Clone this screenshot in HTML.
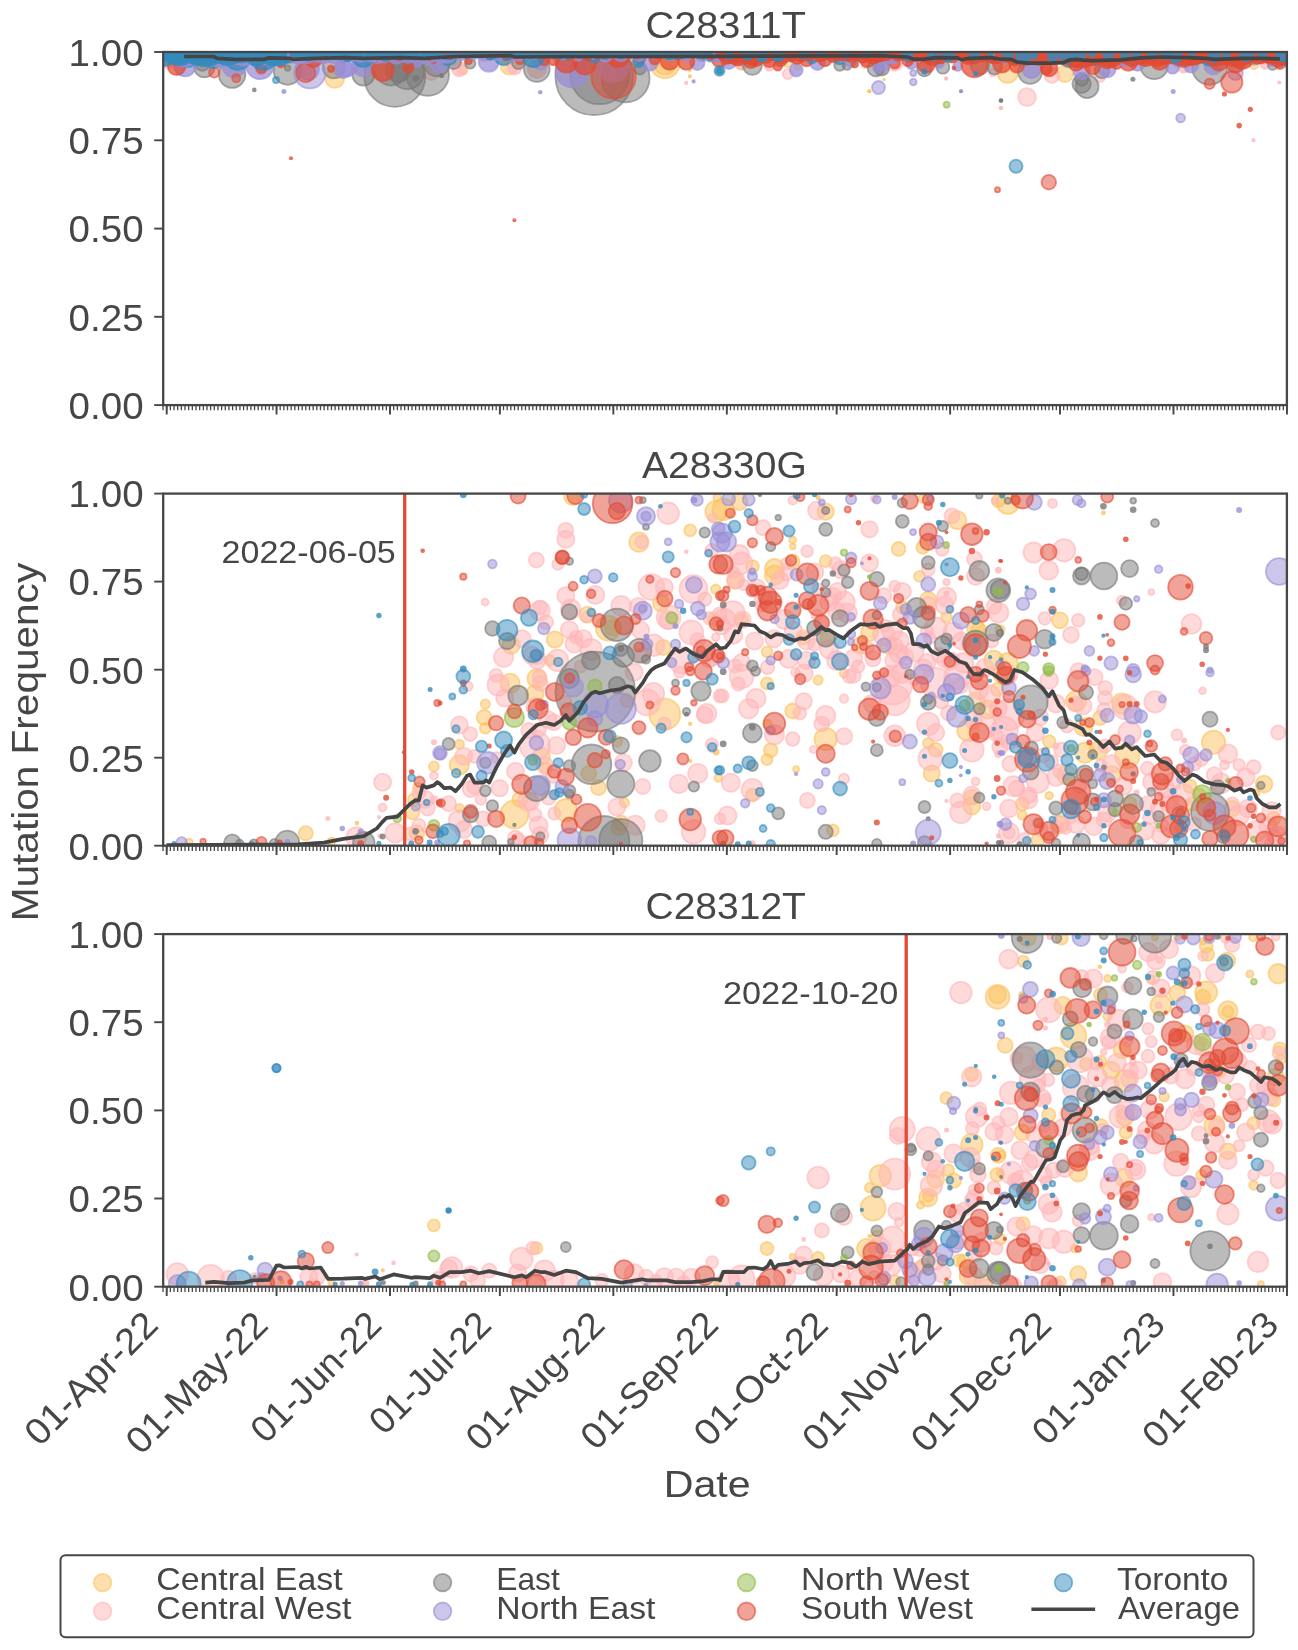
<!DOCTYPE html>
<html><head><meta charset="utf-8"><title>Mutation Frequency</title>
<style>
html,body{margin:0;padding:0;background:#fff;}
svg{display:block;will-change:transform;}
text{font-family:"Liberation Sans",sans-serif;fill:#464646;}
.y{fill:#FBC15E;fill-opacity:.5;stroke:#FBC15E;stroke-opacity:.6;stroke-width:1.8;}
.p{fill:#FFB5B8;fill-opacity:.5;stroke:#FFB5B8;stroke-opacity:.6;stroke-width:1.8;}
.g{fill:#777777;fill-opacity:.5;stroke:#777777;stroke-opacity:.6;stroke-width:1.8;}
.v{fill:#988ED5;fill-opacity:.5;stroke:#988ED5;stroke-opacity:.6;stroke-width:1.8;}
.n{fill:#8EBA42;fill-opacity:.5;stroke:#8EBA42;stroke-opacity:.6;stroke-width:1.8;}
.r{fill:#E24A33;fill-opacity:.5;stroke:#E24A33;stroke-opacity:.6;stroke-width:1.8;}
.b{fill:#348ABD;fill-opacity:.5;stroke:#348ABD;stroke-opacity:.6;stroke-width:1.8;}
.o{fill-opacity:.72}.s{fill-opacity:.8;stroke:none}
.V{fill:#988ED5;fill-opacity:.8}.R{fill:#E24A33;fill-opacity:.85}.B{fill:#348ABD;fill-opacity:.85}
.av{fill:none;stroke:#454545;stroke-width:3.7;stroke-linejoin:round;stroke-linecap:butt;}
</style></head><body>
<svg width="1298" height="1650" viewBox="0 0 1298 1650">
<defs>
<clipPath id="c0"><rect x="163.2" y="52.0" width="1123.7" height="353.1"/></clipPath>
<clipPath id="c1"><rect x="163.2" y="493.6" width="1123.7" height="352.1"/></clipPath>
<clipPath id="c2"><rect x="163.2" y="934.1" width="1123.7" height="352.6"/></clipPath>
</defs>
<g clip-path="url(#c0)">
<circle class="y" cx="334.7" cy="78.3" r="9.6"/>
<circle class="y" cx="462.9" cy="70.0" r="4.6"/>
<circle class="y" cx="509.1" cy="66.3" r="8.3"/>
<circle class="y" cx="665.0" cy="63.5" r="14.8"/>
<circle class="y" cx="665.0" cy="63.5" r="11.1"/>
<circle class="y s" cx="689.9" cy="70.0" r="2.1"/>
<circle class="y s" cx="689.9" cy="76.4" r="2.1"/>
<circle class="y" cx="741.7" cy="65.3" r="4.6"/>
<circle class="y" cx="787.9" cy="62.6" r="4.6"/>
<circle class="y" cx="797.2" cy="67.2" r="2.8"/>
<circle class="y s" cx="869.3" cy="91.2" r="2.1"/>
<circle class="y s" cx="883.7" cy="72.7" r="2.1"/>
<circle class="y s" cx="884.1" cy="79.6" r="1.7"/>
<circle class="y" cx="1007.6" cy="72.7" r="10.2"/>
<circle class="y" cx="1064.9" cy="73.7" r="8.3"/>
<circle class="y" cx="1254.0" cy="64.4" r="4.6"/>
<circle class="y s" cx="869.3" cy="91.5" r="1.8"/>
<circle class="p o" cx="167.4" cy="59.8" r="8.3"/>
<circle class="p" cx="431.4" cy="72.7" r="7.4"/>
<circle class="p o" cx="459.2" cy="69.0" r="7.4"/>
<circle class="p o" cx="514.6" cy="67.2" r="7.4"/>
<circle class="p o" cx="536.8" cy="69.0" r="9.2"/>
<circle class="p s" cx="686.2" cy="82.9" r="2.1"/>
<circle class="p o" cx="739.9" cy="63.5" r="5.5"/>
<circle class="p o" cx="769.4" cy="66.3" r="4.6"/>
<circle class="p" cx="787.9" cy="74.0" r="5.2"/>
<circle class="p o" cx="864.7" cy="65.3" r="2.8"/>
<circle class="p o" cx="894.8" cy="63.5" r="7.4"/>
<circle class="p s" cx="946.2" cy="78.7" r="2.1"/>
<circle class="p" cx="992.8" cy="72.7" r="3.7"/>
<circle class="p" cx="1027.0" cy="97.1" r="8.9"/>
<circle class="p s" cx="1001.1" cy="107.9" r="2.1"/>
<circle class="p" cx="1052.0" cy="75.5" r="7.4"/>
<circle class="p" cx="1100.0" cy="76.4" r="5.5"/>
<circle class="p o" cx="1183.7" cy="67.2" r="5.5"/>
<circle class="p s" cx="1279.3" cy="82.5" r="2.1"/>
<circle class="p o" cx="1265.1" cy="64.4" r="4.6"/>
<circle class="p s" cx="1253.5" cy="140.2" r="2.1"/>
<circle class="p s" cx="946.1" cy="78.2" r="1.8"/>
<circle class="p s" cx="1000.8" cy="108.0" r="2.1"/>
<circle class="g" cx="204.4" cy="67.2" r="10.2"/>
<circle class="g" cx="202.5" cy="63.5" r="7.4"/>
<circle class="g" cx="232.1" cy="74.6" r="13.3"/>
<circle class="g s" cx="254.3" cy="89.9" r="2.3"/>
<circle class="g" cx="287.6" cy="70.9" r="13.9"/>
<circle class="g" cx="287.6" cy="68.1" r="2.8"/>
<circle class="g" cx="333.8" cy="67.2" r="11.1"/>
<circle class="g" cx="363.4" cy="74.6" r="11.1"/>
<circle class="g" cx="394.8" cy="76.4" r="30.5"/>
<circle class="g" cx="391.1" cy="69.0" r="16.6"/>
<circle class="g" cx="398.5" cy="69.0" r="12.9"/>
<circle class="g" cx="427.7" cy="74.6" r="21.3"/>
<circle class="g" cx="407.4" cy="72.7" r="16.6"/>
<circle class="g s" cx="415.7" cy="78.3" r="3.4"/>
<circle class="g s" cx="441.6" cy="75.5" r="2.6"/>
<circle class="g" cx="437.0" cy="63.5" r="12.9"/>
<circle class="g" cx="453.6" cy="61.6" r="7.4"/>
<circle class="g" cx="470.3" cy="63.5" r="5.2"/>
<circle class="g" cx="518.3" cy="62.6" r="6.5"/>
<circle class="g" cx="536.8" cy="69.0" r="12.9"/>
<circle class="g" cx="594.2" cy="76.4" r="38.8"/>
<circle class="g" cx="599.7" cy="74.6" r="29.6"/>
<circle class="g" cx="625.6" cy="78.3" r="24.0"/>
<circle class="g" cx="640.0" cy="69.0" r="5.5"/>
<circle class="g" cx="752.4" cy="65.3" r="9.6"/>
<circle class="g" cx="839.7" cy="65.3" r="5.5"/>
<circle class="g" cx="847.1" cy="65.3" r="4.6"/>
<circle class="g" cx="875.8" cy="68.1" r="8.3"/>
<circle class="g" cx="881.8" cy="68.1" r="7.4"/>
<circle class="g" cx="924.4" cy="69.0" r="7.4"/>
<circle class="g" cx="942.9" cy="67.2" r="6.5"/>
<circle class="g" cx="979.9" cy="65.3" r="9.2"/>
<circle class="g" cx="994.6" cy="67.2" r="7.4"/>
<circle class="g" cx="1030.1" cy="71.8" r="12.0"/>
<circle class="g s" cx="1001.1" cy="100.5" r="2.3"/>
<circle class="g" cx="1081.6" cy="83.8" r="9.2"/>
<circle class="g" cx="1087.1" cy="86.6" r="11.5"/>
<circle class="g" cx="1081.6" cy="79.2" r="6.5"/>
<circle class="g" cx="1101.9" cy="70.9" r="7.4"/>
<circle class="g s" cx="1132.9" cy="79.2" r="2.5"/>
<circle class="g" cx="1154.2" cy="65.3" r="13.9"/>
<circle class="g" cx="1209.6" cy="67.2" r="17.6"/>
<circle class="g" cx="1272.5" cy="65.3" r="4.6"/>
<circle class="g s" cx="1000.8" cy="100.7" r="2.1"/>
<circle class="v o" cx="185.0" cy="65.3" r="11.1"/>
<circle class="v o" cx="234.0" cy="65.3" r="12.0"/>
<circle class="v o" cx="259.9" cy="65.3" r="13.9"/>
<circle class="v s" cx="283.9" cy="91.6" r="2.5"/>
<circle class="v" cx="309.8" cy="72.7" r="15.7"/>
<circle class="v o" cx="307.9" cy="69.0" r="11.1"/>
<circle class="v o" cx="343.1" cy="69.0" r="9.2"/>
<circle class="v o" cx="346.8" cy="65.3" r="11.1"/>
<circle class="v o" cx="363.4" cy="65.3" r="11.1"/>
<circle class="v o" cx="416.6" cy="61.6" r="5.5"/>
<circle class="v o" cx="438.8" cy="63.5" r="9.2"/>
<circle class="v o" cx="488.8" cy="61.6" r="10.2"/>
<circle class="v o" cx="540.5" cy="61.6" r="8.3"/>
<circle class="v s" cx="540.2" cy="92.3" r="2.3"/>
<circle class="v o" cx="572.0" cy="70.9" r="16.6"/>
<circle class="v o" cx="612.6" cy="65.3" r="16.6"/>
<circle class="v o" cx="649.2" cy="61.6" r="9.2"/>
<circle class="v o" cx="697.3" cy="62.6" r="7.4"/>
<circle class="v s" cx="693.6" cy="81.4" r="2.1"/>
<circle class="v o" cx="728.8" cy="61.6" r="7.4"/>
<circle class="v o" cx="743.6" cy="60.7" r="4.6"/>
<circle class="v o" cx="796.2" cy="70.0" r="6.5"/>
<circle class="v o" cx="817.5" cy="62.6" r="7.4"/>
<circle class="v o" cx="850.8" cy="61.6" r="5.5"/>
<circle class="v o" cx="878.5" cy="67.2" r="5.5"/>
<circle class="v" cx="878.5" cy="87.5" r="6.5"/>
<circle class="v o" cx="883.7" cy="65.3" r="5.5"/>
<circle class="v" cx="913.3" cy="73.1" r="3.0"/>
<circle class="v" cx="913.3" cy="82.0" r="3.3"/>
<circle class="v o" cx="911.4" cy="63.5" r="5.5"/>
<circle class="v o" cx="939.2" cy="63.5" r="4.6"/>
<circle class="v o" cx="957.7" cy="66.3" r="4.6"/>
<circle class="v s" cx="961.0" cy="91.2" r="2.1"/>
<circle class="v o" cx="1031.6" cy="69.0" r="9.2"/>
<circle class="v o" cx="1081.6" cy="70.9" r="8.3"/>
<circle class="v o" cx="1107.4" cy="69.0" r="8.3"/>
<circle class="v o" cx="1137.5" cy="63.5" r="7.4"/>
<circle class="v s" cx="1173.2" cy="91.6" r="2.5"/>
<circle class="v o" cx="1172.6" cy="67.2" r="6.5"/>
<circle class="v o" cx="1191.1" cy="65.3" r="7.4"/>
<circle class="v o" cx="1213.3" cy="65.3" r="9.2"/>
<circle class="v" cx="1235.5" cy="72.7" r="7.4"/>
<circle class="v" cx="1180.6" cy="118.0" r="4.4"/>
<circle class="v s" cx="961.0" cy="91.5" r="1.8"/>
<circle class="n" cx="946.6" cy="104.7" r="3.0"/>
<circle class="r o" cx="176.6" cy="66.3" r="8.9"/>
<circle class="r" cx="214.2" cy="72.4" r="5.2"/>
<circle class="r" cx="236.2" cy="78.3" r="4.1"/>
<circle class="r o" cx="261.3" cy="68.1" r="5.5"/>
<circle class="r o" cx="281.1" cy="63.5" r="4.1"/>
<circle class="r" cx="305.7" cy="72.7" r="9.6"/>
<circle class="r o" cx="289.4" cy="54.2" r="7.4"/>
<circle class="r o" cx="313.5" cy="57.9" r="9.2"/>
<circle class="r o" cx="331.0" cy="68.7" r="3.3"/>
<circle class="r o" cx="382.8" cy="70.0" r="11.1"/>
<circle class="r o" cx="387.4" cy="55.2" r="7.4"/>
<circle class="r o" cx="342.1" cy="56.1" r="4.6"/>
<circle class="r o" cx="317.2" cy="54.2" r="3.7"/>
<circle class="r o" cx="408.3" cy="67.2" r="5.5"/>
<circle class="r o" cx="433.3" cy="59.8" r="3.7"/>
<circle class="r o" cx="468.4" cy="60.7" r="3.7"/>
<circle class="r o" cx="520.2" cy="59.8" r="4.6"/>
<circle class="r o" cx="544.2" cy="59.8" r="5.5"/>
<circle class="r o" cx="566.4" cy="61.6" r="11.1"/>
<circle class="r o" cx="584.9" cy="63.5" r="11.1"/>
<circle class="r" cx="613.6" cy="76.4" r="22.2"/>
<circle class="r o" cx="618.2" cy="56.1" r="11.1"/>
<circle class="r o" cx="553.5" cy="59.8" r="5.5"/>
<circle class="r o" cx="420.3" cy="54.2" r="3.7"/>
<circle class="r o" cx="640.0" cy="57.9" r="5.5"/>
<circle class="r o" cx="669.6" cy="60.7" r="9.2"/>
<circle class="r o" cx="686.2" cy="61.6" r="8.3"/>
<circle class="r o" cx="719.5" cy="59.8" r="7.4"/>
<circle class="r o" cx="750.9" cy="60.7" r="7.4"/>
<circle class="r o" cx="769.4" cy="59.8" r="7.4"/>
<circle class="r o" cx="777.8" cy="66.3" r="4.4"/>
<circle class="r o" cx="780.5" cy="59.8" r="6.5"/>
<circle class="r o" cx="806.4" cy="59.8" r="6.5"/>
<circle class="r o" cx="824.9" cy="59.8" r="6.5"/>
<circle class="r o" cx="854.9" cy="64.4" r="3.3"/>
<circle class="r o" cx="867.4" cy="59.8" r="7.4"/>
<circle class="r o" cx="654.8" cy="58.9" r="5.5"/>
<circle class="r o" cx="894.8" cy="63.5" r="5.2"/>
<circle class="r o" cx="926.2" cy="63.5" r="9.2"/>
<circle class="r o" cx="907.7" cy="60.7" r="5.5"/>
<circle class="r s" cx="954.0" cy="68.1" r="2.3"/>
<circle class="r o" cx="974.3" cy="64.4" r="12.9"/>
<circle class="r o" cx="1002.0" cy="63.5" r="9.2"/>
<circle class="r o" cx="1016.8" cy="65.3" r="7.4"/>
<circle class="r o" cx="1049.2" cy="68.1" r="8.3"/>
<circle class="r o" cx="1046.4" cy="69.0" r="5.5"/>
<circle class="r o" cx="1076.0" cy="63.5" r="7.4"/>
<circle class="r o" cx="1092.6" cy="67.2" r="7.4"/>
<circle class="r o" cx="1116.7" cy="63.5" r="5.5"/>
<circle class="r o" cx="935.5" cy="56.1" r="5.5"/>
<circle class="r o" cx="990.9" cy="56.1" r="5.5"/>
<circle class="r o" cx="1083.4" cy="56.1" r="5.5"/>
<circle class="r o" cx="885.5" cy="56.1" r="5.5"/>
<circle class="r o" cx="1128.3" cy="61.6" r="9.2"/>
<circle class="r o" cx="1159.7" cy="60.7" r="9.2"/>
<circle class="r o" cx="1183.7" cy="59.8" r="7.4"/>
<circle class="r" cx="1209.6" cy="83.8" r="5.2"/>
<circle class="r" cx="1231.8" cy="82.0" r="10.7"/>
<circle class="r s" cx="1224.4" cy="94.0" r="2.6"/>
<circle class="r s" cx="1250.3" cy="109.3" r="2.6"/>
<circle class="r s" cx="1239.2" cy="125.6" r="2.8"/>
<circle class="r o" cx="1218.9" cy="61.6" r="9.2"/>
<circle class="r o" cx="1235.5" cy="63.5" r="9.2"/>
<circle class="r o" cx="1279.9" cy="63.5" r="5.5"/>
<circle class="r o" cx="1261.4" cy="57.9" r="5.5"/>
<circle class="r o" cx="1143.1" cy="56.1" r="5.5"/>
<circle class="r o" cx="1242.9" cy="58.9" r="6.5"/>
<circle class="r" cx="1048.8" cy="182.2" r="7.3"/>
<circle class="r" cx="997.5" cy="189.8" r="2.6"/>
<circle class="r s" cx="291.0" cy="158.2" r="2.0"/>
<circle class="r s" cx="514.4" cy="220.2" r="2.0"/>
<circle class="b o" cx="187.7" cy="54.2" r="12.9"/>
<circle class="b o" cx="176.6" cy="54.2" r="9.2"/>
<circle class="b o" cx="213.6" cy="56.1" r="12.0"/>
<circle class="b o" cx="237.7" cy="56.1" r="13.9"/>
<circle class="b o" cx="263.6" cy="55.2" r="14.8"/>
<circle class="b" cx="276.1" cy="80.1" r="3.1"/>
<circle class="b o" cx="300.5" cy="53.3" r="7.4"/>
<circle class="b o" cx="363.4" cy="56.1" r="11.1"/>
<circle class="b o" cx="278.3" cy="54.2" r="9.2"/>
<circle class="b o" cx="344.9" cy="54.2" r="7.4"/>
<circle class="b o" cx="326.4" cy="54.2" r="5.5"/>
<circle class="b o" cx="503.6" cy="56.1" r="9.2"/>
<circle class="b o" cx="448.1" cy="56.1" r="9.2"/>
<circle class="b o" cx="533.1" cy="56.1" r="11.1"/>
<circle class="b o" cx="594.2" cy="55.2" r="7.4"/>
<circle class="b o" cx="566.4" cy="54.2" r="5.5"/>
<circle class="b o" cx="409.2" cy="55.2" r="7.4"/>
<circle class="b o" cx="638.5" cy="61.6" r="5.5"/>
<circle class="b o" cx="719.5" cy="70.9" r="5.0"/>
<circle class="b o" cx="719.5" cy="70.9" r="2.8"/>
<circle class="b o" cx="812.0" cy="57.9" r="5.5"/>
<circle class="b o" cx="839.7" cy="57.9" r="6.5"/>
<circle class="b o" cx="710.3" cy="57.0" r="4.6"/>
<circle class="b o" cx="791.6" cy="57.0" r="4.6"/>
<circle class="b o" cx="750.9" cy="56.1" r="3.7"/>
<circle class="b s" cx="924.4" cy="71.8" r="3.0"/>
<circle class="b s" cx="975.8" cy="73.7" r="2.6"/>
<circle class="b o" cx="1027.9" cy="57.0" r="7.4"/>
<circle class="b o" cx="1046.4" cy="57.0" r="7.4"/>
<circle class="b o" cx="1068.6" cy="59.8" r="7.4"/>
<circle class="b o" cx="1101.9" cy="56.1" r="5.5"/>
<circle class="b o" cx="950.3" cy="55.2" r="5.5"/>
<circle class="b o" cx="972.5" cy="55.2" r="4.6"/>
<circle class="b o" cx="1002.0" cy="54.2" r="3.7"/>
<circle class="b o" cx="1183.7" cy="57.9" r="7.4"/>
<circle class="b o" cx="1224.4" cy="57.9" r="5.5"/>
<circle class="b o" cx="1198.5" cy="55.2" r="4.6"/>
<circle class="b o" cx="1168.9" cy="55.2" r="3.7"/>
<circle class="b" cx="1016.0" cy="166.3" r="6.6"/>
<circle class="V" cx="171.7" cy="53.3" r="9.0"/>
<circle class="V" cx="183.7" cy="54.8" r="12.5"/>
<circle class="V" cx="193.9" cy="52.3" r="13.6"/>
<circle class="V" cx="201.0" cy="52.1" r="13.7"/>
<circle class="V" cx="208.9" cy="53.9" r="12.7"/>
<circle class="V" cx="215.4" cy="52.5" r="9.7"/>
<circle class="V" cx="220.9" cy="53.5" r="14.8"/>
<circle class="V" cx="226.7" cy="53.6" r="11.8"/>
<circle class="V" cx="236.5" cy="52.3" r="12.5"/>
<circle class="V" cx="243.8" cy="53.7" r="12.9"/>
<circle class="V" cx="252.7" cy="53.1" r="10.5"/>
<circle class="V" cx="264.8" cy="53.4" r="12.2"/>
<circle class="V" cx="270.3" cy="53.5" r="9.0"/>
<circle class="V" cx="276.8" cy="53.4" r="11.3"/>
<circle class="V" cx="282.5" cy="53.8" r="10.0"/>
<circle class="B" cx="163.9" cy="53.9" r="12.9"/>
<circle class="B" cx="172.1" cy="52.3" r="10.5"/>
<circle class="B" cx="175.8" cy="52.6" r="13.0"/>
<circle class="B" cx="180.3" cy="52.3" r="13.8"/>
<circle class="B" cx="184.6" cy="53.7" r="9.2"/>
<circle class="B" cx="190.1" cy="52.7" r="10.7"/>
<circle class="B" cx="197.6" cy="53.0" r="12.9"/>
<circle class="B" cx="203.5" cy="53.6" r="13.4"/>
<circle class="B" cx="209.2" cy="53.6" r="13.1"/>
<circle class="B" cx="214.2" cy="52.2" r="9.9"/>
<circle class="B" cx="219.9" cy="52.2" r="11.6"/>
<circle class="B" cx="227.5" cy="53.0" r="13.1"/>
<circle class="B" cx="234.2" cy="53.3" r="10.7"/>
<circle class="B" cx="241.2" cy="53.6" r="9.8"/>
<circle class="B" cx="249.2" cy="52.5" r="9.8"/>
<circle class="B" cx="256.8" cy="53.4" r="13.0"/>
<circle class="B" cx="262.5" cy="52.1" r="11.0"/>
<circle class="B" cx="266.4" cy="52.6" r="9.2"/>
<circle class="B" cx="272.4" cy="52.2" r="13.7"/>
<circle class="B" cx="279.4" cy="52.6" r="13.7"/>
<circle class="B" cx="283.3" cy="52.5" r="9.4"/>
<circle class="B" cx="288.9" cy="52.4" r="11.0"/>
<circle class="V" cx="298.0" cy="53.5" r="11.1"/>
<circle class="V" cx="306.0" cy="54.6" r="9.6"/>
<circle class="V" cx="316.4" cy="52.5" r="9.9"/>
<circle class="V" cx="324.0" cy="54.4" r="9.7"/>
<circle class="V" cx="333.0" cy="54.3" r="9.7"/>
<circle class="V" cx="340.8" cy="52.4" r="10.1"/>
<circle class="V" cx="352.9" cy="54.5" r="7.3"/>
<circle class="V" cx="360.6" cy="52.0" r="10.4"/>
<circle class="V" cx="370.6" cy="54.3" r="7.7"/>
<circle class="V" cx="377.6" cy="53.3" r="10.7"/>
<circle class="V" cx="384.5" cy="54.5" r="8.9"/>
<circle class="V" cx="396.2" cy="54.9" r="9.7"/>
<circle class="V" cx="408.2" cy="53.3" r="10.4"/>
<circle class="V" cx="419.7" cy="54.5" r="7.5"/>
<circle class="V" cx="427.0" cy="53.2" r="11.3"/>
<circle class="V" cx="434.4" cy="52.3" r="8.9"/>
<circle class="V" cx="441.3" cy="54.1" r="9.9"/>
<circle class="V" cx="447.1" cy="54.6" r="9.2"/>
<circle class="R" cx="295.0" cy="53.2" r="4.2"/>
<circle class="R" cx="322.4" cy="53.7" r="6.0"/>
<circle class="R" cx="351.9" cy="53.6" r="5.4"/>
<circle class="R" cx="376.7" cy="53.5" r="5.8"/>
<circle class="R" cx="399.6" cy="54.1" r="6.8"/>
<circle class="R" cx="428.6" cy="54.7" r="6.0"/>
<circle class="B" cx="293.6" cy="53.3" r="4.4"/>
<circle class="B" cx="298.1" cy="53.6" r="4.3"/>
<circle class="B" cx="301.7" cy="53.8" r="6.4"/>
<circle class="B" cx="308.6" cy="53.5" r="8.0"/>
<circle class="B" cx="312.8" cy="53.4" r="5.3"/>
<circle class="B" cx="319.6" cy="52.6" r="4.8"/>
<circle class="B" cx="325.8" cy="52.6" r="6.1"/>
<circle class="B" cx="331.2" cy="52.7" r="5.3"/>
<circle class="B" cx="335.5" cy="52.5" r="7.0"/>
<circle class="B" cx="340.9" cy="53.1" r="7.3"/>
<circle class="B" cx="344.9" cy="52.3" r="4.1"/>
<circle class="B" cx="348.0" cy="54.0" r="7.9"/>
<circle class="B" cx="353.7" cy="54.0" r="6.1"/>
<circle class="B" cx="358.4" cy="53.0" r="4.3"/>
<circle class="B" cx="364.5" cy="52.6" r="6.8"/>
<circle class="B" cx="371.1" cy="52.4" r="6.0"/>
<circle class="B" cx="376.7" cy="53.6" r="6.7"/>
<circle class="B" cx="381.1" cy="53.1" r="4.7"/>
<circle class="B" cx="386.1" cy="53.9" r="7.8"/>
<circle class="B" cx="389.6" cy="53.1" r="6.5"/>
<circle class="B" cx="393.2" cy="53.9" r="5.0"/>
<circle class="B" cx="396.9" cy="53.0" r="6.0"/>
<circle class="B" cx="402.9" cy="53.7" r="5.3"/>
<circle class="B" cx="408.8" cy="53.1" r="6.1"/>
<circle class="B" cx="414.2" cy="52.9" r="5.5"/>
<circle class="B" cx="420.9" cy="53.5" r="6.7"/>
<circle class="B" cx="427.4" cy="53.2" r="4.3"/>
<circle class="B" cx="431.4" cy="53.6" r="5.4"/>
<circle class="B" cx="438.1" cy="53.4" r="5.5"/>
<circle class="B" cx="443.1" cy="52.1" r="5.8"/>
<circle class="B" cx="446.4" cy="52.6" r="7.7"/>
<circle class="B" cx="450.0" cy="53.4" r="6.6"/>
<circle class="V" cx="461.1" cy="54.6" r="6.4"/>
<circle class="V" cx="473.7" cy="52.5" r="7.6"/>
<circle class="V" cx="484.5" cy="52.6" r="9.0"/>
<circle class="V" cx="499.8" cy="54.2" r="7.0"/>
<circle class="V" cx="509.7" cy="54.7" r="7.6"/>
<circle class="V" cx="518.6" cy="54.7" r="6.9"/>
<circle class="V" cx="533.7" cy="53.1" r="6.6"/>
<circle class="V" cx="550.9" cy="52.7" r="5.0"/>
<circle class="V" cx="562.8" cy="55.0" r="5.5"/>
<circle class="V" cx="577.9" cy="54.6" r="7.1"/>
<circle class="V" cx="592.9" cy="53.6" r="6.3"/>
<circle class="V" cx="605.4" cy="54.8" r="7.8"/>
<circle class="V" cx="621.0" cy="53.4" r="8.6"/>
<circle class="V" cx="639.2" cy="54.9" r="7.2"/>
<circle class="V" cx="652.2" cy="52.6" r="6.1"/>
<circle class="V" cx="670.3" cy="52.5" r="8.8"/>
<circle class="V" cx="685.3" cy="54.5" r="7.1"/>
<circle class="V" cx="702.1" cy="53.8" r="8.3"/>
<circle class="V" cx="716.3" cy="54.2" r="8.2"/>
<circle class="R" cx="450.9" cy="54.0" r="6.1"/>
<circle class="R" cx="462.3" cy="52.4" r="5.9"/>
<circle class="R" cx="471.2" cy="53.6" r="3.9"/>
<circle class="R" cx="482.2" cy="52.7" r="5.6"/>
<circle class="R" cx="490.0" cy="54.9" r="5.6"/>
<circle class="R" cx="498.0" cy="53.6" r="4.1"/>
<circle class="R" cx="506.8" cy="54.8" r="6.3"/>
<circle class="R" cx="514.5" cy="53.3" r="5.1"/>
<circle class="R" cx="523.7" cy="55.0" r="3.8"/>
<circle class="R" cx="530.6" cy="53.8" r="4.5"/>
<circle class="R" cx="538.7" cy="54.1" r="4.1"/>
<circle class="R" cx="544.3" cy="54.9" r="4.4"/>
<circle class="R" cx="550.4" cy="52.2" r="5.5"/>
<circle class="R" cx="558.9" cy="53.0" r="6.4"/>
<circle class="R" cx="571.0" cy="54.1" r="6.2"/>
<circle class="R" cx="577.6" cy="54.9" r="3.5"/>
<circle class="R" cx="587.3" cy="54.8" r="6.2"/>
<circle class="R" cx="597.7" cy="54.8" r="5.3"/>
<circle class="R" cx="604.2" cy="54.8" r="4.1"/>
<circle class="R" cx="612.9" cy="53.3" r="5.0"/>
<circle class="R" cx="620.7" cy="52.8" r="6.2"/>
<circle class="R" cx="628.9" cy="54.1" r="5.0"/>
<circle class="R" cx="636.1" cy="52.9" r="6.4"/>
<circle class="R" cx="648.0" cy="52.5" r="4.2"/>
<circle class="R" cx="660.3" cy="54.8" r="4.6"/>
<circle class="R" cx="669.7" cy="53.3" r="4.8"/>
<circle class="R" cx="679.0" cy="54.3" r="5.7"/>
<circle class="R" cx="689.6" cy="52.2" r="4.2"/>
<circle class="R" cx="699.6" cy="54.1" r="5.0"/>
<circle class="R" cx="710.7" cy="54.9" r="5.6"/>
<circle class="B" cx="452.0" cy="53.6" r="5.6"/>
<circle class="B" cx="459.4" cy="53.4" r="4.9"/>
<circle class="B" cx="466.7" cy="53.6" r="5.5"/>
<circle class="B" cx="471.0" cy="52.8" r="4.5"/>
<circle class="B" cx="475.3" cy="52.6" r="5.5"/>
<circle class="B" cx="482.7" cy="53.2" r="4.8"/>
<circle class="B" cx="490.7" cy="53.9" r="6.6"/>
<circle class="B" cx="496.6" cy="53.7" r="4.5"/>
<circle class="B" cx="504.0" cy="52.5" r="4.7"/>
<circle class="B" cx="507.9" cy="53.7" r="6.4"/>
<circle class="B" cx="515.5" cy="53.1" r="4.4"/>
<circle class="B" cx="521.0" cy="52.4" r="5.7"/>
<circle class="B" cx="525.3" cy="52.4" r="6.2"/>
<circle class="B" cx="531.9" cy="53.4" r="5.6"/>
<circle class="B" cx="537.1" cy="52.4" r="4.7"/>
<circle class="B" cx="543.4" cy="52.0" r="5.1"/>
<circle class="B" cx="549.1" cy="53.4" r="4.0"/>
<circle class="B" cx="554.7" cy="52.8" r="6.8"/>
<circle class="B" cx="561.4" cy="53.0" r="6.3"/>
<circle class="B" cx="568.7" cy="53.6" r="5.7"/>
<circle class="B" cx="573.8" cy="53.2" r="4.1"/>
<circle class="B" cx="580.7" cy="52.2" r="6.9"/>
<circle class="B" cx="587.1" cy="53.5" r="5.2"/>
<circle class="B" cx="591.7" cy="52.9" r="4.3"/>
<circle class="B" cx="597.3" cy="53.7" r="5.8"/>
<circle class="B" cx="605.3" cy="53.4" r="6.4"/>
<circle class="B" cx="612.4" cy="52.5" r="4.2"/>
<circle class="B" cx="617.9" cy="52.3" r="6.0"/>
<circle class="B" cx="621.6" cy="53.0" r="6.4"/>
<circle class="B" cx="628.7" cy="52.0" r="4.1"/>
<circle class="B" cx="636.9" cy="52.1" r="6.3"/>
<circle class="B" cx="644.7" cy="52.5" r="5.9"/>
<circle class="B" cx="651.1" cy="53.8" r="4.7"/>
<circle class="B" cx="656.9" cy="52.5" r="5.3"/>
<circle class="B" cx="664.0" cy="53.0" r="4.0"/>
<circle class="B" cx="669.0" cy="53.3" r="6.9"/>
<circle class="B" cx="675.5" cy="53.8" r="6.1"/>
<circle class="B" cx="682.2" cy="53.3" r="5.8"/>
<circle class="B" cx="690.2" cy="52.8" r="5.3"/>
<circle class="B" cx="695.5" cy="52.6" r="4.3"/>
<circle class="B" cx="703.3" cy="53.7" r="6.2"/>
<circle class="B" cx="709.7" cy="52.7" r="5.6"/>
<circle class="B" cx="716.1" cy="53.3" r="5.2"/>
<circle class="V" cx="722.2" cy="52.4" r="9.6"/>
<circle class="V" cx="732.6" cy="54.4" r="9.9"/>
<circle class="V" cx="741.6" cy="54.1" r="7.6"/>
<circle class="V" cx="751.8" cy="54.1" r="8.6"/>
<circle class="V" cx="768.1" cy="54.6" r="7.3"/>
<circle class="V" cx="782.3" cy="54.5" r="7.0"/>
<circle class="V" cx="797.9" cy="52.3" r="9.6"/>
<circle class="V" cx="809.4" cy="54.4" r="6.0"/>
<circle class="V" cx="816.9" cy="54.4" r="6.4"/>
<circle class="V" cx="830.5" cy="54.8" r="6.7"/>
<circle class="V" cx="843.2" cy="53.1" r="9.3"/>
<circle class="V" cx="857.7" cy="55.3" r="7.2"/>
<circle class="V" cx="873.9" cy="52.1" r="8.3"/>
<circle class="V" cx="884.3" cy="54.2" r="9.0"/>
<circle class="V" cx="892.3" cy="55.1" r="9.7"/>
<circle class="V" cx="907.0" cy="52.1" r="6.3"/>
<circle class="V" cx="922.3" cy="54.2" r="7.4"/>
<circle class="V" cx="936.0" cy="55.3" r="8.4"/>
<circle class="V" cx="943.4" cy="53.8" r="6.9"/>
<circle class="V" cx="953.9" cy="53.3" r="7.6"/>
<circle class="V" cx="967.8" cy="52.1" r="6.5"/>
<circle class="V" cx="978.4" cy="55.0" r="6.4"/>
<circle class="V" cx="988.2" cy="52.6" r="8.5"/>
<circle class="B" cx="724.4" cy="52.2" r="6.4"/>
<circle class="B" cx="735.3" cy="54.0" r="6.5"/>
<circle class="B" cx="743.7" cy="52.9" r="5.6"/>
<circle class="B" cx="753.6" cy="53.7" r="6.1"/>
<circle class="B" cx="760.2" cy="53.3" r="5.5"/>
<circle class="B" cx="766.6" cy="53.5" r="5.4"/>
<circle class="B" cx="776.2" cy="52.9" r="4.8"/>
<circle class="B" cx="782.6" cy="52.4" r="7.0"/>
<circle class="B" cx="792.8" cy="55.0" r="4.8"/>
<circle class="B" cx="800.4" cy="52.9" r="4.5"/>
<circle class="B" cx="810.4" cy="54.9" r="5.4"/>
<circle class="B" cx="817.6" cy="53.1" r="4.1"/>
<circle class="B" cx="825.5" cy="54.4" r="6.1"/>
<circle class="B" cx="831.0" cy="52.1" r="5.8"/>
<circle class="B" cx="837.8" cy="54.5" r="6.9"/>
<circle class="B" cx="847.9" cy="54.0" r="6.4"/>
<circle class="B" cx="855.5" cy="54.8" r="6.7"/>
<circle class="B" cx="863.9" cy="54.8" r="5.3"/>
<circle class="B" cx="873.1" cy="54.9" r="5.9"/>
<circle class="B" cx="880.9" cy="52.6" r="6.8"/>
<circle class="B" cx="888.6" cy="53.2" r="5.1"/>
<circle class="B" cx="897.0" cy="53.2" r="6.8"/>
<circle class="B" cx="907.3" cy="52.8" r="6.8"/>
<circle class="B" cx="917.1" cy="53.4" r="5.1"/>
<circle class="B" cx="926.1" cy="54.8" r="4.5"/>
<circle class="B" cx="934.2" cy="53.4" r="6.8"/>
<circle class="B" cx="945.6" cy="54.3" r="4.4"/>
<circle class="B" cx="953.7" cy="54.8" r="5.2"/>
<circle class="B" cx="963.5" cy="52.8" r="5.0"/>
<circle class="B" cx="972.1" cy="52.9" r="6.0"/>
<circle class="B" cx="982.0" cy="54.4" r="6.2"/>
<circle class="B" cx="991.4" cy="52.5" r="5.3"/>
<circle class="R" cx="722.3" cy="52.8" r="7.3"/>
<circle class="R" cx="727.2" cy="55.3" r="9.2"/>
<circle class="R" cx="730.4" cy="53.5" r="6.1"/>
<circle class="R" cx="734.0" cy="56.7" r="7.9"/>
<circle class="R" cx="737.7" cy="56.9" r="9.4"/>
<circle class="R" cx="742.2" cy="53.5" r="7.9"/>
<circle class="R" cx="747.0" cy="54.3" r="9.7"/>
<circle class="R" cx="752.3" cy="55.8" r="9.8"/>
<circle class="R" cx="755.7" cy="57.0" r="9.9"/>
<circle class="R" cx="762.1" cy="52.6" r="5.7"/>
<circle class="R" cx="765.6" cy="54.4" r="9.3"/>
<circle class="R" cx="772.1" cy="52.1" r="8.9"/>
<circle class="R" cx="775.9" cy="53.6" r="6.3"/>
<circle class="R" cx="782.6" cy="54.1" r="9.9"/>
<circle class="R" cx="786.7" cy="53.8" r="6.2"/>
<circle class="R" cx="791.0" cy="53.0" r="6.5"/>
<circle class="R" cx="797.0" cy="54.6" r="9.9"/>
<circle class="R" cx="802.1" cy="55.7" r="6.3"/>
<circle class="R" cx="808.9" cy="55.4" r="5.9"/>
<circle class="R" cx="814.3" cy="52.2" r="6.7"/>
<circle class="R" cx="819.4" cy="55.1" r="7.3"/>
<circle class="R" cx="822.9" cy="52.4" r="8.3"/>
<circle class="R" cx="828.4" cy="54.6" r="5.5"/>
<circle class="R" cx="832.7" cy="56.6" r="6.3"/>
<circle class="R" cx="839.6" cy="53.9" r="7.0"/>
<circle class="R" cx="842.7" cy="53.1" r="8.2"/>
<circle class="R" cx="848.0" cy="55.9" r="5.3"/>
<circle class="R" cx="851.2" cy="53.9" r="8.6"/>
<circle class="R" cx="856.2" cy="55.2" r="5.0"/>
<circle class="R" cx="862.5" cy="55.1" r="8.4"/>
<circle class="R" cx="868.9" cy="56.0" r="5.6"/>
<circle class="R" cx="873.0" cy="54.8" r="9.7"/>
<circle class="R" cx="877.1" cy="53.5" r="8.9"/>
<circle class="R" cx="880.3" cy="55.7" r="6.5"/>
<circle class="R" cx="886.0" cy="53.7" r="7.4"/>
<circle class="R" cx="891.5" cy="52.2" r="7.1"/>
<circle class="R" cx="898.1" cy="55.7" r="6.1"/>
<circle class="R" cx="904.0" cy="55.9" r="5.1"/>
<circle class="R" cx="910.6" cy="54.7" r="8.2"/>
<circle class="R" cx="915.5" cy="53.4" r="8.7"/>
<circle class="R" cx="922.5" cy="54.9" r="5.3"/>
<circle class="R" cx="927.9" cy="54.1" r="9.8"/>
<circle class="R" cx="932.7" cy="56.9" r="9.5"/>
<circle class="R" cx="935.8" cy="55.1" r="6.3"/>
<circle class="R" cx="939.7" cy="55.0" r="9.5"/>
<circle class="R" cx="945.9" cy="52.1" r="8.2"/>
<circle class="R" cx="951.8" cy="53.7" r="9.6"/>
<circle class="R" cx="958.7" cy="52.4" r="5.6"/>
<circle class="R" cx="963.5" cy="52.2" r="7.0"/>
<circle class="R" cx="968.1" cy="56.1" r="8.8"/>
<circle class="R" cx="974.1" cy="55.3" r="9.1"/>
<circle class="R" cx="978.4" cy="52.3" r="7.1"/>
<circle class="R" cx="983.0" cy="55.3" r="7.2"/>
<circle class="R" cx="989.9" cy="55.4" r="7.6"/>
<circle class="R" cx="994.4" cy="54.5" r="9.8"/>
<circle class="R" cx="999.7" cy="53.6" r="9.8"/>
<circle class="B" cx="729.8" cy="55.4" r="4.8"/>
<circle class="B" cx="747.5" cy="53.9" r="6.9"/>
<circle class="B" cx="761.8" cy="55.8" r="6.6"/>
<circle class="B" cx="778.2" cy="55.4" r="6.7"/>
<circle class="B" cx="804.4" cy="53.8" r="5.7"/>
<circle class="B" cx="820.7" cy="52.4" r="5.7"/>
<circle class="B" cx="846.0" cy="53.9" r="5.0"/>
<circle class="B" cx="866.5" cy="52.4" r="5.6"/>
<circle class="B" cx="882.5" cy="52.8" r="4.3"/>
<circle class="B" cx="907.5" cy="55.1" r="6.2"/>
<circle class="B" cx="933.1" cy="55.2" r="6.1"/>
<circle class="B" cx="948.3" cy="55.3" r="7.0"/>
<circle class="B" cx="974.4" cy="55.1" r="6.0"/>
<circle class="B" cx="992.0" cy="53.1" r="5.5"/>
<circle class="V" cx="1000.5" cy="54.8" r="7.2"/>
<circle class="V" cx="1007.9" cy="52.7" r="11.5"/>
<circle class="V" cx="1016.9" cy="55.1" r="9.1"/>
<circle class="V" cx="1029.8" cy="56.9" r="7.8"/>
<circle class="V" cx="1041.7" cy="52.4" r="11.9"/>
<circle class="V" cx="1049.7" cy="53.2" r="9.3"/>
<circle class="V" cx="1061.3" cy="52.7" r="10.3"/>
<circle class="V" cx="1072.3" cy="57.5" r="8.4"/>
<circle class="V" cx="1080.2" cy="57.8" r="7.2"/>
<circle class="V" cx="1092.4" cy="53.8" r="11.4"/>
<circle class="V" cx="1101.1" cy="53.6" r="10.4"/>
<circle class="V" cx="1113.4" cy="53.9" r="8.2"/>
<circle class="V" cx="1124.8" cy="55.2" r="11.7"/>
<circle class="V" cx="1135.9" cy="52.7" r="11.6"/>
<circle class="V" cx="1150.9" cy="56.3" r="7.3"/>
<circle class="V" cx="1163.6" cy="54.3" r="8.2"/>
<circle class="V" cx="1179.4" cy="56.5" r="11.0"/>
<circle class="V" cx="1188.5" cy="52.8" r="11.7"/>
<circle class="V" cx="1202.3" cy="52.1" r="8.5"/>
<circle class="V" cx="1214.5" cy="52.8" r="9.8"/>
<circle class="V" cx="1224.6" cy="53.9" r="9.2"/>
<circle class="V" cx="1234.0" cy="56.6" r="9.7"/>
<circle class="V" cx="1245.4" cy="52.8" r="8.6"/>
<circle class="V" cx="1253.9" cy="56.8" r="8.7"/>
<circle class="V" cx="1262.8" cy="53.3" r="8.3"/>
<circle class="V" cx="1273.5" cy="56.8" r="10.2"/>
<circle class="V" cx="1283.4" cy="57.9" r="9.7"/>
<circle class="B" cx="1002.8" cy="54.0" r="6.1"/>
<circle class="B" cx="1011.7" cy="53.8" r="6.3"/>
<circle class="B" cx="1016.6" cy="52.7" r="9.8"/>
<circle class="B" cx="1025.6" cy="54.3" r="7.2"/>
<circle class="B" cx="1032.0" cy="54.0" r="5.3"/>
<circle class="B" cx="1038.0" cy="55.0" r="5.3"/>
<circle class="B" cx="1042.4" cy="55.5" r="5.3"/>
<circle class="B" cx="1050.6" cy="53.2" r="5.9"/>
<circle class="B" cx="1058.7" cy="52.4" r="8.8"/>
<circle class="B" cx="1067.2" cy="54.9" r="6.8"/>
<circle class="B" cx="1072.2" cy="54.2" r="5.5"/>
<circle class="B" cx="1080.6" cy="54.2" r="7.4"/>
<circle class="B" cx="1087.3" cy="54.6" r="5.7"/>
<circle class="B" cx="1094.5" cy="56.9" r="9.0"/>
<circle class="B" cx="1099.8" cy="56.8" r="7.5"/>
<circle class="B" cx="1105.4" cy="56.4" r="5.6"/>
<circle class="B" cx="1111.5" cy="52.0" r="9.3"/>
<circle class="B" cx="1116.0" cy="52.7" r="9.1"/>
<circle class="B" cx="1125.4" cy="55.8" r="6.1"/>
<circle class="B" cx="1133.8" cy="53.6" r="6.7"/>
<circle class="B" cx="1141.6" cy="54.0" r="5.3"/>
<circle class="B" cx="1147.3" cy="55.1" r="9.5"/>
<circle class="B" cx="1153.7" cy="52.7" r="5.2"/>
<circle class="B" cx="1162.6" cy="54.7" r="5.2"/>
<circle class="B" cx="1167.6" cy="54.1" r="8.2"/>
<circle class="B" cx="1174.7" cy="56.5" r="7.9"/>
<circle class="B" cx="1183.6" cy="56.1" r="7.9"/>
<circle class="B" cx="1190.3" cy="53.5" r="6.6"/>
<circle class="B" cx="1197.9" cy="55.7" r="8.6"/>
<circle class="B" cx="1203.1" cy="54.8" r="6.8"/>
<circle class="B" cx="1209.8" cy="56.7" r="10.0"/>
<circle class="B" cx="1217.0" cy="56.6" r="7.2"/>
<circle class="B" cx="1224.6" cy="55.8" r="6.2"/>
<circle class="B" cx="1229.4" cy="54.6" r="6.1"/>
<circle class="B" cx="1239.2" cy="55.0" r="8.3"/>
<circle class="B" cx="1244.9" cy="52.6" r="9.1"/>
<circle class="B" cx="1254.3" cy="53.9" r="5.5"/>
<circle class="B" cx="1263.5" cy="53.9" r="6.5"/>
<circle class="B" cx="1271.8" cy="54.2" r="5.6"/>
<circle class="B" cx="1277.6" cy="55.2" r="8.1"/>
<circle class="B" cx="1284.6" cy="55.8" r="9.7"/>
<circle class="R" cx="1003.9" cy="52.3" r="10.2"/>
<circle class="R" cx="1009.6" cy="57.7" r="6.2"/>
<circle class="R" cx="1015.3" cy="56.4" r="9.8"/>
<circle class="R" cx="1021.1" cy="53.4" r="11.3"/>
<circle class="R" cx="1026.4" cy="56.7" r="9.0"/>
<circle class="R" cx="1032.2" cy="55.5" r="6.7"/>
<circle class="R" cx="1035.7" cy="54.1" r="8.6"/>
<circle class="R" cx="1038.5" cy="55.3" r="10.5"/>
<circle class="R" cx="1044.0" cy="54.2" r="8.4"/>
<circle class="R" cx="1049.8" cy="53.9" r="7.1"/>
<circle class="R" cx="1054.0" cy="52.1" r="8.9"/>
<circle class="R" cx="1058.5" cy="55.5" r="8.1"/>
<circle class="R" cx="1064.7" cy="55.9" r="9.3"/>
<circle class="R" cx="1068.7" cy="56.3" r="7.1"/>
<circle class="R" cx="1074.2" cy="57.6" r="10.1"/>
<circle class="R" cx="1077.4" cy="56.2" r="11.8"/>
<circle class="R" cx="1083.3" cy="57.6" r="10.9"/>
<circle class="R" cx="1087.3" cy="55.6" r="9.2"/>
<circle class="R" cx="1090.3" cy="57.5" r="9.0"/>
<circle class="R" cx="1095.3" cy="56.9" r="8.5"/>
<circle class="R" cx="1100.9" cy="52.4" r="8.5"/>
<circle class="R" cx="1107.1" cy="57.9" r="11.0"/>
<circle class="R" cx="1111.3" cy="56.2" r="11.7"/>
<circle class="R" cx="1116.4" cy="55.6" r="8.0"/>
<circle class="R" cx="1121.0" cy="52.7" r="7.1"/>
<circle class="R" cx="1126.6" cy="53.7" r="10.7"/>
<circle class="R" cx="1132.3" cy="56.2" r="10.8"/>
<circle class="R" cx="1137.6" cy="57.2" r="6.5"/>
<circle class="R" cx="1141.3" cy="57.7" r="7.0"/>
<circle class="R" cx="1145.8" cy="57.2" r="9.8"/>
<circle class="R" cx="1149.1" cy="52.3" r="11.9"/>
<circle class="R" cx="1154.1" cy="54.3" r="9.9"/>
<circle class="R" cx="1157.1" cy="55.8" r="11.1"/>
<circle class="R" cx="1160.9" cy="53.8" r="8.1"/>
<circle class="R" cx="1164.0" cy="55.5" r="9.7"/>
<circle class="R" cx="1168.9" cy="55.9" r="8.5"/>
<circle class="R" cx="1173.3" cy="52.3" r="8.8"/>
<circle class="R" cx="1178.1" cy="52.2" r="10.9"/>
<circle class="R" cx="1181.1" cy="54.6" r="11.8"/>
<circle class="R" cx="1184.1" cy="53.5" r="9.9"/>
<circle class="R" cx="1190.0" cy="57.3" r="8.6"/>
<circle class="R" cx="1192.8" cy="55.2" r="10.6"/>
<circle class="R" cx="1196.2" cy="57.1" r="7.8"/>
<circle class="R" cx="1201.9" cy="56.0" r="7.4"/>
<circle class="R" cx="1206.9" cy="55.3" r="6.9"/>
<circle class="R" cx="1212.0" cy="52.3" r="10.8"/>
<circle class="R" cx="1215.1" cy="55.4" r="11.3"/>
<circle class="R" cx="1218.2" cy="52.3" r="7.4"/>
<circle class="R" cx="1221.0" cy="54.4" r="10.1"/>
<circle class="R" cx="1224.8" cy="54.1" r="10.9"/>
<circle class="R" cx="1228.1" cy="54.8" r="8.1"/>
<circle class="R" cx="1232.1" cy="56.2" r="10.7"/>
<circle class="R" cx="1235.2" cy="54.8" r="7.6"/>
<circle class="R" cx="1238.0" cy="54.8" r="9.1"/>
<circle class="R" cx="1242.2" cy="57.8" r="11.9"/>
<circle class="R" cx="1246.9" cy="56.4" r="7.4"/>
<circle class="R" cx="1253.2" cy="53.7" r="7.9"/>
<circle class="R" cx="1257.7" cy="55.5" r="9.1"/>
<circle class="R" cx="1260.9" cy="52.4" r="6.5"/>
<circle class="R" cx="1266.7" cy="56.9" r="6.3"/>
<circle class="R" cx="1270.8" cy="56.7" r="8.1"/>
<circle class="R" cx="1275.3" cy="56.3" r="7.5"/>
<circle class="R" cx="1278.7" cy="56.7" r="10.7"/>
<circle class="R" cx="1283.4" cy="57.0" r="9.0"/>
<circle class="B" cx="1008.1" cy="52.6" r="6.7"/>
<circle class="B" cx="1023.1" cy="56.9" r="7.8"/>
<circle class="B" cx="1033.7" cy="55.3" r="4.3"/>
<circle class="B" cx="1053.2" cy="54.7" r="6.7"/>
<circle class="B" cx="1067.2" cy="55.8" r="7.7"/>
<circle class="B" cx="1079.4" cy="53.4" r="7.4"/>
<circle class="B" cx="1092.3" cy="52.8" r="4.5"/>
<circle class="B" cx="1108.4" cy="52.3" r="6.9"/>
<circle class="B" cx="1124.4" cy="54.2" r="5.0"/>
<circle class="B" cx="1136.1" cy="53.3" r="5.7"/>
<circle class="B" cx="1152.3" cy="53.8" r="6.0"/>
<circle class="B" cx="1165.3" cy="54.7" r="5.4"/>
<circle class="B" cx="1175.5" cy="56.0" r="7.4"/>
<circle class="B" cx="1191.9" cy="52.5" r="4.1"/>
<circle class="B" cx="1214.1" cy="56.0" r="6.7"/>
<circle class="B" cx="1226.3" cy="53.9" r="4.6"/>
<circle class="B" cx="1246.5" cy="54.2" r="7.9"/>
<circle class="B" cx="1262.5" cy="54.1" r="5.1"/>
<circle class="B" cx="1281.9" cy="55.1" r="7.2"/>
<polyline class="av" points="184.0,56.5 213.6,56.5 217.3,58.3 234.0,59.4 263.6,59.4 269.1,57.9 289.4,58.3 293.1,59.4 307.9,58.7 344.9,57.6 363.4,58.3 400.0,57.6 424.0,58.3 455.5,56.5 510.9,55.7 514.6,57.0 566.4,56.5 640.0,56.5 695.5,56.3 880.0,55.7 907.7,57.0 912.4,58.9 922.5,59.4 935.5,57.6 957.7,57.9 961.4,59.8 968.8,58.3 990.9,57.6 998.3,58.9 1011.3,59.4 1016.8,62.0 1027.9,63.1 1050.1,63.1 1063.1,62.6 1068.6,60.2 1076.0,59.4 1083.4,60.2 1092.6,60.7 1120.0,59.8 1141.2,57.9 1161.6,57.0 1187.4,57.6 1205.9,58.3 1215.2,59.4 1242.9,58.3 1261.4,58.3 1279.9,58.9"/>
</g>
<rect x="163.2" y="52.0" width="1123.7" height="353.1" fill="none" stroke="#464646" stroke-width="2.3"/>
<line x1="154.2" y1="405.1" x2="163.2" y2="405.1" stroke="#464646" stroke-width="1.9"/>
<text x="68.6" y="418.9" font-size="37" textLength="75" lengthAdjust="spacingAndGlyphs">0.00</text>
<line x1="154.2" y1="316.8" x2="163.2" y2="316.8" stroke="#464646" stroke-width="1.9"/>
<text x="68.6" y="330.6" font-size="37" textLength="75" lengthAdjust="spacingAndGlyphs">0.25</text>
<line x1="154.2" y1="228.6" x2="163.2" y2="228.6" stroke="#464646" stroke-width="1.9"/>
<text x="68.6" y="242.4" font-size="37" textLength="75" lengthAdjust="spacingAndGlyphs">0.50</text>
<line x1="154.2" y1="140.3" x2="163.2" y2="140.3" stroke="#464646" stroke-width="1.9"/>
<text x="68.6" y="154.1" font-size="37" textLength="75" lengthAdjust="spacingAndGlyphs">0.75</text>
<line x1="154.2" y1="52.0" x2="163.2" y2="52.0" stroke="#464646" stroke-width="1.9"/>
<text x="68.6" y="65.8" font-size="37" textLength="75" lengthAdjust="spacingAndGlyphs">1.00</text>
<path d="M163.04 405.1v5.2M166.70 405.1v5.2M170.36 405.1v5.2M174.02 405.1v5.2M177.68 405.1v5.2M181.34 405.1v5.2M185.00 405.1v5.2M188.67 405.1v5.2M192.33 405.1v5.2M195.99 405.1v5.2M199.65 405.1v5.2M203.31 405.1v5.2M206.97 405.1v5.2M210.63 405.1v5.2M214.29 405.1v5.2M217.95 405.1v5.2M221.61 405.1v5.2M225.28 405.1v5.2M228.94 405.1v5.2M232.60 405.1v5.2M236.26 405.1v5.2M239.92 405.1v5.2M243.58 405.1v5.2M247.24 405.1v5.2M250.90 405.1v5.2M254.56 405.1v5.2M258.23 405.1v5.2M261.89 405.1v5.2M265.55 405.1v5.2M269.21 405.1v5.2M272.87 405.1v5.2M276.53 405.1v5.2M280.19 405.1v5.2M283.85 405.1v5.2M287.51 405.1v5.2M291.17 405.1v5.2M294.83 405.1v5.2M298.50 405.1v5.2M302.16 405.1v5.2M305.82 405.1v5.2M309.48 405.1v5.2M313.14 405.1v5.2M316.80 405.1v5.2M320.46 405.1v5.2M324.12 405.1v5.2M327.78 405.1v5.2M331.44 405.1v5.2M335.11 405.1v5.2M338.77 405.1v5.2M342.43 405.1v5.2M346.09 405.1v5.2M349.75 405.1v5.2M353.41 405.1v5.2M357.07 405.1v5.2M360.73 405.1v5.2M364.39 405.1v5.2M368.05 405.1v5.2M371.72 405.1v5.2M375.38 405.1v5.2M379.04 405.1v5.2M382.70 405.1v5.2M386.36 405.1v5.2M390.02 405.1v5.2M393.68 405.1v5.2M397.34 405.1v5.2M401.00 405.1v5.2M404.66 405.1v5.2M408.33 405.1v5.2M411.99 405.1v5.2M415.65 405.1v5.2M419.31 405.1v5.2M422.97 405.1v5.2M426.63 405.1v5.2M430.29 405.1v5.2M433.95 405.1v5.2M437.61 405.1v5.2M441.27 405.1v5.2M444.94 405.1v5.2M448.60 405.1v5.2M452.26 405.1v5.2M455.92 405.1v5.2M459.58 405.1v5.2M463.24 405.1v5.2M466.90 405.1v5.2M470.56 405.1v5.2M474.22 405.1v5.2M477.88 405.1v5.2M481.55 405.1v5.2M485.21 405.1v5.2M488.87 405.1v5.2M492.53 405.1v5.2M496.19 405.1v5.2M499.85 405.1v5.2M503.51 405.1v5.2M507.17 405.1v5.2M510.83 405.1v5.2M514.50 405.1v5.2M518.16 405.1v5.2M521.82 405.1v5.2M525.48 405.1v5.2M529.14 405.1v5.2M532.80 405.1v5.2M536.46 405.1v5.2M540.12 405.1v5.2M543.78 405.1v5.2M547.44 405.1v5.2M551.11 405.1v5.2M554.77 405.1v5.2M558.43 405.1v5.2M562.09 405.1v5.2M565.75 405.1v5.2M569.41 405.1v5.2M573.07 405.1v5.2M576.73 405.1v5.2M580.39 405.1v5.2M584.05 405.1v5.2M587.71 405.1v5.2M591.38 405.1v5.2M595.04 405.1v5.2M598.70 405.1v5.2M602.36 405.1v5.2M606.02 405.1v5.2M609.68 405.1v5.2M613.34 405.1v5.2M617.00 405.1v5.2M620.66 405.1v5.2M624.33 405.1v5.2M627.99 405.1v5.2M631.65 405.1v5.2M635.31 405.1v5.2M638.97 405.1v5.2M642.63 405.1v5.2M646.29 405.1v5.2M649.95 405.1v5.2M653.61 405.1v5.2M657.27 405.1v5.2M660.93 405.1v5.2M664.60 405.1v5.2M668.26 405.1v5.2M671.92 405.1v5.2M675.58 405.1v5.2M679.24 405.1v5.2M682.90 405.1v5.2M686.56 405.1v5.2M690.22 405.1v5.2M693.88 405.1v5.2M697.55 405.1v5.2M701.21 405.1v5.2M704.87 405.1v5.2M708.53 405.1v5.2M712.19 405.1v5.2M715.85 405.1v5.2M719.51 405.1v5.2M723.17 405.1v5.2M726.83 405.1v5.2M730.49 405.1v5.2M734.15 405.1v5.2M737.82 405.1v5.2M741.48 405.1v5.2M745.14 405.1v5.2M748.80 405.1v5.2M752.46 405.1v5.2M756.12 405.1v5.2M759.78 405.1v5.2M763.44 405.1v5.2M767.10 405.1v5.2M770.77 405.1v5.2M774.43 405.1v5.2M778.09 405.1v5.2M781.75 405.1v5.2M785.41 405.1v5.2M789.07 405.1v5.2M792.73 405.1v5.2M796.39 405.1v5.2M800.05 405.1v5.2M803.71 405.1v5.2M807.38 405.1v5.2M811.04 405.1v5.2M814.70 405.1v5.2M818.36 405.1v5.2M822.02 405.1v5.2M825.68 405.1v5.2M829.34 405.1v5.2M833.00 405.1v5.2M836.66 405.1v5.2M840.32 405.1v5.2M843.98 405.1v5.2M847.65 405.1v5.2M851.31 405.1v5.2M854.97 405.1v5.2M858.63 405.1v5.2M862.29 405.1v5.2M865.95 405.1v5.2M869.61 405.1v5.2M873.27 405.1v5.2M876.93 405.1v5.2M880.60 405.1v5.2M884.26 405.1v5.2M887.92 405.1v5.2M891.58 405.1v5.2M895.24 405.1v5.2M898.90 405.1v5.2M902.56 405.1v5.2M906.22 405.1v5.2M909.88 405.1v5.2M913.54 405.1v5.2M917.20 405.1v5.2M920.87 405.1v5.2M924.53 405.1v5.2M928.19 405.1v5.2M931.85 405.1v5.2M935.51 405.1v5.2M939.17 405.1v5.2M942.83 405.1v5.2M946.49 405.1v5.2M950.15 405.1v5.2M953.82 405.1v5.2M957.48 405.1v5.2M961.14 405.1v5.2M964.80 405.1v5.2M968.46 405.1v5.2M972.12 405.1v5.2M975.78 405.1v5.2M979.44 405.1v5.2M983.10 405.1v5.2M986.76 405.1v5.2M990.42 405.1v5.2M994.09 405.1v5.2M997.75 405.1v5.2M1001.41 405.1v5.2M1005.07 405.1v5.2M1008.73 405.1v5.2M1012.39 405.1v5.2M1016.05 405.1v5.2M1019.71 405.1v5.2M1023.37 405.1v5.2M1027.04 405.1v5.2M1030.70 405.1v5.2M1034.36 405.1v5.2M1038.02 405.1v5.2M1041.68 405.1v5.2M1045.34 405.1v5.2M1049.00 405.1v5.2M1052.66 405.1v5.2M1056.32 405.1v5.2M1059.98 405.1v5.2M1063.64 405.1v5.2M1067.31 405.1v5.2M1070.97 405.1v5.2M1074.63 405.1v5.2M1078.29 405.1v5.2M1081.95 405.1v5.2M1085.61 405.1v5.2M1089.27 405.1v5.2M1092.93 405.1v5.2M1096.59 405.1v5.2M1100.26 405.1v5.2M1103.92 405.1v5.2M1107.58 405.1v5.2M1111.24 405.1v5.2M1114.90 405.1v5.2M1118.56 405.1v5.2M1122.22 405.1v5.2M1125.88 405.1v5.2M1129.54 405.1v5.2M1133.20 405.1v5.2M1136.87 405.1v5.2M1140.53 405.1v5.2M1144.19 405.1v5.2M1147.85 405.1v5.2M1151.51 405.1v5.2M1155.17 405.1v5.2M1158.83 405.1v5.2M1162.49 405.1v5.2M1166.15 405.1v5.2M1169.81 405.1v5.2M1173.47 405.1v5.2M1177.14 405.1v5.2M1180.80 405.1v5.2M1184.46 405.1v5.2M1188.12 405.1v5.2M1191.78 405.1v5.2M1195.44 405.1v5.2M1199.10 405.1v5.2M1202.76 405.1v5.2M1206.42 405.1v5.2M1210.09 405.1v5.2M1213.75 405.1v5.2M1217.41 405.1v5.2M1221.07 405.1v5.2M1224.73 405.1v5.2M1228.39 405.1v5.2M1232.05 405.1v5.2M1235.71 405.1v5.2M1239.37 405.1v5.2M1243.03 405.1v5.2M1246.70 405.1v5.2M1250.36 405.1v5.2M1254.02 405.1v5.2M1257.68 405.1v5.2M1261.34 405.1v5.2M1265.00 405.1v5.2M1268.66 405.1v5.2M1272.32 405.1v5.2M1275.98 405.1v5.2M1279.64 405.1v5.2M1283.31 405.1v5.2M1286.97 405.1v5.2" stroke="#464646" stroke-width="1.3" fill="none"/>
<path d="M166.70 405.1v9.4M276.53 405.1v9.4M390.02 405.1v9.4M499.85 405.1v9.4M613.34 405.1v9.4M726.83 405.1v9.4M836.66 405.1v9.4M950.15 405.1v9.4M1059.98 405.1v9.4M1173.47 405.1v9.4M1286.97 405.1v9.4" stroke="#464646" stroke-width="1.9" fill="none"/>
<text x="645.5" y="37.5" font-size="37" textLength="160.4" lengthAdjust="spacingAndGlyphs">C28311T</text>
<g clip-path="url(#c1)">
<circle class="y" cx="545.8" cy="768.6" r="6.2"/>
<circle class="y" cx="626.7" cy="700.5" r="6.5"/>
<circle class="y" cx="613.0" cy="627.5" r="8.1"/>
<circle class="y" cx="803.1" cy="637.4" r="7.0"/>
<circle class="y" cx="902.6" cy="607.5" r="6.5"/>
<circle class="y" cx="860.0" cy="645.5" r="8.2"/>
<circle class="y" cx="735.3" cy="580.8" r="8.0"/>
<circle class="y" cx="987.9" cy="709.5" r="9.2"/>
<circle class="y" cx="1083.5" cy="727.0" r="9.0"/>
<circle class="y" cx="1066.7" cy="775.1" r="9.6"/>
<circle class="y" cx="1264.0" cy="784.1" r="8.4"/>
<circle class="y" cx="1128.9" cy="804.2" r="7.7"/>
<circle class="y" cx="189.1" cy="842.6" r="3.9"/>
<circle class="y" cx="305.8" cy="833.3" r="7.1"/>
<circle class="y" cx="331.5" cy="841.5" r="3.9"/>
<circle class="y s" cx="356.9" cy="823.1" r="2.3"/>
<circle class="y" cx="433.9" cy="766.4" r="5.0"/>
<circle class="y" cx="417.8" cy="787.6" r="4.7"/>
<circle class="y" cx="414.5" cy="799.4" r="6.5"/>
<circle class="y" cx="412.4" cy="812.4" r="6.9"/>
<circle class="y" cx="416.7" cy="832.9" r="7.5"/>
<circle class="y" cx="572.7" cy="496.5" r="8.6"/>
<circle class="y" cx="717.2" cy="497.5" r="3.9"/>
<circle class="y" cx="716.1" cy="511.6" r="10.8"/>
<circle class="y" cx="690.2" cy="530.3" r="6.0"/>
<circle class="y" cx="638.9" cy="542.2" r="9.7"/>
<circle class="y" cx="715.7" cy="589.2" r="4.7"/>
<circle class="y" cx="661.1" cy="603.2" r="8.2"/>
<circle class="y" cx="587.3" cy="614.7" r="8.0"/>
<circle class="y" cx="608.2" cy="628.1" r="12.5"/>
<circle class="y" cx="511.2" cy="645.3" r="8.6"/>
<circle class="y" cx="554.8" cy="639.5" r="8.2"/>
<circle class="y" cx="713.9" cy="619.4" r="6.5"/>
<circle class="y" cx="663.3" cy="647.5" r="7.5"/>
<circle class="y" cx="550.0" cy="660.4" r="5.4"/>
<circle class="y" cx="510.1" cy="683.4" r="9.7"/>
<circle class="y" cx="485.3" cy="704.1" r="4.7"/>
<circle class="y" cx="537.1" cy="678.6" r="9.7"/>
<circle class="y" cx="534.9" cy="693.7" r="8.6"/>
<circle class="y" cx="484.2" cy="717.5" r="7.5"/>
<circle class="y" cx="485.3" cy="728.2" r="5.4"/>
<circle class="y" cx="664.8" cy="714.2" r="15.5"/>
<circle class="y" cx="616.9" cy="741.2" r="5.4"/>
<circle class="y s" cx="690.2" cy="723.9" r="2.1"/>
<circle class="y s" cx="716.1" cy="752.0" r="3.4"/>
<circle class="y s" cx="690.2" cy="761.0" r="2.1"/>
<circle class="y" cx="718.3" cy="777.9" r="3.9"/>
<circle class="y" cx="588.8" cy="773.5" r="7.5"/>
<circle class="y" cx="598.5" cy="787.6" r="7.5"/>
<circle class="y" cx="459.4" cy="744.4" r="4.7"/>
<circle class="y" cx="541.4" cy="756.3" r="8.6"/>
<circle class="y" cx="459.4" cy="764.9" r="9.7"/>
<circle class="y" cx="459.4" cy="808.1" r="4.3"/>
<circle class="y" cx="519.8" cy="799.4" r="7.5"/>
<circle class="y" cx="514.4" cy="814.5" r="14.0"/>
<circle class="y" cx="565.8" cy="810.2" r="11.2"/>
<circle class="y" cx="624.4" cy="802.7" r="4.7"/>
<circle class="y" cx="621.2" cy="823.1" r="7.5"/>
<circle class="y" cx="619.0" cy="827.5" r="7.5"/>
<circle class="y" cx="739.4" cy="501.9" r="8.2"/>
<circle class="y" cx="723.2" cy="509.4" r="10.8"/>
<circle class="y" cx="792.7" cy="540.0" r="3.5"/>
<circle class="y" cx="792.7" cy="546.5" r="2.8"/>
<circle class="y s" cx="818.1" cy="497.5" r="2.5"/>
<circle class="y" cx="825.7" cy="511.6" r="8.2"/>
<circle class="y" cx="922.8" cy="498.6" r="4.3"/>
<circle class="y" cx="998.3" cy="500.8" r="6.5"/>
<circle class="y" cx="957.3" cy="520.2" r="9.1"/>
<circle class="y" cx="922.8" cy="547.2" r="6.5"/>
<circle class="y" cx="898.6" cy="548.9" r="6.9"/>
<circle class="y" cx="825.7" cy="561.2" r="6.0"/>
<circle class="y" cx="792.7" cy="561.2" r="6.9"/>
<circle class="y" cx="774.6" cy="568.7" r="9.7"/>
<circle class="y" cx="774.6" cy="575.2" r="9.7"/>
<circle class="y" cx="752.4" cy="566.6" r="6.5"/>
<circle class="y" cx="919.5" cy="576.3" r="5.4"/>
<circle class="y" cx="928.2" cy="600.0" r="8.2"/>
<circle class="y" cx="946.5" cy="617.3" r="5.4"/>
<circle class="y" cx="975.6" cy="628.1" r="8.6"/>
<circle class="y" cx="741.6" cy="620.5" r="6.5"/>
<circle class="y" cx="827.9" cy="638.8" r="7.5"/>
<circle class="y" cx="869.5" cy="632.4" r="8.6"/>
<circle class="y" cx="888.2" cy="645.3" r="8.6"/>
<circle class="y" cx="767.0" cy="651.8" r="5.4"/>
<circle class="y" cx="993.9" cy="660.4" r="9.7"/>
<circle class="y" cx="978.8" cy="630.2" r="7.5"/>
<circle class="y" cx="767.0" cy="683.4" r="6.0"/>
<circle class="y" cx="818.1" cy="680.1" r="4.7"/>
<circle class="y" cx="844.0" cy="673.2" r="4.3"/>
<circle class="y" cx="792.7" cy="711.0" r="7.5"/>
<circle class="y" cx="767.5" cy="723.9" r="4.3"/>
<circle class="y" cx="825.7" cy="739.0" r="11.2"/>
<circle class="y" cx="770.7" cy="750.2" r="6.9"/>
<circle class="y" cx="767.0" cy="759.5" r="5.6"/>
<circle class="y" cx="796.1" cy="769.2" r="3.0"/>
<circle class="y" cx="752.4" cy="795.1" r="6.5"/>
<circle class="y" cx="832.8" cy="830.3" r="6.0"/>
<circle class="y" cx="928.2" cy="743.3" r="5.2"/>
<circle class="y" cx="935.7" cy="749.8" r="6.9"/>
<circle class="y" cx="931.8" cy="773.5" r="8.2"/>
<circle class="y" cx="968.1" cy="730.4" r="10.8"/>
<circle class="y" cx="975.6" cy="702.4" r="9.7"/>
<circle class="y" cx="997.2" cy="689.4" r="6.5"/>
<circle class="y" cx="971.9" cy="797.3" r="7.5"/>
<circle class="y" cx="971.9" cy="805.9" r="8.6"/>
<circle class="y" cx="1007.8" cy="502.3" r="11.6"/>
<circle class="y s" cx="1103.4" cy="512.8" r="2.4"/>
<circle class="y" cx="1059.9" cy="620.3" r="8.0"/>
<circle class="y" cx="1000.0" cy="629.6" r="4.5"/>
<circle class="y" cx="1007.8" cy="663.1" r="10.1"/>
<circle class="y" cx="1002.2" cy="674.5" r="8.9"/>
<circle class="y" cx="1076.0" cy="701.3" r="10.1"/>
<circle class="y" cx="1100.1" cy="718.0" r="7.1"/>
<circle class="y" cx="1121.8" cy="703.5" r="10.1"/>
<circle class="y" cx="1213.6" cy="742.2" r="11.6"/>
<circle class="y" cx="1049.2" cy="741.5" r="6.3"/>
<circle class="y" cx="1084.9" cy="752.7" r="10.1"/>
<circle class="y" cx="1098.3" cy="750.4" r="8.9"/>
<circle class="y" cx="1127.3" cy="756.0" r="12.3"/>
<circle class="y" cx="1111.7" cy="775.0" r="8.9"/>
<circle class="y" cx="1189.9" cy="786.2" r="6.7"/>
<circle class="y" cx="1198.8" cy="795.1" r="6.7"/>
<circle class="y" cx="1256.9" cy="792.9" r="2.7"/>
<circle class="y" cx="1232.4" cy="808.5" r="7.8"/>
<circle class="y" cx="1273.7" cy="818.6" r="6.7"/>
<circle class="y" cx="1060.3" cy="824.2" r="8.9"/>
<circle class="y" cx="1049.2" cy="795.6" r="3.8"/>
<circle class="y" cx="1022.3" cy="804.0" r="6.7"/>
<circle class="y" cx="1022.3" cy="815.2" r="4.5"/>
<circle class="y" cx="1038.0" cy="839.8" r="6.7"/>
<circle class="y" cx="1192.1" cy="804.0" r="6.7"/>
<circle class="p" cx="534.9" cy="814.6" r="6.5"/>
<circle class="p" cx="544.5" cy="764.8" r="8.2"/>
<circle class="p" cx="538.6" cy="825.5" r="9.1"/>
<circle class="p" cx="527.4" cy="801.3" r="9.5"/>
<circle class="p" cx="518.0" cy="841.1" r="7.9"/>
<circle class="p" cx="553.7" cy="722.3" r="7.9"/>
<circle class="p" cx="538.9" cy="729.7" r="6.9"/>
<circle class="p" cx="552.7" cy="776.0" r="6.9"/>
<circle class="p" cx="497.0" cy="757.7" r="5.6"/>
<circle class="p" cx="554.4" cy="813.5" r="6.2"/>
<circle class="p" cx="528.7" cy="730.5" r="7.5"/>
<circle class="p" cx="548.6" cy="797.6" r="7.1"/>
<circle class="p" cx="470.7" cy="789.1" r="8.0"/>
<circle class="p" cx="531.9" cy="655.4" r="8.9"/>
<circle class="p" cx="679.6" cy="672.1" r="5.6"/>
<circle class="p" cx="570.8" cy="609.2" r="9.7"/>
<circle class="p" cx="642.2" cy="655.5" r="7.5"/>
<circle class="p" cx="708.7" cy="658.3" r="8.9"/>
<circle class="p" cx="540.2" cy="683.6" r="7.6"/>
<circle class="p" cx="574.2" cy="643.9" r="8.8"/>
<circle class="p" cx="706.8" cy="713.6" r="9.7"/>
<circle class="p" cx="668.1" cy="619.9" r="8.9"/>
<circle class="p" cx="540.0" cy="610.6" r="9.8"/>
<circle class="p" cx="535.1" cy="706.7" r="8.9"/>
<circle class="p" cx="621.1" cy="605.8" r="9.9"/>
<circle class="p" cx="537.0" cy="656.9" r="7.3"/>
<circle class="p" cx="546.1" cy="622.2" r="7.0"/>
<circle class="p" cx="580.7" cy="666.4" r="6.1"/>
<circle class="p" cx="710.9" cy="660.9" r="6.0"/>
<circle class="p" cx="576.1" cy="637.1" r="6.5"/>
<circle class="p" cx="565.5" cy="701.5" r="6.0"/>
<circle class="p" cx="714.3" cy="655.5" r="9.4"/>
<circle class="p" cx="803.9" cy="673.3" r="8.9"/>
<circle class="p" cx="836.7" cy="660.7" r="9.6"/>
<circle class="p" cx="891.9" cy="631.2" r="9.9"/>
<circle class="p" cx="761.5" cy="605.5" r="6.1"/>
<circle class="p" cx="998.5" cy="612.7" r="9.9"/>
<circle class="p" cx="704.9" cy="599.2" r="6.7"/>
<circle class="p" cx="971.1" cy="643.6" r="9.6"/>
<circle class="p" cx="788.8" cy="658.9" r="9.2"/>
<circle class="p" cx="814.0" cy="644.7" r="6.1"/>
<circle class="p" cx="900.4" cy="614.6" r="7.6"/>
<circle class="p" cx="767.6" cy="667.2" r="6.8"/>
<circle class="p" cx="951.9" cy="660.3" r="7.6"/>
<circle class="p" cx="734.9" cy="666.0" r="6.7"/>
<circle class="p" cx="709.6" cy="618.3" r="6.3"/>
<circle class="p" cx="929.6" cy="637.9" r="6.0"/>
<circle class="p" cx="949.5" cy="663.1" r="7.2"/>
<circle class="p" cx="697.6" cy="640.5" r="7.3"/>
<circle class="p" cx="894.3" cy="646.2" r="8.4"/>
<circle class="p" cx="733.3" cy="634.7" r="9.1"/>
<circle class="p" cx="984.9" cy="667.7" r="8.9"/>
<circle class="p" cx="944.6" cy="605.1" r="8.8"/>
<circle class="p" cx="820.4" cy="621.6" r="7.1"/>
<circle class="p" cx="884.8" cy="625.7" r="6.0"/>
<circle class="p" cx="923.2" cy="668.8" r="9.5"/>
<circle class="p" cx="858.1" cy="666.6" r="6.3"/>
<circle class="p" cx="829.0" cy="602.2" r="9.0"/>
<circle class="p" cx="721.7" cy="625.8" r="8.6"/>
<circle class="p" cx="853.3" cy="675.4" r="7.5"/>
<circle class="p" cx="928.3" cy="605.1" r="8.1"/>
<circle class="p" cx="867.2" cy="648.0" r="6.6"/>
<circle class="p" cx="719.7" cy="614.5" r="7.2"/>
<circle class="p" cx="829.2" cy="649.4" r="9.3"/>
<circle class="p" cx="901.8" cy="673.1" r="9.9"/>
<circle class="p" cx="926.9" cy="631.0" r="6.1"/>
<circle class="p" cx="832.6" cy="596.3" r="8.4"/>
<circle class="p" cx="898.9" cy="653.6" r="9.4"/>
<circle class="p" cx="963.6" cy="662.8" r="9.8"/>
<circle class="p" cx="818.1" cy="589.0" r="5.7"/>
<circle class="p" cx="807.1" cy="551.2" r="5.9"/>
<circle class="p" cx="779.8" cy="580.4" r="8.7"/>
<circle class="p" cx="733.4" cy="572.3" r="5.9"/>
<circle class="p" cx="742.5" cy="619.6" r="8.3"/>
<circle class="p" cx="786.7" cy="563.6" r="6.0"/>
<circle class="p" cx="756.5" cy="587.8" r="8.7"/>
<circle class="p" cx="763.4" cy="599.0" r="8.9"/>
<circle class="p" cx="816.9" cy="615.0" r="5.5"/>
<circle class="p" cx="835.5" cy="563.5" r="6.3"/>
<circle class="p" cx="735.7" cy="579.8" r="8.8"/>
<circle class="p" cx="786.1" cy="573.5" r="7.1"/>
<circle class="p" cx="939.0" cy="655.1" r="7.4"/>
<circle class="p" cx="944.0" cy="660.1" r="7.1"/>
<circle class="p" cx="978.9" cy="689.3" r="9.7"/>
<circle class="p" cx="872.1" cy="703.6" r="8.7"/>
<circle class="p" cx="941.4" cy="701.4" r="7.0"/>
<circle class="p" cx="905.1" cy="656.6" r="8.4"/>
<circle class="p" cx="873.0" cy="658.7" r="7.7"/>
<circle class="p" cx="972.9" cy="720.0" r="8.8"/>
<circle class="p" cx="891.0" cy="678.2" r="8.8"/>
<circle class="p" cx="960.2" cy="685.5" r="8.0"/>
<circle class="p" cx="914.0" cy="679.1" r="5.6"/>
<circle class="p" cx="1105.1" cy="697.9" r="7.0"/>
<circle class="p" cx="1104.1" cy="820.0" r="7.5"/>
<circle class="p" cx="1100.9" cy="765.4" r="6.1"/>
<circle class="p" cx="1071.0" cy="816.7" r="6.5"/>
<circle class="p" cx="1060.1" cy="771.4" r="6.9"/>
<circle class="p" cx="1000.1" cy="746.8" r="7.9"/>
<circle class="p" cx="1008.9" cy="674.6" r="8.7"/>
<circle class="p" cx="1065.7" cy="828.2" r="5.8"/>
<circle class="p" cx="1040.3" cy="717.2" r="7.9"/>
<circle class="p" cx="1041.1" cy="829.4" r="6.7"/>
<circle class="p" cx="1009.1" cy="832.8" r="5.9"/>
<circle class="p" cx="1043.5" cy="755.3" r="7.0"/>
<circle class="p" cx="1104.1" cy="709.9" r="6.9"/>
<circle class="p" cx="1059.2" cy="824.3" r="8.2"/>
<circle class="p" cx="1094.6" cy="677.2" r="8.0"/>
<circle class="p" cx="1024.0" cy="838.8" r="5.6"/>
<circle class="p" cx="1057.3" cy="827.4" r="6.1"/>
<circle class="p" cx="1061.5" cy="749.9" r="7.3"/>
<circle class="p" cx="1028.1" cy="799.2" r="9.4"/>
<circle class="p" cx="1075.5" cy="703.9" r="7.2"/>
<circle class="p" cx="1079.6" cy="786.2" r="6.6"/>
<circle class="p" cx="1105.4" cy="688.1" r="6.9"/>
<circle class="p" cx="1167.6" cy="804.0" r="7.5"/>
<circle class="p" cx="1271.6" cy="811.3" r="9.2"/>
<circle class="p" cx="1274.1" cy="844.3" r="9.2"/>
<circle class="p" cx="1161.4" cy="825.0" r="7.0"/>
<circle class="p" cx="1127.8" cy="820.1" r="8.0"/>
<circle class="p" cx="1221.1" cy="783.4" r="9.9"/>
<circle class="p" cx="1159.8" cy="808.4" r="8.9"/>
<circle class="p" cx="1181.7" cy="827.4" r="6.2"/>
<circle class="p" cx="1274.4" cy="837.1" r="7.1"/>
<circle class="p s" cx="327.8" cy="818.4" r="2.5"/>
<circle class="p" cx="356.3" cy="837.2" r="10.1"/>
<circle class="p" cx="382.6" cy="782.2" r="8.6"/>
<circle class="p" cx="382.6" cy="807.6" r="3.9"/>
<circle class="p s" cx="378.9" cy="817.1" r="2.1"/>
<circle class="p s" cx="380.0" cy="836.1" r="2.5"/>
<circle class="p" cx="395.1" cy="832.9" r="9.7"/>
<circle class="p s" cx="433.9" cy="742.3" r="3.0"/>
<circle class="p" cx="433.9" cy="775.7" r="3.9"/>
<circle class="p" cx="418.8" cy="793.0" r="6.5"/>
<circle class="p" cx="425.3" cy="799.4" r="8.6"/>
<circle class="p" cx="433.9" cy="799.4" r="3.2"/>
<circle class="p" cx="427.5" cy="808.1" r="7.5"/>
<circle class="p" cx="418.8" cy="825.3" r="6.5"/>
<circle class="p" cx="410.2" cy="833.9" r="6.5"/>
<circle class="p" cx="668.2" cy="513.3" r="10.8"/>
<circle class="p" cx="712.2" cy="518.0" r="4.3"/>
<circle class="p" cx="565.8" cy="530.3" r="7.5"/>
<circle class="p" cx="565.8" cy="539.2" r="8.6"/>
<circle class="p" cx="641.7" cy="541.8" r="6.5"/>
<circle class="p s" cx="686.3" cy="551.7" r="2.3"/>
<circle class="p" cx="711.8" cy="550.4" r="6.5"/>
<circle class="p" cx="536.4" cy="560.1" r="7.5"/>
<circle class="p" cx="558.0" cy="564.0" r="5.8"/>
<circle class="p" cx="651.4" cy="587.1" r="12.9"/>
<circle class="p" cx="664.3" cy="587.1" r="8.6"/>
<circle class="p" cx="693.5" cy="589.2" r="14.0"/>
<circle class="p" cx="565.8" cy="595.7" r="8.6"/>
<circle class="p" cx="595.3" cy="595.0" r="9.1"/>
<circle class="p" cx="485.1" cy="602.2" r="3.5"/>
<circle class="p" cx="540.3" cy="607.6" r="6.9"/>
<circle class="p" cx="586.7" cy="617.3" r="5.4"/>
<circle class="p" cx="638.4" cy="606.5" r="8.6"/>
<circle class="p" cx="668.6" cy="617.3" r="11.9"/>
<circle class="p" cx="522.0" cy="638.8" r="8.6"/>
<circle class="p" cx="569.4" cy="629.8" r="8.6"/>
<circle class="p" cx="583.4" cy="638.8" r="8.6"/>
<circle class="p" cx="691.3" cy="632.4" r="11.9"/>
<circle class="p" cx="715.7" cy="637.3" r="3.9"/>
<circle class="p" cx="640.6" cy="630.2" r="8.6"/>
<circle class="p" cx="653.5" cy="645.3" r="10.8"/>
<circle class="p" cx="503.6" cy="657.2" r="9.7"/>
<circle class="p" cx="537.1" cy="660.4" r="8.6"/>
<circle class="p" cx="557.6" cy="660.4" r="10.8"/>
<circle class="p" cx="591.0" cy="649.6" r="10.8"/>
<circle class="p" cx="681.6" cy="660.4" r="12.9"/>
<circle class="p" cx="468.0" cy="686.2" r="4.7"/>
<circle class="p" cx="496.1" cy="675.4" r="6.5"/>
<circle class="p" cx="498.2" cy="685.1" r="10.8"/>
<circle class="p" cx="539.2" cy="676.5" r="6.5"/>
<circle class="p" cx="504.7" cy="698.0" r="8.6"/>
<circle class="p" cx="459.4" cy="725.0" r="8.6"/>
<circle class="p" cx="470.2" cy="734.1" r="6.9"/>
<circle class="p" cx="547.9" cy="719.6" r="8.6"/>
<circle class="p" cx="634.1" cy="672.2" r="8.6"/>
<circle class="p" cx="647.1" cy="702.4" r="12.9"/>
<circle class="p" cx="653.5" cy="693.7" r="10.8"/>
<circle class="p" cx="664.3" cy="723.9" r="6.5"/>
<circle class="p" cx="720.0" cy="695.9" r="6.5"/>
<circle class="p" cx="704.7" cy="714.9" r="8.0"/>
<circle class="p" cx="711.8" cy="744.4" r="6.0"/>
<circle class="p" cx="697.8" cy="773.5" r="9.7"/>
<circle class="p" cx="679.0" cy="783.9" r="9.3"/>
<circle class="p" cx="642.8" cy="786.5" r="7.5"/>
<circle class="p" cx="623.3" cy="762.8" r="8.6"/>
<circle class="p" cx="534.9" cy="745.5" r="15.1"/>
<circle class="p" cx="556.5" cy="745.5" r="8.6"/>
<circle class="p" cx="463.7" cy="756.3" r="8.6"/>
<circle class="p" cx="474.5" cy="756.3" r="6.5"/>
<circle class="p" cx="515.5" cy="771.4" r="8.6"/>
<circle class="p" cx="499.7" cy="788.2" r="8.2"/>
<circle class="p" cx="474.5" cy="786.5" r="7.5"/>
<circle class="p" cx="448.6" cy="803.7" r="7.5"/>
<circle class="p" cx="481.0" cy="799.4" r="5.4"/>
<circle class="p" cx="530.6" cy="801.6" r="8.6"/>
<circle class="p" cx="483.1" cy="818.8" r="7.5"/>
<circle class="p" cx="459.4" cy="821.0" r="10.8"/>
<circle class="p" cx="616.9" cy="807.0" r="8.6"/>
<circle class="p" cx="661.1" cy="816.0" r="5.8"/>
<circle class="p" cx="635.2" cy="825.3" r="9.7"/>
<circle class="p" cx="693.5" cy="831.8" r="11.9"/>
<circle class="p" cx="720.0" cy="818.8" r="5.4"/>
<circle class="p" cx="463.7" cy="829.6" r="8.6"/>
<circle class="p" cx="515.5" cy="838.2" r="7.5"/>
<circle class="p" cx="540.3" cy="835.0" r="8.2"/>
<circle class="p" cx="763.1" cy="527.7" r="7.5"/>
<circle class="p" cx="792.7" cy="500.4" r="4.3"/>
<circle class="p" cx="817.1" cy="510.5" r="9.1"/>
<circle class="p" cx="869.5" cy="529.3" r="8.2"/>
<circle class="p" cx="874.2" cy="498.6" r="3.2"/>
<circle class="p" cx="995.0" cy="500.8" r="3.2"/>
<circle class="p" cx="951.9" cy="515.9" r="7.5"/>
<circle class="p" cx="942.2" cy="549.3" r="6.5"/>
<circle class="p" cx="869.5" cy="562.9" r="8.6"/>
<circle class="p" cx="840.8" cy="569.8" r="8.6"/>
<circle class="p" cx="814.9" cy="572.0" r="8.6"/>
<circle class="p" cx="739.4" cy="554.7" r="9.7"/>
<circle class="p" cx="741.6" cy="563.3" r="10.8"/>
<circle class="p" cx="928.2" cy="569.8" r="6.5"/>
<circle class="p" cx="975.6" cy="576.3" r="8.6"/>
<circle class="p" cx="974.5" cy="559.0" r="7.5"/>
<circle class="p s" cx="998.3" cy="570.2" r="3.4"/>
<circle class="p" cx="946.5" cy="582.1" r="3.2"/>
<circle class="p" cx="743.7" cy="584.9" r="5.4"/>
<circle class="p" cx="784.7" cy="619.4" r="9.7"/>
<circle class="p" cx="837.6" cy="591.4" r="8.6"/>
<circle class="p" cx="844.0" cy="602.2" r="10.8"/>
<circle class="p" cx="847.3" cy="613.0" r="9.7"/>
<circle class="p" cx="836.5" cy="610.8" r="8.6"/>
<circle class="p" cx="883.9" cy="595.7" r="7.5"/>
<circle class="p" cx="894.7" cy="586.0" r="5.4"/>
<circle class="p" cx="902.3" cy="591.4" r="8.6"/>
<circle class="p" cx="946.5" cy="597.2" r="9.7"/>
<circle class="p s" cx="946.5" cy="593.5" r="3.0"/>
<circle class="p" cx="993.9" cy="606.5" r="7.5"/>
<circle class="p" cx="732.9" cy="613.0" r="11.9"/>
<circle class="p" cx="724.3" cy="619.4" r="10.8"/>
<circle class="p" cx="754.5" cy="641.0" r="8.6"/>
<circle class="p" cx="773.9" cy="638.8" r="8.6"/>
<circle class="p" cx="806.3" cy="641.0" r="8.6"/>
<circle class="p" cx="793.3" cy="630.2" r="8.6"/>
<circle class="p" cx="883.9" cy="634.5" r="10.8"/>
<circle class="p" cx="899.0" cy="641.0" r="9.7"/>
<circle class="p" cx="853.7" cy="658.2" r="8.6"/>
<circle class="p" cx="806.3" cy="660.4" r="8.6"/>
<circle class="p" cx="741.6" cy="662.6" r="8.6"/>
<circle class="p" cx="935.7" cy="628.1" r="10.8"/>
<circle class="p" cx="953.0" cy="632.4" r="9.7"/>
<circle class="p" cx="914.1" cy="651.8" r="9.7"/>
<circle class="p" cx="927.1" cy="662.6" r="8.6"/>
<circle class="p" cx="892.6" cy="660.4" r="7.5"/>
<circle class="p" cx="961.6" cy="641.0" r="8.6"/>
<circle class="p" cx="991.8" cy="641.0" r="6.5"/>
<circle class="p" cx="741.6" cy="676.5" r="11.9"/>
<circle class="p" cx="738.3" cy="684.0" r="6.5"/>
<circle class="p" cx="795.5" cy="672.2" r="4.3"/>
<circle class="p" cx="849.4" cy="676.5" r="6.5"/>
<circle class="p" cx="892.6" cy="685.1" r="19.4"/>
<circle class="p" cx="894.7" cy="700.2" r="15.1"/>
<circle class="p" cx="722.2" cy="695.9" r="6.5"/>
<circle class="p" cx="756.0" cy="698.5" r="9.7"/>
<circle class="p" cx="748.7" cy="708.8" r="9.7"/>
<circle class="p" cx="803.7" cy="701.3" r="8.2"/>
<circle class="p" cx="799.8" cy="713.1" r="6.5"/>
<circle class="p" cx="844.0" cy="698.5" r="4.3"/>
<circle class="p" cx="825.7" cy="715.7" r="9.7"/>
<circle class="p" cx="821.8" cy="723.9" r="7.5"/>
<circle class="p" cx="774.4" cy="734.7" r="9.7"/>
<circle class="p" cx="792.7" cy="739.0" r="6.9"/>
<circle class="p" cx="844.0" cy="736.4" r="8.2"/>
<circle class="p" cx="813.4" cy="749.4" r="3.5"/>
<circle class="p" cx="844.0" cy="778.9" r="5.2"/>
<circle class="p" cx="730.8" cy="782.8" r="9.1"/>
<circle class="p" cx="752.4" cy="789.7" r="10.8"/>
<circle class="p" cx="807.4" cy="800.5" r="7.5"/>
<circle class="p" cx="727.5" cy="815.6" r="9.1"/>
<circle class="p s" cx="752.4" cy="843.6" r="3.4"/>
<circle class="p" cx="894.7" cy="735.8" r="10.4"/>
<circle class="p" cx="928.2" cy="723.9" r="11.2"/>
<circle class="p" cx="935.7" cy="732.6" r="8.6"/>
<circle class="p" cx="930.3" cy="758.4" r="11.9"/>
<circle class="p" cx="971.9" cy="749.8" r="11.9"/>
<circle class="p" cx="983.2" cy="726.1" r="12.9"/>
<circle class="p" cx="948.6" cy="713.1" r="7.5"/>
<circle class="p" cx="998.3" cy="708.8" r="8.6"/>
<circle class="p" cx="996.1" cy="734.7" r="6.5"/>
<circle class="p" cx="998.3" cy="754.1" r="3.2"/>
<circle class="p" cx="975.6" cy="781.5" r="3.9"/>
<circle class="p" cx="971.9" cy="795.1" r="8.6"/>
<circle class="p" cx="986.6" cy="806.3" r="3.9"/>
<circle class="p" cx="957.3" cy="800.5" r="7.1"/>
<circle class="p" cx="960.9" cy="812.4" r="10.8"/>
<circle class="p s" cx="946.5" cy="800.9" r="2.1"/>
<circle class="p s" cx="998.3" cy="836.1" r="2.5"/>
<circle class="p" cx="935.7" cy="682.9" r="15.1"/>
<circle class="p" cx="957.3" cy="676.5" r="12.9"/>
<circle class="p" cx="989.6" cy="695.9" r="10.8"/>
<circle class="p" cx="1052.5" cy="503.4" r="4.5"/>
<circle class="p" cx="1033.5" cy="552.6" r="10.1"/>
<circle class="p" cx="1064.1" cy="550.3" r="11.2"/>
<circle class="p" cx="1048.7" cy="570.4" r="9.4"/>
<circle class="p" cx="1151.3" cy="592.1" r="2.9"/>
<circle class="p" cx="1121.8" cy="600.6" r="4.9"/>
<circle class="p" cx="1044.7" cy="618.5" r="6.3"/>
<circle class="p" cx="1078.2" cy="620.3" r="6.3"/>
<circle class="p" cx="1191.5" cy="624.0" r="9.8"/>
<circle class="p" cx="1071.0" cy="634.8" r="8.0"/>
<circle class="p" cx="1078.2" cy="671.0" r="7.8"/>
<circle class="p" cx="1049.2" cy="680.1" r="8.9"/>
<circle class="p" cx="1202.6" cy="690.8" r="3.4"/>
<circle class="p" cx="1008.9" cy="714.7" r="15.6"/>
<circle class="p" cx="1004.5" cy="730.3" r="13.4"/>
<circle class="p" cx="1055.9" cy="703.5" r="8.9"/>
<circle class="p" cx="1082.7" cy="705.7" r="8.9"/>
<circle class="p" cx="1125.1" cy="706.9" r="12.3"/>
<circle class="p" cx="1155.0" cy="701.9" r="10.7"/>
<circle class="p" cx="1129.6" cy="732.6" r="11.2"/>
<circle class="p" cx="1278.2" cy="732.6" r="7.1"/>
<circle class="p" cx="1176.9" cy="734.8" r="5.4"/>
<circle class="p s" cx="1184.1" cy="740.4" r="3.0"/>
<circle class="p" cx="1227.9" cy="753.8" r="9.4"/>
<circle class="p" cx="1239.1" cy="765.0" r="5.8"/>
<circle class="p" cx="1253.6" cy="767.2" r="7.1"/>
<circle class="p" cx="1224.5" cy="765.0" r="4.5"/>
<circle class="p" cx="1201.1" cy="759.4" r="6.7"/>
<circle class="p" cx="1185.4" cy="750.4" r="5.6"/>
<circle class="p" cx="1008.9" cy="741.5" r="7.8"/>
<circle class="p" cx="1055.9" cy="746.0" r="2.7"/>
<circle class="p" cx="1010.1" cy="763.8" r="7.8"/>
<circle class="p" cx="1013.4" cy="786.2" r="10.1"/>
<circle class="p" cx="1038.0" cy="781.7" r="11.2"/>
<circle class="p" cx="1055.9" cy="777.2" r="8.9"/>
<circle class="p" cx="1105.0" cy="746.0" r="6.7"/>
<circle class="p" cx="1111.7" cy="763.8" r="8.9"/>
<circle class="p" cx="1147.5" cy="768.3" r="6.7"/>
<circle class="p" cx="1107.2" cy="813.0" r="8.9"/>
<circle class="p s" cx="1136.7" cy="792.4" r="3.0"/>
<circle class="p" cx="1165.3" cy="788.4" r="8.9"/>
<circle class="p" cx="1151.9" cy="781.7" r="8.9"/>
<circle class="p" cx="1194.4" cy="763.8" r="6.7"/>
<circle class="p" cx="1183.2" cy="795.1" r="11.2"/>
<circle class="p" cx="1245.8" cy="777.2" r="8.9"/>
<circle class="p" cx="1232.4" cy="804.0" r="6.7"/>
<circle class="p" cx="1239.1" cy="815.2" r="10.1"/>
<circle class="p" cx="1268.1" cy="826.4" r="8.9"/>
<circle class="p" cx="1256.9" cy="830.9" r="10.1"/>
<circle class="p" cx="1149.7" cy="817.5" r="6.7"/>
<circle class="p" cx="1145.2" cy="830.9" r="8.9"/>
<circle class="p" cx="1093.8" cy="826.4" r="8.9"/>
<circle class="p" cx="1076.0" cy="824.2" r="8.9"/>
<circle class="p" cx="1029.0" cy="795.1" r="7.8"/>
<circle class="p" cx="1016.8" cy="788.4" r="7.8"/>
<circle class="p" cx="1008.9" cy="833.1" r="10.1"/>
<circle class="p" cx="1160.9" cy="835.3" r="8.9"/>
<circle class="p" cx="1194.4" cy="824.2" r="6.7"/>
<circle class="p" cx="1214.5" cy="775.0" r="7.8"/>
<circle class="p" cx="1172.0" cy="781.7" r="8.9"/>
<circle class="p" cx="1169.8" cy="799.6" r="8.9"/>
<circle class="p" cx="1067.0" cy="725.9" r="6.7"/>
<circle class="p" cx="1035.7" cy="732.6" r="8.9"/>
<circle class="p" cx="1051.4" cy="761.6" r="6.7"/>
<circle class="p" cx="1008.9" cy="808.5" r="8.9"/>
<circle class="p" cx="1122.9" cy="786.2" r="8.9"/>
<circle class="p" cx="1147.5" cy="804.0" r="7.8"/>
<circle class="p" cx="1248.0" cy="808.5" r="8.9"/>
<circle class="p" cx="1277.0" cy="835.3" r="8.9"/>
<circle class="g" cx="232.3" cy="842.6" r="8.2"/>
<circle class="g" cx="239.8" cy="843.6" r="3.9"/>
<circle class="g" cx="253.8" cy="843.6" r="4.3"/>
<circle class="g" cx="287.3" cy="842.6" r="11.9"/>
<circle class="g" cx="274.3" cy="843.6" r="4.7"/>
<circle class="g" cx="363.8" cy="842.6" r="10.8"/>
<circle class="g s" cx="382.6" cy="836.5" r="3.0"/>
<circle class="g s" cx="415.6" cy="831.3" r="3.4"/>
<circle class="g" cx="642.8" cy="500.1" r="3.0"/>
<circle class="g" cx="646.0" cy="526.7" r="3.0"/>
<circle class="g" cx="704.7" cy="532.5" r="5.2"/>
<circle class="g" cx="569.4" cy="561.2" r="3.7"/>
<circle class="g" cx="569.4" cy="611.9" r="7.8"/>
<circle class="g" cx="616.9" cy="624.8" r="16.2"/>
<circle class="g" cx="492.4" cy="628.5" r="7.3"/>
<circle class="g" cx="507.1" cy="641.0" r="8.2"/>
<circle class="g s" cx="720.0" cy="628.1" r="3.4"/>
<circle class="g" cx="639.5" cy="650.7" r="11.9"/>
<circle class="g" cx="620.8" cy="649.6" r="6.5"/>
<circle class="g s" cx="620.8" cy="648.5" r="3.4"/>
<circle class="g" cx="623.3" cy="656.1" r="10.8"/>
<circle class="g" cx="646.0" cy="659.3" r="4.3"/>
<circle class="g" cx="591.0" cy="660.4" r="9.1"/>
<circle class="g" cx="595.3" cy="691.6" r="39.9"/>
<circle class="g" cx="518.1" cy="695.5" r="9.9"/>
<circle class="g" cx="569.4" cy="678.6" r="9.7"/>
<circle class="g" cx="616.9" cy="685.1" r="8.2"/>
<circle class="g" cx="620.8" cy="745.5" r="8.2"/>
<circle class="g" cx="675.5" cy="682.9" r="3.5"/>
<circle class="g" cx="701.0" cy="691.1" r="9.7"/>
<circle class="g" cx="686.5" cy="711.6" r="3.7"/>
<circle class="g s" cx="686.5" cy="714.2" r="2.5"/>
<circle class="g" cx="649.9" cy="761.0" r="10.8"/>
<circle class="g" cx="693.9" cy="786.5" r="5.2"/>
<circle class="g" cx="620.8" cy="783.9" r="13.6"/>
<circle class="g" cx="591.6" cy="764.3" r="19.8"/>
<circle class="g" cx="448.6" cy="744.0" r="6.0"/>
<circle class="g" cx="485.3" cy="762.8" r="5.4"/>
<circle class="g" cx="569.4" cy="766.0" r="5.8"/>
<circle class="g" cx="536.4" cy="788.6" r="12.5"/>
<circle class="g" cx="485.3" cy="790.8" r="5.4"/>
<circle class="g" cx="569.4" cy="790.8" r="6.0"/>
<circle class="g" cx="569.4" cy="794.0" r="4.3"/>
<circle class="g" cx="492.4" cy="805.9" r="5.8"/>
<circle class="g s" cx="514.4" cy="824.9" r="2.1"/>
<circle class="g" cx="470.6" cy="814.5" r="7.8"/>
<circle class="g" cx="489.2" cy="842.6" r="6.9"/>
<circle class="g" cx="510.8" cy="841.9" r="3.0"/>
<circle class="g" cx="540.3" cy="836.5" r="4.3"/>
<circle class="g" cx="603.9" cy="841.5" r="25.5"/>
<circle class="g" cx="620.8" cy="840.4" r="21.6"/>
<circle class="g s" cx="759.9" cy="494.7" r="2.3"/>
<circle class="g" cx="770.7" cy="546.5" r="4.7"/>
<circle class="g" cx="778.2" cy="517.6" r="2.8"/>
<circle class="g" cx="825.7" cy="510.5" r="3.7"/>
<circle class="g" cx="825.7" cy="529.3" r="6.5"/>
<circle class="g" cx="902.3" cy="502.9" r="4.7"/>
<circle class="g" cx="979.3" cy="495.4" r="3.2"/>
<circle class="g" cx="902.3" cy="521.3" r="6.5"/>
<circle class="g" cx="942.8" cy="526.2" r="5.2"/>
<circle class="g" cx="844.0" cy="570.2" r="5.8"/>
<circle class="g s" cx="832.8" cy="573.5" r="3.2"/>
<circle class="g" cx="928.2" cy="562.7" r="6.5"/>
<circle class="g" cx="979.3" cy="570.9" r="9.9"/>
<circle class="g" cx="876.8" cy="579.1" r="7.3"/>
<circle class="g" cx="847.7" cy="582.3" r="5.8"/>
<circle class="g" cx="825.7" cy="583.2" r="3.7"/>
<circle class="g" cx="825.7" cy="592.5" r="4.7"/>
<circle class="g s" cx="723.2" cy="605.0" r="3.4"/>
<circle class="g s" cx="752.4" cy="603.9" r="3.2"/>
<circle class="g" cx="840.1" cy="618.3" r="8.2"/>
<circle class="g" cx="916.7" cy="607.6" r="9.7"/>
<circle class="g" cx="923.8" cy="617.3" r="10.8"/>
<circle class="g" cx="979.3" cy="609.7" r="4.7"/>
<circle class="g" cx="998.3" cy="590.3" r="11.9"/>
<circle class="g" cx="993.9" cy="632.4" r="8.6"/>
<circle class="g" cx="876.8" cy="615.1" r="4.3"/>
<circle class="g" cx="814.5" cy="628.1" r="7.5"/>
<circle class="g" cx="825.7" cy="637.8" r="9.1"/>
<circle class="g" cx="752.4" cy="665.8" r="5.4"/>
<circle class="g" cx="942.8" cy="644.2" r="8.2"/>
<circle class="g" cx="946.5" cy="638.8" r="5.4"/>
<circle class="g" cx="975.6" cy="643.1" r="12.5"/>
<circle class="g s" cx="723.2" cy="671.7" r="3.4"/>
<circle class="g" cx="755.6" cy="671.1" r="4.7"/>
<circle class="g" cx="865.8" cy="686.6" r="4.3"/>
<circle class="g" cx="876.8" cy="687.3" r="4.3"/>
<circle class="g" cx="909.8" cy="674.3" r="4.7"/>
<circle class="g" cx="876.8" cy="717.9" r="8.2"/>
<circle class="g" cx="752.4" cy="733.0" r="9.5"/>
<circle class="g s" cx="752.4" cy="727.2" r="3.4"/>
<circle class="g s" cx="723.2" cy="743.8" r="3.4"/>
<circle class="g" cx="752.4" cy="765.6" r="5.4"/>
<circle class="g" cx="778.2" cy="813.4" r="6.0"/>
<circle class="g" cx="825.7" cy="831.8" r="7.1"/>
<circle class="g" cx="876.8" cy="843.6" r="4.7"/>
<circle class="g s" cx="723.2" cy="843.6" r="3.0"/>
<circle class="g" cx="876.8" cy="750.2" r="6.0"/>
<circle class="g" cx="928.2" cy="702.4" r="7.5"/>
<circle class="g" cx="928.2" cy="699.1" r="4.7"/>
<circle class="g" cx="979.3" cy="708.8" r="5.6"/>
<circle class="g" cx="979.3" cy="797.7" r="5.2"/>
<circle class="g" cx="924.5" cy="807.0" r="6.0"/>
<circle class="g s" cx="928.2" cy="818.8" r="2.5"/>
<circle class="g" cx="924.5" cy="842.6" r="6.5"/>
<circle class="g s" cx="998.3" cy="842.6" r="2.5"/>
<circle class="g" cx="1007.8" cy="500.7" r="3.1"/>
<circle class="g s" cx="1103.4" cy="506.3" r="3.3"/>
<circle class="g" cx="1133.2" cy="500.7" r="2.9"/>
<circle class="g s" cx="1133.2" cy="509.7" r="3.3"/>
<circle class="g" cx="1155.0" cy="523.1" r="4.0"/>
<circle class="g" cx="1081.5" cy="576.0" r="8.5"/>
<circle class="g" cx="1081.5" cy="573.8" r="6.3"/>
<circle class="g" cx="1103.9" cy="576.0" r="13.4"/>
<circle class="g" cx="1129.6" cy="568.6" r="8.5"/>
<circle class="g" cx="1000.0" cy="589.4" r="9.4"/>
<circle class="g" cx="1125.8" cy="603.5" r="6.3"/>
<circle class="g s" cx="1206.0" cy="646.4" r="2.8"/>
<circle class="g s" cx="1206.0" cy="650.2" r="3.0"/>
<circle class="g" cx="1000.0" cy="633.0" r="3.4"/>
<circle class="g" cx="1044.7" cy="639.2" r="9.4"/>
<circle class="g" cx="1086.0" cy="692.3" r="7.1"/>
<circle class="g" cx="1030.6" cy="702.4" r="17.0"/>
<circle class="g" cx="1063.0" cy="722.5" r="5.8"/>
<circle class="g" cx="1210.0" cy="719.2" r="7.6"/>
<circle class="g" cx="1031.3" cy="748.2" r="6.7"/>
<circle class="g" cx="1030.6" cy="771.7" r="8.0"/>
<circle class="g" cx="1092.7" cy="754.5" r="4.5"/>
<circle class="g s" cx="1103.9" cy="767.2" r="2.8"/>
<circle class="g s" cx="1133.2" cy="773.9" r="2.6"/>
<circle class="g" cx="1084.9" cy="773.9" r="8.5"/>
<circle class="g" cx="1069.3" cy="779.5" r="6.3"/>
<circle class="g" cx="1092.7" cy="783.9" r="4.5"/>
<circle class="g" cx="1092.7" cy="801.8" r="8.5"/>
<circle class="g" cx="1115.1" cy="798.5" r="8.0"/>
<circle class="g" cx="1115.1" cy="809.6" r="6.7"/>
<circle class="g" cx="1133.2" cy="804.0" r="9.8"/>
<circle class="g" cx="1151.3" cy="791.8" r="4.0"/>
<circle class="g" cx="1210.0" cy="811.9" r="19.0"/>
<circle class="g" cx="1217.8" cy="787.3" r="7.1"/>
<circle class="g" cx="1260.9" cy="785.5" r="3.8"/>
<circle class="g" cx="1223.4" cy="836.4" r="6.7"/>
<circle class="g" cx="1180.5" cy="813.0" r="4.5"/>
<circle class="g" cx="1158.6" cy="816.3" r="5.4"/>
<circle class="g" cx="1081.5" cy="842.0" r="8.5"/>
<circle class="g" cx="1055.9" cy="808.1" r="6.7"/>
<circle class="g" cx="1071.0" cy="807.4" r="6.7"/>
<circle class="g" cx="1055.9" cy="843.1" r="4.5"/>
<circle class="g s" cx="1019.4" cy="844.3" r="3.0"/>
<circle class="g s" cx="1001.1" cy="843.1" r="3.0"/>
<circle class="g" cx="1136.3" cy="842.0" r="6.7"/>
<circle class="v" cx="181.6" cy="842.6" r="5.4"/>
<circle class="v s" cx="287.3" cy="842.1" r="3.0"/>
<circle class="v s" cx="342.3" cy="828.5" r="2.7"/>
<circle class="v s" cx="360.6" cy="831.3" r="2.7"/>
<circle class="v" cx="440.0" cy="753.7" r="5.4"/>
<circle class="v" cx="415.6" cy="806.3" r="4.3"/>
<circle class="v s" cx="437.2" cy="842.6" r="3.0"/>
<circle class="v" cx="620.8" cy="500.8" r="11.9"/>
<circle class="v" cx="697.1" cy="500.1" r="5.8"/>
<circle class="v s" cx="694.1" cy="500.1" r="3.4"/>
<circle class="v" cx="646.0" cy="516.3" r="9.1"/>
<circle class="v" cx="646.0" cy="516.3" r="4.7"/>
<circle class="v" cx="718.3" cy="528.8" r="6.5"/>
<circle class="v" cx="720.0" cy="541.8" r="9.7"/>
<circle class="v" cx="668.2" cy="541.8" r="3.5"/>
<circle class="v" cx="492.4" cy="564.0" r="4.3"/>
<circle class="v" cx="594.9" cy="576.3" r="6.9"/>
<circle class="v" cx="693.9" cy="584.9" r="8.0"/>
<circle class="v" cx="679.0" cy="603.9" r="4.3"/>
<circle class="v" cx="697.8" cy="608.6" r="6.9"/>
<circle class="v" cx="701.4" cy="614.7" r="4.7"/>
<circle class="v" cx="642.8" cy="610.8" r="9.1"/>
<circle class="v" cx="642.8" cy="608.6" r="3.9"/>
<circle class="v s" cx="675.5" cy="625.9" r="3.0"/>
<circle class="v" cx="543.8" cy="628.5" r="5.8"/>
<circle class="v s" cx="646.4" cy="636.7" r="3.0"/>
<circle class="v" cx="675.5" cy="644.2" r="4.7"/>
<circle class="v" cx="647.1" cy="644.2" r="5.4"/>
<circle class="v" cx="671.9" cy="662.6" r="4.7"/>
<circle class="v" cx="544.0" cy="704.5" r="3.9"/>
<circle class="v" cx="573.3" cy="686.8" r="9.7"/>
<circle class="v" cx="620.8" cy="708.8" r="15.1"/>
<circle class="v" cx="595.3" cy="704.5" r="12.9"/>
<circle class="v" cx="594.9" cy="718.5" r="7.5"/>
<circle class="v" cx="620.3" cy="764.3" r="4.7"/>
<circle class="v" cx="440.0" cy="753.0" r="6.9"/>
<circle class="v" cx="536.4" cy="742.9" r="6.9"/>
<circle class="v" cx="487.9" cy="762.8" r="10.8"/>
<circle class="v" cx="540.3" cy="785.4" r="9.7"/>
<circle class="v" cx="561.9" cy="786.5" r="6.5"/>
<circle class="v" cx="569.4" cy="840.4" r="11.9"/>
<circle class="v" cx="591.0" cy="841.5" r="5.4"/>
<circle class="v" cx="728.6" cy="499.1" r="6.5"/>
<circle class="v" cx="748.7" cy="499.7" r="6.0"/>
<circle class="v" cx="722.2" cy="533.1" r="9.7"/>
<circle class="v" cx="726.5" cy="541.8" r="9.7"/>
<circle class="v" cx="821.8" cy="502.5" r="3.0"/>
<circle class="v" cx="851.1" cy="499.1" r="5.2"/>
<circle class="v" cx="876.8" cy="499.7" r="3.9"/>
<circle class="v s" cx="894.7" cy="496.9" r="3.0"/>
<circle class="v" cx="930.3" cy="498.6" r="3.2"/>
<circle class="v" cx="913.1" cy="532.1" r="3.0"/>
<circle class="v" cx="936.8" cy="541.8" r="6.5"/>
<circle class="v" cx="851.1" cy="557.9" r="5.4"/>
<circle class="v s" cx="861.9" cy="563.3" r="1.9"/>
<circle class="v" cx="752.4" cy="571.5" r="3.0"/>
<circle class="v" cx="752.4" cy="576.3" r="4.7"/>
<circle class="v" cx="796.6" cy="574.6" r="6.0"/>
<circle class="v s" cx="946.5" cy="564.4" r="2.1"/>
<circle class="v" cx="928.2" cy="584.3" r="7.1"/>
<circle class="v" cx="774.6" cy="619.0" r="4.3"/>
<circle class="v" cx="851.1" cy="616.8" r="3.9"/>
<circle class="v" cx="880.3" cy="603.2" r="6.5"/>
<circle class="v" cx="905.9" cy="609.3" r="5.4"/>
<circle class="v" cx="909.8" cy="617.3" r="6.5"/>
<circle class="v" cx="960.9" cy="620.5" r="8.2"/>
<circle class="v" cx="851.1" cy="634.1" r="4.3"/>
<circle class="v" cx="851.1" cy="642.1" r="3.2"/>
<circle class="v" cx="883.9" cy="645.3" r="6.9"/>
<circle class="v" cx="770.7" cy="660.4" r="4.3"/>
<circle class="v" cx="723.2" cy="662.6" r="5.8"/>
<circle class="v" cx="923.8" cy="641.0" r="7.5"/>
<circle class="v" cx="905.9" cy="662.6" r="6.0"/>
<circle class="v" cx="1000.0" cy="664.7" r="4.3"/>
<circle class="v" cx="880.3" cy="688.3" r="10.4"/>
<circle class="v" cx="923.8" cy="674.3" r="9.7"/>
<circle class="v" cx="770.7" cy="730.4" r="4.3"/>
<circle class="v s" cx="796.1" cy="774.0" r="2.1"/>
<circle class="v" cx="825.7" cy="772.0" r="3.9"/>
<circle class="v" cx="818.1" cy="783.9" r="4.7"/>
<circle class="v" cx="902.3" cy="782.2" r="3.0"/>
<circle class="v" cx="745.2" cy="803.3" r="4.3"/>
<circle class="v" cx="821.8" cy="810.2" r="4.1"/>
<circle class="v" cx="909.8" cy="741.6" r="7.1"/>
<circle class="v" cx="931.4" cy="695.9" r="3.5"/>
<circle class="v s" cx="960.9" cy="767.1" r="2.1"/>
<circle class="v s" cx="960.9" cy="775.3" r="1.9"/>
<circle class="v" cx="957.3" cy="716.4" r="10.4"/>
<circle class="v" cx="946.5" cy="692.6" r="8.6"/>
<circle class="v" cx="954.0" cy="684.0" r="10.4"/>
<circle class="v s" cx="1000.0" cy="753.0" r="2.5"/>
<circle class="v" cx="928.2" cy="832.2" r="12.5"/>
<circle class="v s" cx="913.1" cy="843.6" r="3.0"/>
<circle class="v s" cx="1000.0" cy="824.2" r="3.4"/>
<circle class="v" cx="1034.2" cy="502.3" r="7.6"/>
<circle class="v" cx="1077.5" cy="500.1" r="4.9"/>
<circle class="v" cx="1081.5" cy="503.4" r="4.0"/>
<circle class="v s" cx="1239.1" cy="510.1" r="3.0"/>
<circle class="v" cx="1158.6" cy="569.3" r="3.8"/>
<circle class="v" cx="1279.3" cy="571.5" r="13.4"/>
<circle class="v" cx="1030.6" cy="593.9" r="5.4"/>
<circle class="v" cx="1023.0" cy="603.9" r="6.3"/>
<circle class="v" cx="1136.7" cy="598.8" r="2.7"/>
<circle class="v" cx="1034.2" cy="650.9" r="4.9"/>
<circle class="v" cx="1089.4" cy="650.9" r="4.9"/>
<circle class="v" cx="1111.0" cy="663.1" r="6.7"/>
<circle class="v" cx="1133.2" cy="670.1" r="6.3"/>
<circle class="v" cx="1084.9" cy="668.7" r="3.6"/>
<circle class="v" cx="1210.0" cy="670.1" r="2.7"/>
<circle class="v" cx="1008.9" cy="687.9" r="7.1"/>
<circle class="v" cx="1086.0" cy="671.1" r="4.5"/>
<circle class="v" cx="1133.2" cy="674.5" r="7.8"/>
<circle class="v" cx="1210.0" cy="672.7" r="3.8"/>
<circle class="v" cx="1107.2" cy="715.4" r="6.7"/>
<circle class="v" cx="1133.2" cy="714.7" r="8.9"/>
<circle class="v" cx="1140.8" cy="716.5" r="6.3"/>
<circle class="v" cx="1162.4" cy="699.0" r="3.6"/>
<circle class="v" cx="1129.6" cy="740.4" r="4.9"/>
<circle class="v" cx="1191.0" cy="754.9" r="7.8"/>
<circle class="v" cx="1206.0" cy="754.9" r="5.8"/>
<circle class="v" cx="1012.3" cy="739.3" r="5.8"/>
<circle class="v s" cx="1002.2" cy="753.1" r="3.0"/>
<circle class="v" cx="1025.7" cy="757.6" r="6.7"/>
<circle class="v" cx="1023.0" cy="778.4" r="4.0"/>
<circle class="v" cx="1100.1" cy="775.0" r="6.3"/>
<circle class="v" cx="1107.2" cy="781.0" r="8.0"/>
<circle class="v" cx="1103.9" cy="800.3" r="7.1"/>
<circle class="v" cx="1187.7" cy="767.2" r="5.8"/>
<circle class="v" cx="1180.5" cy="779.5" r="3.6"/>
<circle class="v" cx="1214.5" cy="813.0" r="11.2"/>
<circle class="v" cx="1005.6" cy="824.2" r="5.8"/>
<circle class="n" cx="397.3" cy="818.4" r="3.9"/>
<circle class="n" cx="433.9" cy="825.3" r="5.4"/>
<circle class="n" cx="671.9" cy="617.9" r="5.8"/>
<circle class="n" cx="514.4" cy="717.5" r="9.7"/>
<circle class="n" cx="594.9" cy="686.2" r="6.9"/>
<circle class="n" cx="569.4" cy="722.8" r="6.9"/>
<circle class="n" cx="532.8" cy="760.6" r="4.3"/>
<circle class="n" cx="946.1" cy="545.0" r="3.0"/>
<circle class="n" cx="844.0" cy="552.6" r="3.2"/>
<circle class="n s" cx="869.5" cy="576.7" r="2.5"/>
<circle class="n" cx="997.2" cy="591.4" r="3.9"/>
<circle class="n" cx="964.6" cy="705.6" r="5.4"/>
<circle class="n s" cx="1000.0" cy="591.7" r="2.6"/>
<circle class="n" cx="1048.7" cy="668.7" r="5.6"/>
<circle class="n" cx="1023.0" cy="667.6" r="5.6"/>
<circle class="n" cx="1048.7" cy="671.1" r="4.9"/>
<circle class="n" cx="1071.0" cy="748.2" r="3.4"/>
<circle class="n" cx="1115.1" cy="811.9" r="2.7"/>
<circle class="n" cx="1202.2" cy="794.0" r="8.9"/>
<circle class="n s" cx="1227.9" cy="780.6" r="2.6"/>
<circle class="n" cx="1253.6" cy="839.3" r="2.7"/>
<circle class="n s" cx="1158.6" cy="825.7" r="3.0"/>
<circle class="n" cx="1136.7" cy="827.5" r="4.5"/>
<circle class="r" cx="649.8" cy="705.0" r="3.6"/>
<circle class="r" cx="569.6" cy="678.1" r="4.9"/>
<circle class="r" cx="754.0" cy="590.4" r="4.5"/>
<circle class="r" cx="884.1" cy="672.6" r="4.4"/>
<circle class="r" cx="760.4" cy="590.3" r="4.7"/>
<circle class="r" cx="807.9" cy="604.1" r="5.3"/>
<circle class="r" cx="791.1" cy="560.5" r="5.3"/>
<circle class="r" cx="862.4" cy="640.4" r="4.7"/>
<circle class="r" cx="863.5" cy="646.5" r="3.7"/>
<circle class="r" cx="1001.0" cy="790.6" r="4.3"/>
<circle class="r" cx="1094.6" cy="801.8" r="3.9"/>
<circle class="r" cx="1009.0" cy="696.5" r="5.7"/>
<circle class="r" cx="1119.3" cy="789.1" r="3.8"/>
<circle class="r" cx="1251.1" cy="808.0" r="4.4"/>
<circle class="r" cx="203.1" cy="841.5" r="2.8"/>
<circle class="r" cx="261.4" cy="842.1" r="5.2"/>
<circle class="r s" cx="279.7" cy="842.6" r="3.0"/>
<circle class="r s" cx="360.6" cy="843.6" r="3.4"/>
<circle class="r s" cx="386.1" cy="797.7" r="3.0"/>
<circle class="r" cx="437.2" cy="703.0" r="3.0"/>
<circle class="r s" cx="411.7" cy="772.0" r="2.7"/>
<circle class="r" cx="419.5" cy="781.7" r="5.2"/>
<circle class="r s" cx="439.3" cy="802.7" r="3.4"/>
<circle class="r" cx="432.9" cy="831.3" r="6.9"/>
<circle class="r" cx="418.8" cy="840.0" r="3.9"/>
<circle class="r s" cx="422.7" cy="550.8" r="2.3"/>
<circle class="r" cx="518.1" cy="496.0" r="7.5"/>
<circle class="r" cx="575.5" cy="496.0" r="8.2"/>
<circle class="r" cx="612.6" cy="503.4" r="19.8"/>
<circle class="r" cx="616.9" cy="511.1" r="8.2"/>
<circle class="r" cx="638.9" cy="500.1" r="3.5"/>
<circle class="r" cx="718.3" cy="564.4" r="9.1"/>
<circle class="r" cx="562.3" cy="557.3" r="6.9"/>
<circle class="r" cx="562.3" cy="557.3" r="6.5"/>
<circle class="r" cx="463.3" cy="576.7" r="3.2"/>
<circle class="r" cx="675.5" cy="572.6" r="4.7"/>
<circle class="r" cx="573.1" cy="586.2" r="4.5"/>
<circle class="r" cx="649.9" cy="579.3" r="3.7"/>
<circle class="r" cx="720.0" cy="595.7" r="4.3"/>
<circle class="r" cx="591.2" cy="593.8" r="4.3"/>
<circle class="r" cx="664.8" cy="598.5" r="7.8"/>
<circle class="r" cx="521.8" cy="605.6" r="8.2"/>
<circle class="r" cx="635.6" cy="619.0" r="5.0"/>
<circle class="r" cx="599.0" cy="620.5" r="6.5"/>
<circle class="r" cx="624.0" cy="625.5" r="9.1"/>
<circle class="r" cx="716.1" cy="623.7" r="6.5"/>
<circle class="r" cx="638.9" cy="647.0" r="4.7"/>
<circle class="r" cx="704.2" cy="650.7" r="10.8"/>
<circle class="r" cx="701.0" cy="650.7" r="4.3"/>
<circle class="r" cx="718.3" cy="656.1" r="6.5"/>
<circle class="r" cx="689.1" cy="666.9" r="4.3"/>
<circle class="r s" cx="463.3" cy="682.9" r="3.4"/>
<circle class="r s" cx="440.0" cy="703.0" r="2.5"/>
<circle class="r" cx="514.4" cy="711.4" r="6.9"/>
<circle class="r" cx="496.1" cy="723.1" r="7.3"/>
<circle class="r" cx="538.1" cy="708.8" r="9.7"/>
<circle class="r" cx="540.3" cy="705.6" r="4.7"/>
<circle class="r" cx="554.8" cy="692.0" r="9.1"/>
<circle class="r" cx="568.6" cy="711.4" r="8.2"/>
<circle class="r" cx="587.8" cy="727.8" r="9.7"/>
<circle class="r" cx="638.9" cy="727.6" r="6.5"/>
<circle class="r" cx="573.3" cy="737.3" r="7.8"/>
<circle class="r" cx="606.1" cy="737.3" r="7.5"/>
<circle class="r" cx="675.5" cy="690.5" r="4.3"/>
<circle class="r" cx="690.2" cy="671.1" r="4.3"/>
<circle class="r" cx="703.2" cy="671.1" r="8.6"/>
<circle class="r" cx="693.9" cy="702.8" r="2.8"/>
<circle class="r" cx="682.9" cy="758.9" r="5.6"/>
<circle class="r" cx="594.9" cy="760.2" r="7.3"/>
<circle class="r" cx="605.7" cy="754.1" r="4.3"/>
<circle class="r s" cx="489.2" cy="745.9" r="2.5"/>
<circle class="r" cx="554.3" cy="771.4" r="6.5"/>
<circle class="r" cx="565.8" cy="776.8" r="8.2"/>
<circle class="r" cx="521.8" cy="784.3" r="9.7"/>
<circle class="r" cx="576.5" cy="799.4" r="5.0"/>
<circle class="r" cx="441.1" cy="803.1" r="3.9"/>
<circle class="r" cx="470.6" cy="811.3" r="6.5"/>
<circle class="r" cx="496.1" cy="818.8" r="8.2"/>
<circle class="r" cx="587.8" cy="817.3" r="13.4"/>
<circle class="r" cx="569.4" cy="825.3" r="7.8"/>
<circle class="r" cx="690.2" cy="819.5" r="10.8"/>
<circle class="r" cx="720.0" cy="838.2" r="7.5"/>
<circle class="r s" cx="514.4" cy="837.2" r="2.7"/>
<circle class="r" cx="530.6" cy="842.6" r="6.5"/>
<circle class="r" cx="539.2" cy="842.6" r="4.3"/>
<circle class="r" cx="467.0" cy="843.6" r="3.2"/>
<circle class="r s" cx="620.8" cy="843.6" r="1.9"/>
<circle class="r" cx="730.4" cy="513.1" r="4.7"/>
<circle class="r" cx="752.4" cy="520.2" r="5.2"/>
<circle class="r" cx="774.4" cy="536.4" r="8.6"/>
<circle class="r" cx="752.4" cy="542.8" r="4.7"/>
<circle class="r" cx="800.2" cy="496.9" r="4.3"/>
<circle class="r" cx="847.7" cy="509.4" r="3.0"/>
<circle class="r s" cx="851.1" cy="494.7" r="2.5"/>
<circle class="r s" cx="858.5" cy="522.8" r="2.7"/>
<circle class="r" cx="909.8" cy="500.8" r="8.2"/>
<circle class="r" cx="928.2" cy="499.7" r="5.6"/>
<circle class="r" cx="928.2" cy="506.2" r="3.9"/>
<circle class="r" cx="971.9" cy="534.2" r="10.8"/>
<circle class="r" cx="975.6" cy="531.0" r="3.0"/>
<circle class="r s" cx="986.6" cy="532.3" r="3.2"/>
<circle class="r s" cx="946.5" cy="532.3" r="1.9"/>
<circle class="r" cx="928.2" cy="532.1" r="8.6"/>
<circle class="r" cx="928.2" cy="541.8" r="8.2"/>
<circle class="r s" cx="971.9" cy="551.0" r="3.2"/>
<circle class="r s" cx="1000.0" cy="560.8" r="1.9"/>
<circle class="r" cx="851.1" cy="562.7" r="4.7"/>
<circle class="r s" cx="869.5" cy="558.4" r="2.1"/>
<circle class="r" cx="807.4" cy="574.1" r="10.8"/>
<circle class="r" cx="723.2" cy="564.4" r="9.7"/>
<circle class="r s" cx="960.9" cy="578.0" r="2.7"/>
<circle class="r s" cx="821.8" cy="589.2" r="2.1"/>
<circle class="r" cx="752.4" cy="590.3" r="6.0"/>
<circle class="r" cx="726.5" cy="589.7" r="3.2"/>
<circle class="r" cx="723.2" cy="595.7" r="5.4"/>
<circle class="r" cx="767.5" cy="595.7" r="9.1"/>
<circle class="r" cx="770.7" cy="602.2" r="10.8"/>
<circle class="r" cx="767.5" cy="610.8" r="9.7"/>
<circle class="r s" cx="778.2" cy="602.2" r="3.4"/>
<circle class="r" cx="807.4" cy="600.4" r="8.6"/>
<circle class="r" cx="818.1" cy="605.4" r="10.4"/>
<circle class="r" cx="792.7" cy="610.4" r="8.0"/>
<circle class="r" cx="869.5" cy="590.9" r="9.1"/>
<circle class="r" cx="898.6" cy="598.5" r="4.7"/>
<circle class="r" cx="928.2" cy="613.0" r="6.9"/>
<circle class="r" cx="968.1" cy="614.7" r="7.8"/>
<circle class="r" cx="979.3" cy="604.3" r="3.0"/>
<circle class="r" cx="982.7" cy="615.8" r="6.0"/>
<circle class="r" cx="873.1" cy="619.0" r="9.7"/>
<circle class="r" cx="902.3" cy="623.1" r="4.7"/>
<circle class="r" cx="720.0" cy="623.7" r="3.2"/>
<circle class="r" cx="821.8" cy="622.7" r="7.5"/>
<circle class="r" cx="873.1" cy="652.4" r="7.3"/>
<circle class="r" cx="854.8" cy="647.5" r="2.8"/>
<circle class="r" cx="778.2" cy="655.7" r="4.3"/>
<circle class="r" cx="745.2" cy="652.2" r="3.2"/>
<circle class="r" cx="720.0" cy="656.1" r="3.2"/>
<circle class="r s" cx="954.0" cy="643.6" r="1.9"/>
<circle class="r" cx="975.6" cy="645.3" r="11.2"/>
<circle class="r" cx="949.9" cy="661.5" r="5.4"/>
<circle class="r" cx="800.2" cy="679.1" r="5.2"/>
<circle class="r" cx="876.8" cy="675.4" r="3.9"/>
<circle class="r s" cx="905.9" cy="676.5" r="2.1"/>
<circle class="r" cx="920.6" cy="684.5" r="7.8"/>
<circle class="r" cx="869.5" cy="709.3" r="10.8"/>
<circle class="r" cx="880.3" cy="712.1" r="7.8"/>
<circle class="r" cx="774.4" cy="723.5" r="10.8"/>
<circle class="r" cx="825.7" cy="753.7" r="9.1"/>
<circle class="r" cx="725.4" cy="838.2" r="8.2"/>
<circle class="r s" cx="876.8" cy="822.5" r="3.0"/>
<circle class="r s" cx="873.1" cy="741.6" r="2.1"/>
<circle class="r" cx="895.2" cy="736.2" r="5.8"/>
<circle class="r" cx="979.3" cy="732.6" r="9.7"/>
<circle class="r" cx="975.6" cy="736.9" r="3.2"/>
<circle class="r" cx="979.3" cy="680.8" r="8.6"/>
<circle class="r" cx="975.6" cy="674.3" r="7.5"/>
<circle class="r s" cx="997.2" cy="701.3" r="3.0"/>
<circle class="r" cx="997.2" cy="712.1" r="3.9"/>
<circle class="r s" cx="997.2" cy="743.3" r="2.7"/>
<circle class="r s" cx="997.2" cy="778.5" r="3.4"/>
<circle class="r s" cx="931.8" cy="837.8" r="2.5"/>
<circle class="r s" cx="986.6" cy="843.6" r="2.1"/>
<circle class="r" cx="1022.3" cy="497.8" r="10.7"/>
<circle class="r" cx="1015.6" cy="500.1" r="4.5"/>
<circle class="r" cx="1107.2" cy="496.7" r="6.0"/>
<circle class="r s" cx="1125.8" cy="539.2" r="2.8"/>
<circle class="r" cx="1048.7" cy="552.1" r="8.0"/>
<circle class="r" cx="1078.2" cy="559.9" r="2.9"/>
<circle class="r s" cx="1001.1" cy="561.0" r="2.1"/>
<circle class="r" cx="1180.5" cy="587.2" r="12.3"/>
<circle class="r s" cx="1188.1" cy="586.1" r="2.8"/>
<circle class="r s" cx="1004.9" cy="582.7" r="2.1"/>
<circle class="r" cx="1052.5" cy="610.0" r="3.4"/>
<circle class="r s" cx="1099.9" cy="616.9" r="2.8"/>
<circle class="r" cx="1122.0" cy="622.3" r="7.6"/>
<circle class="r" cx="1184.1" cy="631.4" r="3.4"/>
<circle class="r" cx="1206.0" cy="638.1" r="6.3"/>
<circle class="r" cx="1026.8" cy="630.3" r="10.3"/>
<circle class="r" cx="1019.4" cy="646.4" r="11.6"/>
<circle class="r s" cx="1107.2" cy="634.8" r="1.9"/>
<circle class="r" cx="1111.0" cy="642.6" r="3.4"/>
<circle class="r s" cx="1045.4" cy="654.2" r="2.6"/>
<circle class="r s" cx="1099.9" cy="658.2" r="2.6"/>
<circle class="r s" cx="1125.8" cy="658.2" r="2.8"/>
<circle class="r" cx="1155.0" cy="663.1" r="8.0"/>
<circle class="r s" cx="1202.2" cy="664.3" r="2.8"/>
<circle class="r" cx="1004.5" cy="668.7" r="6.7"/>
<circle class="r" cx="1005.6" cy="675.6" r="8.9"/>
<circle class="r" cx="1078.2" cy="681.2" r="10.3"/>
<circle class="r s" cx="1129.6" cy="672.7" r="2.6"/>
<circle class="r" cx="1155.0" cy="670.0" r="4.5"/>
<circle class="r s" cx="1023.0" cy="697.3" r="2.6"/>
<circle class="r" cx="1027.3" cy="719.2" r="8.5"/>
<circle class="r" cx="1031.3" cy="714.7" r="3.4"/>
<circle class="r s" cx="1071.0" cy="700.2" r="2.6"/>
<circle class="r" cx="1089.4" cy="722.5" r="4.5"/>
<circle class="r" cx="1082.7" cy="722.5" r="2.7"/>
<circle class="r s" cx="1100.1" cy="731.9" r="2.4"/>
<circle class="r" cx="1122.0" cy="704.6" r="2.7"/>
<circle class="r s" cx="1129.6" cy="704.0" r="3.0"/>
<circle class="r s" cx="1136.7" cy="704.0" r="3.0"/>
<circle class="r" cx="1115.1" cy="739.9" r="4.9"/>
<circle class="r s" cx="1089.4" cy="742.6" r="3.0"/>
<circle class="r s" cx="1227.9" cy="729.9" r="2.1"/>
<circle class="r" cx="1151.3" cy="746.0" r="5.8"/>
<circle class="r" cx="1149.7" cy="743.7" r="2.7"/>
<circle class="r" cx="1023.0" cy="741.5" r="6.7"/>
<circle class="r" cx="1027.3" cy="759.4" r="12.3"/>
<circle class="r" cx="1125.8" cy="762.3" r="3.1"/>
<circle class="r" cx="1129.1" cy="771.7" r="8.9"/>
<circle class="r s" cx="1133.2" cy="781.0" r="3.0"/>
<circle class="r" cx="1111.0" cy="782.8" r="4.0"/>
<circle class="r" cx="1086.0" cy="775.0" r="6.3"/>
<circle class="r" cx="1078.2" cy="791.8" r="12.3"/>
<circle class="r" cx="1074.8" cy="800.7" r="13.4"/>
<circle class="r s" cx="1096.5" cy="799.1" r="2.6"/>
<circle class="r" cx="1129.6" cy="814.1" r="9.8"/>
<circle class="r" cx="1158.6" cy="796.7" r="4.0"/>
<circle class="r s" cx="1155.0" cy="801.8" r="3.0"/>
<circle class="r s" cx="1162.4" cy="804.0" r="3.0"/>
<circle class="r" cx="1162.4" cy="773.9" r="10.7"/>
<circle class="r" cx="1160.9" cy="781.7" r="8.0"/>
<circle class="r" cx="1165.3" cy="763.8" r="6.7"/>
<circle class="r" cx="1180.5" cy="768.3" r="4.0"/>
<circle class="r" cx="1185.4" cy="771.7" r="4.0"/>
<circle class="r" cx="1202.6" cy="796.7" r="2.7"/>
<circle class="r" cx="1206.0" cy="807.4" r="9.4"/>
<circle class="r" cx="1210.0" cy="815.2" r="5.6"/>
<circle class="r" cx="1235.7" cy="783.9" r="7.1"/>
<circle class="r s" cx="1253.6" cy="816.3" r="2.8"/>
<circle class="r" cx="1260.9" cy="817.9" r="4.5"/>
<circle class="r s" cx="1250.0" cy="825.7" r="2.8"/>
<circle class="r" cx="1278.2" cy="826.4" r="10.1"/>
<circle class="r" cx="1264.7" cy="840.2" r="8.9"/>
<circle class="r" cx="1281.5" cy="840.9" r="3.4"/>
<circle class="r" cx="1224.5" cy="826.4" r="11.2"/>
<circle class="r" cx="1234.6" cy="834.2" r="13.9"/>
<circle class="r" cx="1210.0" cy="838.7" r="7.8"/>
<circle class="r" cx="1176.5" cy="806.3" r="10.3"/>
<circle class="r" cx="1180.5" cy="815.2" r="8.9"/>
<circle class="r" cx="1172.0" cy="826.4" r="11.2"/>
<circle class="r" cx="1178.7" cy="828.6" r="8.9"/>
<circle class="r" cx="1122.0" cy="833.1" r="13.4"/>
<circle class="r" cx="1084.9" cy="816.8" r="6.3"/>
<circle class="r" cx="1033.5" cy="824.2" r="10.1"/>
<circle class="r" cx="1038.0" cy="823.0" r="4.5"/>
<circle class="r" cx="1049.2" cy="830.9" r="9.4"/>
<circle class="r" cx="1048.7" cy="837.6" r="5.6"/>
<circle class="b s" cx="174.0" cy="843.6" r="2.5"/>
<circle class="b s" cx="251.7" cy="843.6" r="2.5"/>
<circle class="b s" cx="378.9" cy="843.2" r="2.5"/>
<circle class="b s" cx="403.7" cy="752.2" r="1.9"/>
<circle class="b s" cx="430.1" cy="689.6" r="2.5"/>
<circle class="b" cx="411.7" cy="777.9" r="3.5"/>
<circle class="b" cx="426.6" cy="802.4" r="2.8"/>
<circle class="b s" cx="411.3" cy="843.6" r="3.0"/>
<circle class="b s" cx="429.6" cy="842.6" r="3.0"/>
<circle class="b" cx="440.0" cy="833.9" r="3.2"/>
<circle class="b s" cx="378.9" cy="615.5" r="2.7"/>
<circle class="b s" cx="463.3" cy="494.7" r="3.4"/>
<circle class="b" cx="584.1" cy="494.7" r="3.0"/>
<circle class="b" cx="584.1" cy="509.0" r="6.0"/>
<circle class="b s" cx="660.4" cy="506.2" r="2.3"/>
<circle class="b" cx="668.2" cy="556.9" r="5.6"/>
<circle class="b" cx="708.6" cy="553.2" r="3.5"/>
<circle class="b" cx="584.1" cy="579.7" r="3.9"/>
<circle class="b" cx="613.2" cy="577.4" r="4.3"/>
<circle class="b s" cx="683.1" cy="610.8" r="3.2"/>
<circle class="b" cx="591.4" cy="612.5" r="3.9"/>
<circle class="b" cx="529.1" cy="617.7" r="8.2"/>
<circle class="b" cx="507.1" cy="630.2" r="10.4"/>
<circle class="b" cx="609.8" cy="652.9" r="6.5"/>
<circle class="b" cx="532.8" cy="651.3" r="10.8"/>
<circle class="b" cx="536.0" cy="655.0" r="5.4"/>
<circle class="b" cx="558.2" cy="661.9" r="4.3"/>
<circle class="b" cx="693.5" cy="657.2" r="5.4"/>
<circle class="b s" cx="463.3" cy="669.0" r="3.4"/>
<circle class="b" cx="463.3" cy="676.5" r="6.9"/>
<circle class="b" cx="463.3" cy="689.8" r="3.9"/>
<circle class="b" cx="452.3" cy="696.5" r="3.0"/>
<circle class="b" cx="456.0" cy="728.9" r="3.7"/>
<circle class="b" cx="533.2" cy="714.7" r="4.7"/>
<circle class="b" cx="580.2" cy="707.7" r="6.9"/>
<circle class="b" cx="661.1" cy="728.2" r="4.7"/>
<circle class="b" cx="609.8" cy="736.2" r="6.0"/>
<circle class="b" cx="686.5" cy="682.9" r="3.2"/>
<circle class="b" cx="712.2" cy="679.1" r="5.6"/>
<circle class="b" cx="686.5" cy="737.3" r="5.2"/>
<circle class="b" cx="712.2" cy="747.2" r="4.3"/>
<circle class="b" cx="718.3" cy="770.3" r="3.9"/>
<circle class="b" cx="481.6" cy="746.4" r="5.8"/>
<circle class="b" cx="503.6" cy="740.1" r="8.6"/>
<circle class="b" cx="506.9" cy="750.9" r="6.0"/>
<circle class="b" cx="456.2" cy="773.1" r="4.3"/>
<circle class="b" cx="481.6" cy="775.7" r="5.2"/>
<circle class="b" cx="532.8" cy="762.3" r="7.8"/>
<circle class="b" cx="558.2" cy="762.8" r="4.7"/>
<circle class="b" cx="554.3" cy="794.7" r="4.7"/>
<circle class="b" cx="559.3" cy="792.5" r="4.3"/>
<circle class="b" cx="690.2" cy="811.9" r="3.0"/>
<circle class="b" cx="448.6" cy="835.0" r="11.2"/>
<circle class="b" cx="444.3" cy="831.3" r="3.9"/>
<circle class="b" cx="478.0" cy="831.8" r="6.0"/>
<circle class="b" cx="748.7" cy="513.1" r="4.3"/>
<circle class="b" cx="734.5" cy="526.7" r="6.0"/>
<circle class="b" cx="789.0" cy="531.0" r="5.6"/>
<circle class="b" cx="796.6" cy="495.4" r="3.0"/>
<circle class="b s" cx="814.5" cy="494.7" r="2.5"/>
<circle class="b s" cx="942.8" cy="504.5" r="2.7"/>
<circle class="b s" cx="938.9" cy="522.8" r="3.0"/>
<circle class="b" cx="949.9" cy="567.2" r="9.1"/>
<circle class="b" cx="811.0" cy="586.0" r="7.1"/>
<circle class="b s" cx="770.7" cy="584.9" r="2.3"/>
<circle class="b s" cx="796.1" cy="595.3" r="2.5"/>
<circle class="b s" cx="796.1" cy="607.1" r="2.7"/>
<circle class="b" cx="792.7" cy="622.0" r="6.9"/>
<circle class="b" cx="949.9" cy="609.3" r="3.5"/>
<circle class="b" cx="975.6" cy="620.5" r="3.7"/>
<circle class="b" cx="840.1" cy="642.1" r="6.0"/>
<circle class="b" cx="789.0" cy="639.5" r="5.4"/>
<circle class="b" cx="840.1" cy="661.5" r="8.2"/>
<circle class="b" cx="814.5" cy="656.1" r="3.7"/>
<circle class="b" cx="814.5" cy="662.6" r="5.4"/>
<circle class="b" cx="796.1" cy="654.4" r="5.4"/>
<circle class="b s" cx="949.9" cy="645.3" r="2.5"/>
<circle class="b s" cx="975.6" cy="640.3" r="3.0"/>
<circle class="b s" cx="975.6" cy="657.2" r="2.5"/>
<circle class="b s" cx="990.1" cy="657.2" r="2.1"/>
<circle class="b" cx="770.7" cy="686.2" r="3.2"/>
<circle class="b" cx="748.7" cy="762.8" r="6.5"/>
<circle class="b" cx="737.7" cy="768.6" r="4.1"/>
<circle class="b" cx="720.0" cy="770.3" r="4.3"/>
<circle class="b" cx="840.1" cy="788.6" r="6.9"/>
<circle class="b" cx="759.9" cy="791.9" r="4.1"/>
<circle class="b" cx="770.7" cy="808.1" r="3.9"/>
<circle class="b" cx="763.1" cy="828.5" r="3.5"/>
<circle class="b" cx="770.7" cy="844.3" r="4.3"/>
<circle class="b s" cx="748.7" cy="843.6" r="3.0"/>
<circle class="b s" cx="737.7" cy="844.3" r="3.0"/>
<circle class="b s" cx="924.5" cy="704.5" r="2.7"/>
<circle class="b s" cx="924.5" cy="732.1" r="2.7"/>
<circle class="b s" cx="924.5" cy="756.3" r="2.5"/>
<circle class="b" cx="949.9" cy="760.6" r="7.5"/>
<circle class="b" cx="938.9" cy="783.2" r="3.5"/>
<circle class="b s" cx="949.9" cy="780.4" r="2.7"/>
<circle class="b s" cx="968.1" cy="771.8" r="2.7"/>
<circle class="b s" cx="964.6" cy="750.5" r="2.5"/>
<circle class="b" cx="949.9" cy="697.0" r="3.5"/>
<circle class="b s" cx="942.8" cy="695.9" r="2.1"/>
<circle class="b" cx="964.6" cy="704.9" r="9.1"/>
<circle class="b s" cx="968.1" cy="718.5" r="2.7"/>
<circle class="b s" cx="975.6" cy="719.6" r="2.7"/>
<circle class="b s" cx="968.1" cy="676.9" r="2.1"/>
<circle class="b s" cx="990.1" cy="680.8" r="2.1"/>
<circle class="b s" cx="993.9" cy="728.9" r="2.1"/>
<circle class="b s" cx="993.9" cy="796.8" r="2.7"/>
<circle class="b s" cx="1002.2" cy="495.6" r="3.0"/>
<circle class="b s" cx="1026.8" cy="587.4" r="2.1"/>
<circle class="b s" cx="1052.5" cy="589.9" r="3.0"/>
<circle class="b s" cx="1052.5" cy="611.8" r="3.0"/>
<circle class="b s" cx="1052.5" cy="636.3" r="3.0"/>
<circle class="b" cx="1052.5" cy="641.9" r="3.1"/>
<circle class="b s" cx="1103.4" cy="635.7" r="2.1"/>
<circle class="b s" cx="1001.1" cy="659.3" r="2.1"/>
<circle class="b" cx="1019.4" cy="704.6" r="4.9"/>
<circle class="b" cx="1019.4" cy="711.3" r="2.7"/>
<circle class="b s" cx="1045.4" cy="718.5" r="3.0"/>
<circle class="b s" cx="1045.4" cy="730.8" r="3.3"/>
<circle class="b s" cx="1001.1" cy="727.0" r="2.1"/>
<circle class="b" cx="1078.2" cy="718.0" r="3.1"/>
<circle class="b s" cx="1096.5" cy="731.9" r="2.1"/>
<circle class="b" cx="1147.5" cy="733.7" r="3.4"/>
<circle class="b" cx="1015.6" cy="747.1" r="5.8"/>
<circle class="b" cx="1045.4" cy="751.5" r="3.6"/>
<circle class="b" cx="1071.0" cy="747.7" r="7.1"/>
<circle class="b" cx="1067.0" cy="760.0" r="5.8"/>
<circle class="b s" cx="1078.2" cy="757.6" r="2.1"/>
<circle class="b" cx="1071.0" cy="769.4" r="5.8"/>
<circle class="b" cx="1027.3" cy="758.2" r="9.4"/>
<circle class="b" cx="1045.8" cy="762.3" r="8.5"/>
<circle class="b s" cx="1092.7" cy="756.0" r="2.1"/>
<circle class="b s" cx="1096.5" cy="765.6" r="2.8"/>
<circle class="b s" cx="1103.9" cy="799.6" r="3.0"/>
<circle class="b" cx="1096.5" cy="807.4" r="2.7"/>
<circle class="b s" cx="1173.1" cy="791.3" r="3.3"/>
<circle class="b s" cx="1250.0" cy="798.0" r="2.8"/>
<circle class="b" cx="1224.5" cy="835.8" r="4.9"/>
<circle class="b" cx="1195.5" cy="834.2" r="4.5"/>
<circle class="b" cx="1184.1" cy="821.9" r="5.8"/>
<circle class="b s" cx="1184.1" cy="829.1" r="2.6"/>
<circle class="b s" cx="1173.1" cy="817.5" r="3.0"/>
<circle class="b s" cx="1147.5" cy="813.0" r="3.3"/>
<circle class="b s" cx="1144.1" cy="824.2" r="2.6"/>
<circle class="b s" cx="1103.9" cy="825.7" r="2.6"/>
<circle class="b" cx="1103.9" cy="837.6" r="3.8"/>
<circle class="b s" cx="1078.2" cy="835.3" r="2.1"/>
<circle class="b" cx="1071.0" cy="809.0" r="9.4"/>
<circle class="b" cx="1052.5" cy="819.7" r="3.1"/>
<circle class="b" cx="1026.8" cy="840.9" r="4.0"/>
<circle class="b" cx="1140.1" cy="842.5" r="2.7"/>
<circle class="b" cx="1180.5" cy="839.8" r="6.7"/>
<circle class="b" cx="1176.5" cy="837.6" r="2.7"/>
<line x1="404.7" y1="493.6" x2="404.7" y2="845.7" stroke="#E24A33" stroke-width="3.3"/>
<polyline class="av" points="166.5,845.2 298.1,844.3 323.9,842.6 343.3,838.9 363.8,836.1 376.8,828.5 382.2,822.1 386.5,817.8 397.3,816.7 403.7,810.2 410.2,803.7 415.6,800.1 418.8,800.5 422.7,785.4 426.4,787.6 433.9,785.4 437.2,782.2 440.0,783.9 444.3,788.2 450.8,787.6 455.5,791.2 461.6,784.3 467.0,775.7 470.2,774.6 474.5,782.6 483.1,782.6 486.4,780.4 489.2,782.6 496.5,767.1 504.7,753.0 510.1,745.5 514.4,752.6 518.7,744.4 526.3,734.7 537.1,725.0 545.7,722.8 550.0,723.9 554.3,725.0 560.8,720.7 565.8,714.9 569.4,720.7 578.1,712.1 583.4,702.4 591.0,693.7 595.3,691.6 599.6,693.3 610.4,690.5 619.0,689.4 627.7,686.2 632.0,687.3 635.2,692.6 642.8,682.9 647.1,675.4 651.4,670.0 655.7,666.9 664.3,663.6 668.6,657.2 675.1,648.5 679.4,651.8 685.9,648.5 693.5,653.9 702.1,657.2 707.5,650.7 716.1,644.2 720.0,648.5 725.4,647.5 730.8,641.0 735.1,631.3 738.3,632.4 741.6,624.2 754.5,625.5 759.9,631.3 765.3,633.4 770.7,637.3 776.1,634.1 782.6,635.0 789.0,638.8 794.4,640.6 799.8,638.4 805.2,638.8 814.9,632.4 821.4,627.0 825.7,630.2 828.9,629.8 836.5,634.5 843.4,638.4 851.6,630.2 860.2,624.2 868.8,624.8 875.3,623.7 879.6,627.0 886.1,624.8 896.9,623.7 903.3,628.1 907.7,628.1 910.9,633.4 913.1,644.2 919.5,644.2 923.8,646.4 927.1,645.3 931.4,651.3 937.9,654.4 945.4,650.7 953.0,656.1 959.4,661.5 965.9,663.6 970.2,669.9 973.5,673.9 979.9,674.7 984.2,670.0 987.5,671.1 993.9,674.7 1000.0,678.9 1005.6,682.3 1010.1,680.1 1014.5,670.0 1022.3,672.2 1033.5,680.1 1042.4,687.9 1048.7,696.4 1052.5,691.2 1059.2,705.7 1063.7,710.2 1067.0,722.5 1073.7,724.7 1082.7,729.2 1086.0,734.8 1089.4,734.3 1098.3,741.5 1103.2,747.1 1109.5,741.5 1115.1,748.6 1121.8,747.7 1125.6,743.7 1131.8,749.3 1136.7,747.1 1145.2,756.0 1154.2,754.5 1160.9,761.2 1166.4,762.7 1173.1,768.3 1178.7,775.5 1184.3,781.0 1192.1,774.6 1196.6,776.1 1204.4,781.7 1214.5,784.4 1223.4,785.1 1227.9,786.2 1234.6,790.6 1240.2,788.4 1243.5,792.4 1250.2,789.5 1253.6,790.6 1256.9,798.5 1262.5,804.0 1269.2,807.4 1275.9,807.4 1280.4,804.0"/>
</g>
<rect x="163.2" y="493.6" width="1123.7" height="352.1" fill="none" stroke="#464646" stroke-width="2.3"/>
<line x1="154.2" y1="845.7" x2="163.2" y2="845.7" stroke="#464646" stroke-width="1.9"/>
<text x="68.6" y="859.5" font-size="37" textLength="75" lengthAdjust="spacingAndGlyphs">0.00</text>
<line x1="154.2" y1="757.7" x2="163.2" y2="757.7" stroke="#464646" stroke-width="1.9"/>
<text x="68.6" y="771.5" font-size="37" textLength="75" lengthAdjust="spacingAndGlyphs">0.25</text>
<line x1="154.2" y1="669.7" x2="163.2" y2="669.7" stroke="#464646" stroke-width="1.9"/>
<text x="68.6" y="683.5" font-size="37" textLength="75" lengthAdjust="spacingAndGlyphs">0.50</text>
<line x1="154.2" y1="581.6" x2="163.2" y2="581.6" stroke="#464646" stroke-width="1.9"/>
<text x="68.6" y="595.4" font-size="37" textLength="75" lengthAdjust="spacingAndGlyphs">0.75</text>
<line x1="154.2" y1="493.6" x2="163.2" y2="493.6" stroke="#464646" stroke-width="1.9"/>
<text x="68.6" y="507.4" font-size="37" textLength="75" lengthAdjust="spacingAndGlyphs">1.00</text>
<path d="M163.04 845.7v5.2M166.70 845.7v5.2M170.36 845.7v5.2M174.02 845.7v5.2M177.68 845.7v5.2M181.34 845.7v5.2M185.00 845.7v5.2M188.67 845.7v5.2M192.33 845.7v5.2M195.99 845.7v5.2M199.65 845.7v5.2M203.31 845.7v5.2M206.97 845.7v5.2M210.63 845.7v5.2M214.29 845.7v5.2M217.95 845.7v5.2M221.61 845.7v5.2M225.28 845.7v5.2M228.94 845.7v5.2M232.60 845.7v5.2M236.26 845.7v5.2M239.92 845.7v5.2M243.58 845.7v5.2M247.24 845.7v5.2M250.90 845.7v5.2M254.56 845.7v5.2M258.23 845.7v5.2M261.89 845.7v5.2M265.55 845.7v5.2M269.21 845.7v5.2M272.87 845.7v5.2M276.53 845.7v5.2M280.19 845.7v5.2M283.85 845.7v5.2M287.51 845.7v5.2M291.17 845.7v5.2M294.83 845.7v5.2M298.50 845.7v5.2M302.16 845.7v5.2M305.82 845.7v5.2M309.48 845.7v5.2M313.14 845.7v5.2M316.80 845.7v5.2M320.46 845.7v5.2M324.12 845.7v5.2M327.78 845.7v5.2M331.44 845.7v5.2M335.11 845.7v5.2M338.77 845.7v5.2M342.43 845.7v5.2M346.09 845.7v5.2M349.75 845.7v5.2M353.41 845.7v5.2M357.07 845.7v5.2M360.73 845.7v5.2M364.39 845.7v5.2M368.05 845.7v5.2M371.72 845.7v5.2M375.38 845.7v5.2M379.04 845.7v5.2M382.70 845.7v5.2M386.36 845.7v5.2M390.02 845.7v5.2M393.68 845.7v5.2M397.34 845.7v5.2M401.00 845.7v5.2M404.66 845.7v5.2M408.33 845.7v5.2M411.99 845.7v5.2M415.65 845.7v5.2M419.31 845.7v5.2M422.97 845.7v5.2M426.63 845.7v5.2M430.29 845.7v5.2M433.95 845.7v5.2M437.61 845.7v5.2M441.27 845.7v5.2M444.94 845.7v5.2M448.60 845.7v5.2M452.26 845.7v5.2M455.92 845.7v5.2M459.58 845.7v5.2M463.24 845.7v5.2M466.90 845.7v5.2M470.56 845.7v5.2M474.22 845.7v5.2M477.88 845.7v5.2M481.55 845.7v5.2M485.21 845.7v5.2M488.87 845.7v5.2M492.53 845.7v5.2M496.19 845.7v5.2M499.85 845.7v5.2M503.51 845.7v5.2M507.17 845.7v5.2M510.83 845.7v5.2M514.50 845.7v5.2M518.16 845.7v5.2M521.82 845.7v5.2M525.48 845.7v5.2M529.14 845.7v5.2M532.80 845.7v5.2M536.46 845.7v5.2M540.12 845.7v5.2M543.78 845.7v5.2M547.44 845.7v5.2M551.11 845.7v5.2M554.77 845.7v5.2M558.43 845.7v5.2M562.09 845.7v5.2M565.75 845.7v5.2M569.41 845.7v5.2M573.07 845.7v5.2M576.73 845.7v5.2M580.39 845.7v5.2M584.05 845.7v5.2M587.71 845.7v5.2M591.38 845.7v5.2M595.04 845.7v5.2M598.70 845.7v5.2M602.36 845.7v5.2M606.02 845.7v5.2M609.68 845.7v5.2M613.34 845.7v5.2M617.00 845.7v5.2M620.66 845.7v5.2M624.33 845.7v5.2M627.99 845.7v5.2M631.65 845.7v5.2M635.31 845.7v5.2M638.97 845.7v5.2M642.63 845.7v5.2M646.29 845.7v5.2M649.95 845.7v5.2M653.61 845.7v5.2M657.27 845.7v5.2M660.93 845.7v5.2M664.60 845.7v5.2M668.26 845.7v5.2M671.92 845.7v5.2M675.58 845.7v5.2M679.24 845.7v5.2M682.90 845.7v5.2M686.56 845.7v5.2M690.22 845.7v5.2M693.88 845.7v5.2M697.55 845.7v5.2M701.21 845.7v5.2M704.87 845.7v5.2M708.53 845.7v5.2M712.19 845.7v5.2M715.85 845.7v5.2M719.51 845.7v5.2M723.17 845.7v5.2M726.83 845.7v5.2M730.49 845.7v5.2M734.15 845.7v5.2M737.82 845.7v5.2M741.48 845.7v5.2M745.14 845.7v5.2M748.80 845.7v5.2M752.46 845.7v5.2M756.12 845.7v5.2M759.78 845.7v5.2M763.44 845.7v5.2M767.10 845.7v5.2M770.77 845.7v5.2M774.43 845.7v5.2M778.09 845.7v5.2M781.75 845.7v5.2M785.41 845.7v5.2M789.07 845.7v5.2M792.73 845.7v5.2M796.39 845.7v5.2M800.05 845.7v5.2M803.71 845.7v5.2M807.38 845.7v5.2M811.04 845.7v5.2M814.70 845.7v5.2M818.36 845.7v5.2M822.02 845.7v5.2M825.68 845.7v5.2M829.34 845.7v5.2M833.00 845.7v5.2M836.66 845.7v5.2M840.32 845.7v5.2M843.98 845.7v5.2M847.65 845.7v5.2M851.31 845.7v5.2M854.97 845.7v5.2M858.63 845.7v5.2M862.29 845.7v5.2M865.95 845.7v5.2M869.61 845.7v5.2M873.27 845.7v5.2M876.93 845.7v5.2M880.60 845.7v5.2M884.26 845.7v5.2M887.92 845.7v5.2M891.58 845.7v5.2M895.24 845.7v5.2M898.90 845.7v5.2M902.56 845.7v5.2M906.22 845.7v5.2M909.88 845.7v5.2M913.54 845.7v5.2M917.20 845.7v5.2M920.87 845.7v5.2M924.53 845.7v5.2M928.19 845.7v5.2M931.85 845.7v5.2M935.51 845.7v5.2M939.17 845.7v5.2M942.83 845.7v5.2M946.49 845.7v5.2M950.15 845.7v5.2M953.82 845.7v5.2M957.48 845.7v5.2M961.14 845.7v5.2M964.80 845.7v5.2M968.46 845.7v5.2M972.12 845.7v5.2M975.78 845.7v5.2M979.44 845.7v5.2M983.10 845.7v5.2M986.76 845.7v5.2M990.42 845.7v5.2M994.09 845.7v5.2M997.75 845.7v5.2M1001.41 845.7v5.2M1005.07 845.7v5.2M1008.73 845.7v5.2M1012.39 845.7v5.2M1016.05 845.7v5.2M1019.71 845.7v5.2M1023.37 845.7v5.2M1027.04 845.7v5.2M1030.70 845.7v5.2M1034.36 845.7v5.2M1038.02 845.7v5.2M1041.68 845.7v5.2M1045.34 845.7v5.2M1049.00 845.7v5.2M1052.66 845.7v5.2M1056.32 845.7v5.2M1059.98 845.7v5.2M1063.64 845.7v5.2M1067.31 845.7v5.2M1070.97 845.7v5.2M1074.63 845.7v5.2M1078.29 845.7v5.2M1081.95 845.7v5.2M1085.61 845.7v5.2M1089.27 845.7v5.2M1092.93 845.7v5.2M1096.59 845.7v5.2M1100.26 845.7v5.2M1103.92 845.7v5.2M1107.58 845.7v5.2M1111.24 845.7v5.2M1114.90 845.7v5.2M1118.56 845.7v5.2M1122.22 845.7v5.2M1125.88 845.7v5.2M1129.54 845.7v5.2M1133.20 845.7v5.2M1136.87 845.7v5.2M1140.53 845.7v5.2M1144.19 845.7v5.2M1147.85 845.7v5.2M1151.51 845.7v5.2M1155.17 845.7v5.2M1158.83 845.7v5.2M1162.49 845.7v5.2M1166.15 845.7v5.2M1169.81 845.7v5.2M1173.47 845.7v5.2M1177.14 845.7v5.2M1180.80 845.7v5.2M1184.46 845.7v5.2M1188.12 845.7v5.2M1191.78 845.7v5.2M1195.44 845.7v5.2M1199.10 845.7v5.2M1202.76 845.7v5.2M1206.42 845.7v5.2M1210.09 845.7v5.2M1213.75 845.7v5.2M1217.41 845.7v5.2M1221.07 845.7v5.2M1224.73 845.7v5.2M1228.39 845.7v5.2M1232.05 845.7v5.2M1235.71 845.7v5.2M1239.37 845.7v5.2M1243.03 845.7v5.2M1246.70 845.7v5.2M1250.36 845.7v5.2M1254.02 845.7v5.2M1257.68 845.7v5.2M1261.34 845.7v5.2M1265.00 845.7v5.2M1268.66 845.7v5.2M1272.32 845.7v5.2M1275.98 845.7v5.2M1279.64 845.7v5.2M1283.31 845.7v5.2M1286.97 845.7v5.2" stroke="#464646" stroke-width="1.3" fill="none"/>
<path d="M166.70 845.7v9.4M276.53 845.7v9.4M390.02 845.7v9.4M499.85 845.7v9.4M613.34 845.7v9.4M726.83 845.7v9.4M836.66 845.7v9.4M950.15 845.7v9.4M1059.98 845.7v9.4M1173.47 845.7v9.4M1286.97 845.7v9.4" stroke="#464646" stroke-width="1.9" fill="none"/>
<text x="642.1" y="478.1" font-size="37" textLength="164.6" lengthAdjust="spacingAndGlyphs">A28330G</text>
<text x="221.5" y="563.1" font-size="31.2" textLength="174.3" lengthAdjust="spacingAndGlyphs">2022-06-05</text>
<g clip-path="url(#c2)">
<circle class="y" cx="1005.2" cy="1045.4" r="7.5"/>
<circle class="y" cx="1279.7" cy="1048.7" r="6.4"/>
<circle class="y" cx="1086.0" cy="1063.9" r="6.1"/>
<circle class="y" cx="1275.7" cy="1076.9" r="8.3"/>
<circle class="y" cx="1219.9" cy="1070.8" r="6.3"/>
<circle class="y" cx="1000.1" cy="1239.2" r="5.6"/>
<circle class="y" cx="983.8" cy="1283.5" r="9.1"/>
<circle class="y" cx="953.9" cy="1180.6" r="7.2"/>
<circle class="y" cx="959.2" cy="1260.6" r="6.2"/>
<circle class="y" cx="877.3" cy="1236.1" r="5.7"/>
<circle class="y" cx="866.7" cy="1248.6" r="9.7"/>
<circle class="y s" cx="281.9" cy="1281.5" r="2.5"/>
<circle class="y" cx="331.5" cy="1283.2" r="3.0"/>
<circle class="y s" cx="382.8" cy="1270.3" r="2.1"/>
<circle class="y" cx="433.9" cy="1225.4" r="6.0"/>
<circle class="y" cx="536.4" cy="1248.1" r="6.0"/>
<circle class="y s" cx="716.1" cy="1284.3" r="3.0"/>
<circle class="y" cx="767.0" cy="1248.5" r="6.5"/>
<circle class="y" cx="880.3" cy="1175.8" r="10.8"/>
<circle class="y" cx="869.5" cy="1187.7" r="4.7"/>
<circle class="y" cx="873.1" cy="1208.1" r="12.5"/>
<circle class="y s" cx="869.5" cy="1236.2" r="2.1"/>
<circle class="y" cx="818.1" cy="1257.8" r="6.0"/>
<circle class="y" cx="792.7" cy="1256.7" r="3.0"/>
<circle class="y" cx="894.7" cy="1280.4" r="5.4"/>
<circle class="y" cx="935.7" cy="1179.0" r="8.6"/>
<circle class="y" cx="948.2" cy="1170.4" r="6.0"/>
<circle class="y" cx="928.2" cy="1197.4" r="9.1"/>
<circle class="y" cx="928.2" cy="1196.3" r="5.4"/>
<circle class="y" cx="920.6" cy="1204.9" r="3.7"/>
<circle class="y" cx="919.5" cy="1267.5" r="6.5"/>
<circle class="y" cx="971.9" cy="1144.5" r="10.8"/>
<circle class="y" cx="998.3" cy="1155.3" r="7.5"/>
<circle class="y" cx="997.2" cy="1174.7" r="6.9"/>
<circle class="y" cx="968.1" cy="1276.1" r="8.6"/>
<circle class="y" cx="963.7" cy="1261.0" r="6.5"/>
<circle class="y" cx="1027.2" cy="937.5" r="8.6"/>
<circle class="y" cx="1061.7" cy="938.6" r="6.0"/>
<circle class="y" cx="1023.3" cy="961.3" r="5.6"/>
<circle class="y s" cx="1099.9" cy="966.7" r="2.3"/>
<circle class="y" cx="1107.6" cy="978.5" r="3.5"/>
<circle class="y" cx="997.6" cy="996.9" r="11.9"/>
<circle class="y" cx="997.6" cy="994.7" r="8.6"/>
<circle class="y s" cx="1021.8" cy="994.7" r="3.4"/>
<circle class="y" cx="1062.8" cy="1005.5" r="8.6"/>
<circle class="y" cx="1100.5" cy="994.7" r="6.5"/>
<circle class="y" cx="1107.6" cy="1016.3" r="4.3"/>
<circle class="y" cx="1073.5" cy="1035.7" r="12.9"/>
<circle class="y" cx="1122.1" cy="1049.7" r="8.6"/>
<circle class="y" cx="1056.3" cy="1059.4" r="11.9"/>
<circle class="y" cx="1100.5" cy="1061.6" r="6.0"/>
<circle class="y" cx="1111.3" cy="1070.2" r="8.6"/>
<circle class="y" cx="1125.3" cy="1081.0" r="10.8"/>
<circle class="y" cx="971.7" cy="1074.5" r="6.5"/>
<circle class="y" cx="946.3" cy="1098.2" r="6.0"/>
<circle class="y" cx="1048.7" cy="1114.9" r="6.7"/>
<circle class="y" cx="1022.3" cy="1132.3" r="7.8"/>
<circle class="y" cx="1001.1" cy="1154.7" r="4.0"/>
<circle class="y" cx="1000.0" cy="1172.6" r="3.4"/>
<circle class="y" cx="1023.0" cy="1223.9" r="6.7"/>
<circle class="y" cx="1060.3" cy="1282.0" r="5.6"/>
<circle class="y" cx="1078.2" cy="1274.2" r="8.0"/>
<circle class="y" cx="1074.8" cy="1248.5" r="4.0"/>
<circle class="y" cx="1100.5" cy="1126.8" r="7.8"/>
<circle class="y" cx="1078.2" cy="1172.6" r="8.9"/>
<circle class="y" cx="1125.8" cy="1132.3" r="6.3"/>
<circle class="y" cx="1125.1" cy="1116.7" r="8.9"/>
<circle class="y" cx="1124.0" cy="1178.1" r="8.9"/>
<circle class="y" cx="1214.5" cy="1125.6" r="10.1"/>
<circle class="y" cx="1227.9" cy="1151.3" r="8.0"/>
<circle class="y" cx="1253.6" cy="1123.4" r="6.3"/>
<circle class="y" cx="1253.6" cy="1185.3" r="4.5"/>
<circle class="y" cx="1201.1" cy="1174.8" r="4.9"/>
<circle class="y" cx="1260.9" cy="1284.3" r="3.1"/>
<circle class="y" cx="1154.9" cy="937.3" r="3.2"/>
<circle class="y" cx="1151.2" cy="979.3" r="4.0"/>
<circle class="y" cx="1177.1" cy="993.1" r="8.1"/>
<circle class="y" cx="1160.9" cy="1005.2" r="10.5"/>
<circle class="y" cx="1185.2" cy="1033.5" r="8.1"/>
<circle class="y" cx="1202.5" cy="1041.6" r="4.9"/>
<circle class="y" cx="1228.0" cy="1010.9" r="9.7"/>
<circle class="y" cx="1228.0" cy="1011.7" r="5.7"/>
<circle class="y" cx="1206.2" cy="992.3" r="11.0"/>
<circle class="y" cx="1203.0" cy="997.1" r="7.3"/>
<circle class="y" cx="1206.2" cy="946.2" r="6.5"/>
<circle class="y" cx="1207.8" cy="954.3" r="6.5"/>
<circle class="y" cx="1227.2" cy="960.7" r="8.1"/>
<circle class="y" cx="1249.9" cy="974.0" r="3.6"/>
<circle class="y" cx="1278.2" cy="973.7" r="9.7"/>
<circle class="y" cx="1253.1" cy="937.3" r="4.0"/>
<circle class="y" cx="1177.1" cy="937.3" r="3.2"/>
<circle class="y" cx="1203.0" cy="941.3" r="3.2"/>
<circle class="y" cx="1280.6" cy="1059.4" r="4.9"/>
<circle class="y" cx="1274.1" cy="1099.9" r="6.5"/>
<circle class="y" cx="1164.1" cy="1096.6" r="4.9"/>
<circle class="p" cx="1214.6" cy="1142.8" r="9.8"/>
<circle class="p" cx="1149.7" cy="1109.6" r="9.3"/>
<circle class="p" cx="1049.9" cy="1130.6" r="8.8"/>
<circle class="p" cx="1127.1" cy="1041.0" r="5.6"/>
<circle class="p" cx="1062.7" cy="1127.7" r="8.9"/>
<circle class="p" cx="1211.6" cy="1076.9" r="8.5"/>
<circle class="p" cx="1090.1" cy="1146.4" r="8.6"/>
<circle class="p" cx="1108.6" cy="1042.3" r="6.9"/>
<circle class="p" cx="1029.8" cy="1162.7" r="7.9"/>
<circle class="p" cx="1272.5" cy="1124.1" r="9.5"/>
<circle class="p" cx="1043.8" cy="1126.2" r="6.0"/>
<circle class="p" cx="1041.7" cy="1097.9" r="8.7"/>
<circle class="p" cx="1202.9" cy="1047.1" r="8.4"/>
<circle class="p" cx="1016.6" cy="1057.4" r="5.9"/>
<circle class="p" cx="1048.1" cy="1080.0" r="6.3"/>
<circle class="p" cx="1102.6" cy="1129.4" r="5.6"/>
<circle class="p" cx="1238.0" cy="1061.5" r="8.8"/>
<circle class="p" cx="1116.8" cy="1062.8" r="9.1"/>
<circle class="p" cx="1131.2" cy="1112.6" r="7.0"/>
<circle class="p" cx="1213.9" cy="1066.0" r="6.4"/>
<circle class="p" cx="1211.1" cy="1077.2" r="6.2"/>
<circle class="p" cx="1198.7" cy="1110.1" r="5.9"/>
<circle class="p" cx="1096.4" cy="1063.2" r="6.5"/>
<circle class="p" cx="1040.4" cy="1062.0" r="8.3"/>
<circle class="p" cx="1120.7" cy="1161.6" r="7.9"/>
<circle class="p" cx="1196.0" cy="1045.2" r="9.2"/>
<circle class="p" cx="1248.9" cy="1045.0" r="7.2"/>
<circle class="p" cx="1270.1" cy="1097.0" r="8.3"/>
<circle class="p" cx="1033.9" cy="1134.7" r="7.8"/>
<circle class="p" cx="1135.7" cy="1169.3" r="6.2"/>
<circle class="p" cx="1265.6" cy="1086.2" r="8.8"/>
<circle class="p" cx="1135.4" cy="1169.6" r="10.0"/>
<circle class="p" cx="1130.5" cy="1070.5" r="7.5"/>
<circle class="p" cx="1146.6" cy="1130.1" r="8.6"/>
<circle class="p" cx="953.4" cy="1153.4" r="9.1"/>
<circle class="p" cx="1015.7" cy="1180.9" r="7.8"/>
<circle class="p" cx="1046.2" cy="1181.6" r="5.5"/>
<circle class="p" cx="971.8" cy="1200.9" r="7.2"/>
<circle class="p" cx="1055.3" cy="1286.6" r="8.3"/>
<circle class="p" cx="1040.3" cy="1264.3" r="9.0"/>
<circle class="p" cx="981.8" cy="1242.3" r="9.4"/>
<circle class="p" cx="1016.3" cy="1226.5" r="9.1"/>
<circle class="p" cx="1052.1" cy="1212.0" r="9.7"/>
<circle class="p" cx="985.7" cy="1285.3" r="6.3"/>
<circle class="p" cx="977.9" cy="1174.9" r="7.8"/>
<circle class="p" cx="974.3" cy="1189.9" r="5.7"/>
<circle class="p" cx="1044.5" cy="1175.2" r="7.6"/>
<circle class="p" cx="1054.8" cy="1285.5" r="5.8"/>
<circle class="p" cx="1013.5" cy="1285.7" r="7.8"/>
<circle class="p" cx="976.4" cy="1256.1" r="5.5"/>
<circle class="p" cx="958.0" cy="1239.8" r="9.1"/>
<circle class="p" cx="972.6" cy="1275.5" r="9.2"/>
<circle class="p" cx="1093.4" cy="978.4" r="9.0"/>
<circle class="p" cx="1152.7" cy="977.7" r="6.7"/>
<circle class="p" cx="1169.0" cy="949.1" r="9.2"/>
<circle class="p" cx="1081.8" cy="976.7" r="6.7"/>
<circle class="p" cx="1191.3" cy="975.5" r="9.2"/>
<circle class="p" cx="1148.3" cy="952.1" r="9.3"/>
<circle class="p" cx="1215.0" cy="973.1" r="9.3"/>
<circle class="p" cx="913.3" cy="1249.4" r="5.9"/>
<circle class="p" cx="884.8" cy="1262.6" r="8.7"/>
<circle class="p" cx="874.2" cy="1277.1" r="6.2"/>
<circle class="p" cx="901.9" cy="1256.9" r="7.0"/>
<circle class="p" cx="923.7" cy="1265.9" r="7.2"/>
<circle class="p" cx="919.7" cy="1249.2" r="6.9"/>
<circle class="p" cx="912.2" cy="1274.4" r="8.7"/>
<circle class="p" cx="177.3" cy="1273.9" r="10.8"/>
<circle class="p" cx="210.7" cy="1278.2" r="13.4"/>
<circle class="p" cx="228.6" cy="1278.2" r="7.5"/>
<circle class="p" cx="254.9" cy="1278.2" r="5.4"/>
<circle class="p" cx="308.8" cy="1277.2" r="8.6"/>
<circle class="p" cx="317.5" cy="1277.2" r="7.5"/>
<circle class="p s" cx="356.7" cy="1254.5" r="2.1"/>
<circle class="p s" cx="366.0" cy="1283.2" r="3.4"/>
<circle class="p s" cx="393.6" cy="1262.9" r="2.3"/>
<circle class="p" cx="438.3" cy="1278.2" r="6.5"/>
<circle class="p" cx="532.8" cy="1248.1" r="6.5"/>
<circle class="p" cx="521.5" cy="1258.8" r="11.2"/>
<circle class="p" cx="451.9" cy="1267.5" r="10.4"/>
<circle class="p" cx="448.6" cy="1268.5" r="8.6"/>
<circle class="p" cx="470.8" cy="1273.9" r="7.5"/>
<circle class="p" cx="489.2" cy="1270.7" r="7.1"/>
<circle class="p" cx="477.7" cy="1280.4" r="7.5"/>
<circle class="p" cx="517.7" cy="1272.9" r="8.6"/>
<circle class="p" cx="544.6" cy="1270.7" r="10.4"/>
<circle class="p" cx="554.3" cy="1280.4" r="9.7"/>
<circle class="p" cx="534.9" cy="1280.4" r="8.6"/>
<circle class="p" cx="569.4" cy="1280.4" r="8.6"/>
<circle class="p" cx="601.8" cy="1280.4" r="6.5"/>
<circle class="p" cx="634.1" cy="1273.9" r="9.7"/>
<circle class="p" cx="646.0" cy="1277.2" r="7.5"/>
<circle class="p" cx="664.3" cy="1277.2" r="9.1"/>
<circle class="p" cx="676.2" cy="1277.2" r="8.6"/>
<circle class="p" cx="691.3" cy="1277.2" r="8.6"/>
<circle class="p" cx="712.2" cy="1262.1" r="6.0"/>
<circle class="p" cx="655.7" cy="1281.5" r="6.5"/>
<circle class="p" cx="683.7" cy="1282.6" r="6.5"/>
<circle class="p" cx="818.1" cy="1177.5" r="10.8"/>
<circle class="p" cx="844.0" cy="1216.8" r="8.2"/>
<circle class="p" cx="821.8" cy="1230.4" r="7.1"/>
<circle class="p s" cx="803.7" cy="1239.4" r="2.3"/>
<circle class="p" cx="894.7" cy="1174.1" r="15.5"/>
<circle class="p" cx="902.3" cy="1129.4" r="12.5"/>
<circle class="p" cx="898.0" cy="1135.9" r="8.2"/>
<circle class="p" cx="896.9" cy="1211.4" r="8.6"/>
<circle class="p" cx="899.0" cy="1222.2" r="4.3"/>
<circle class="p" cx="892.6" cy="1239.4" r="12.9"/>
<circle class="p" cx="879.6" cy="1248.1" r="10.8"/>
<circle class="p" cx="803.7" cy="1254.5" r="8.2"/>
<circle class="p" cx="799.8" cy="1265.3" r="8.6"/>
<circle class="p" cx="823.5" cy="1276.1" r="9.7"/>
<circle class="p" cx="784.7" cy="1276.1" r="10.8"/>
<circle class="p" cx="741.6" cy="1278.2" r="12.9"/>
<circle class="p" cx="728.6" cy="1280.4" r="10.8"/>
<circle class="p" cx="840.8" cy="1273.9" r="8.6"/>
<circle class="p" cx="858.1" cy="1278.2" r="8.6"/>
<circle class="p" cx="890.4" cy="1265.3" r="10.8"/>
<circle class="p" cx="928.2" cy="1139.1" r="11.9"/>
<circle class="p s" cx="946.5" cy="1130.1" r="2.5"/>
<circle class="p" cx="931.4" cy="1161.8" r="9.7"/>
<circle class="p" cx="935.7" cy="1169.3" r="8.6"/>
<circle class="p" cx="931.4" cy="1185.5" r="10.8"/>
<circle class="p" cx="935.7" cy="1261.0" r="8.6"/>
<circle class="p" cx="942.2" cy="1273.9" r="8.6"/>
<circle class="p" cx="976.7" cy="1116.5" r="10.8"/>
<circle class="p" cx="972.4" cy="1128.3" r="6.5"/>
<circle class="p" cx="993.9" cy="1131.6" r="8.6"/>
<circle class="p" cx="998.3" cy="1122.9" r="6.5"/>
<circle class="p" cx="970.2" cy="1157.5" r="9.7"/>
<circle class="p" cx="974.5" cy="1166.1" r="6.5"/>
<circle class="p" cx="993.9" cy="1187.7" r="6.5"/>
<circle class="p" cx="974.5" cy="1198.4" r="8.6"/>
<circle class="p" cx="996.1" cy="1248.1" r="6.5"/>
<circle class="p" cx="957.3" cy="1213.5" r="8.6"/>
<circle class="p" cx="963.7" cy="1209.2" r="6.5"/>
<circle class="p s" cx="1049.8" cy="936.5" r="3.4"/>
<circle class="p" cx="1008.8" cy="959.1" r="9.5"/>
<circle class="p" cx="1122.1" cy="968.8" r="3.9"/>
<circle class="p" cx="1127.5" cy="987.2" r="5.4"/>
<circle class="p" cx="960.9" cy="992.6" r="10.8"/>
<circle class="p" cx="1048.7" cy="1009.8" r="12.5"/>
<circle class="p s" cx="1045.5" cy="1028.1" r="2.5"/>
<circle class="p s" cx="1045.5" cy="1018.9" r="2.5"/>
<circle class="p" cx="1110.2" cy="1037.9" r="9.7"/>
<circle class="p" cx="1118.8" cy="1020.6" r="10.8"/>
<circle class="p s" cx="1107.6" cy="1024.3" r="3.4"/>
<circle class="p" cx="1132.9" cy="1062.0" r="3.0"/>
<circle class="p" cx="1103.7" cy="1051.9" r="3.0"/>
<circle class="p" cx="1023.9" cy="1059.4" r="12.9"/>
<circle class="p" cx="1080.0" cy="1059.4" r="12.9"/>
<circle class="p" cx="1075.7" cy="1087.5" r="12.9"/>
<circle class="p" cx="1097.3" cy="1076.7" r="9.7"/>
<circle class="p" cx="1129.6" cy="1078.8" r="8.6"/>
<circle class="p" cx="971.7" cy="1076.7" r="9.7"/>
<circle class="p" cx="1011.0" cy="1092.9" r="11.2"/>
<circle class="p" cx="1045.5" cy="1099.3" r="5.6"/>
<circle class="p" cx="979.7" cy="1109.0" r="6.5"/>
<circle class="p" cx="1110.2" cy="1085.3" r="8.6"/>
<circle class="p" cx="1138.3" cy="1070.2" r="8.6"/>
<circle class="p" cx="1032.6" cy="1078.8" r="12.9"/>
<circle class="p" cx="1039.0" cy="1085.3" r="6.5"/>
<circle class="p" cx="1004.5" cy="1134.6" r="8.9"/>
<circle class="p" cx="1020.1" cy="1150.2" r="8.9"/>
<circle class="p" cx="1033.5" cy="1159.2" r="8.9"/>
<circle class="p" cx="1011.2" cy="1172.6" r="11.2"/>
<circle class="p" cx="1022.3" cy="1181.5" r="11.2"/>
<circle class="p" cx="1053.6" cy="1170.3" r="7.8"/>
<circle class="p" cx="1048.7" cy="1203.8" r="10.1"/>
<circle class="p" cx="1033.5" cy="1235.1" r="8.9"/>
<circle class="p" cx="1049.2" cy="1238.5" r="10.1"/>
<circle class="p" cx="1063.7" cy="1241.8" r="11.2"/>
<circle class="p s" cx="1048.7" cy="1263.7" r="2.1"/>
<circle class="p" cx="1089.4" cy="1150.2" r="10.1"/>
<circle class="p" cx="1064.8" cy="1168.1" r="8.9"/>
<circle class="p" cx="1120.6" cy="1116.7" r="11.2"/>
<circle class="p" cx="1111.7" cy="1184.8" r="11.2"/>
<circle class="p" cx="1078.2" cy="1220.6" r="5.6"/>
<circle class="p" cx="1162.4" cy="1282.0" r="8.9"/>
<circle class="p" cx="1154.2" cy="1143.5" r="10.1"/>
<circle class="p" cx="1176.5" cy="1163.6" r="12.3"/>
<circle class="p" cx="1178.7" cy="1116.7" r="13.4"/>
<circle class="p" cx="1198.8" cy="1116.7" r="5.6"/>
<circle class="p" cx="1198.8" cy="1133.5" r="7.1"/>
<circle class="p" cx="1216.7" cy="1126.8" r="7.8"/>
<circle class="p" cx="1227.9" cy="1160.3" r="8.9"/>
<circle class="p" cx="1239.1" cy="1145.7" r="5.6"/>
<circle class="p" cx="1268.1" cy="1121.2" r="11.2"/>
<circle class="p" cx="1265.9" cy="1168.1" r="7.8"/>
<circle class="p" cx="1253.6" cy="1174.8" r="5.6"/>
<circle class="p" cx="1278.2" cy="1180.4" r="7.8"/>
<circle class="p" cx="1191.0" cy="1187.1" r="10.1"/>
<circle class="p" cx="1227.9" cy="1213.9" r="10.7"/>
<circle class="p" cx="1151.3" cy="1217.2" r="3.1"/>
<circle class="p" cx="1258.0" cy="1261.9" r="10.3"/>
<circle class="p" cx="1143.0" cy="1136.8" r="6.7"/>
<circle class="p" cx="1245.8" cy="1132.3" r="8.9"/>
<circle class="p" cx="1125.1" cy="1110.0" r="8.9"/>
<circle class="p" cx="1008.9" cy="1116.7" r="8.9"/>
<circle class="p" cx="1156.0" cy="960.7" r="8.9"/>
<circle class="p" cx="1159.3" cy="959.9" r="2.9"/>
<circle class="p" cx="1160.9" cy="988.2" r="8.9"/>
<circle class="p" cx="1158.8" cy="1005.2" r="2.9"/>
<circle class="p" cx="1148.0" cy="1028.7" r="5.7"/>
<circle class="p" cx="1151.2" cy="1041.6" r="5.7"/>
<circle class="p" cx="1148.0" cy="1056.2" r="6.5"/>
<circle class="p" cx="1203.0" cy="1009.3" r="6.5"/>
<circle class="p" cx="1203.0" cy="955.9" r="4.9"/>
<circle class="p" cx="1275.8" cy="936.5" r="4.0"/>
<circle class="p" cx="1232.1" cy="944.6" r="7.3"/>
<circle class="p" cx="1225.6" cy="938.1" r="4.9"/>
<circle class="p" cx="1258.0" cy="1031.9" r="7.3"/>
<circle class="p" cx="1268.5" cy="1033.5" r="6.5"/>
<circle class="p" cx="1279.0" cy="1053.0" r="6.5"/>
<circle class="p" cx="1170.6" cy="1075.6" r="8.1"/>
<circle class="p" cx="1185.2" cy="1078.8" r="9.7"/>
<circle class="p" cx="1193.3" cy="1069.1" r="6.5"/>
<circle class="p" cx="1225.6" cy="1075.6" r="8.1"/>
<circle class="p" cx="1236.9" cy="1091.8" r="8.1"/>
<circle class="p" cx="1249.9" cy="1067.5" r="6.5"/>
<circle class="p" cx="1258.0" cy="1085.3" r="8.1"/>
<circle class="p" cx="1206.2" cy="1104.7" r="8.1"/>
<circle class="p" cx="1241.8" cy="1104.7" r="6.5"/>
<circle class="g s" cx="254.5" cy="1276.7" r="2.1"/>
<circle class="g s" cx="383.3" cy="1282.6" r="2.5"/>
<circle class="g s" cx="415.6" cy="1283.6" r="3.0"/>
<circle class="g" cx="565.8" cy="1247.0" r="5.0"/>
<circle class="g" cx="840.1" cy="1212.9" r="9.3"/>
<circle class="g" cx="876.8" cy="1192.0" r="5.4"/>
<circle class="g" cx="876.8" cy="1230.8" r="5.4"/>
<circle class="g" cx="847.7" cy="1252.4" r="6.0"/>
<circle class="g" cx="814.5" cy="1272.2" r="8.0"/>
<circle class="g" cx="900.8" cy="1281.9" r="4.7"/>
<circle class="g" cx="910.9" cy="1149.9" r="5.4"/>
<circle class="g" cx="910.9" cy="1147.7" r="4.3"/>
<circle class="g" cx="928.2" cy="1155.9" r="4.7"/>
<circle class="g" cx="946.5" cy="1225.4" r="4.7"/>
<circle class="g" cx="924.5" cy="1230.8" r="10.4"/>
<circle class="g" cx="928.2" cy="1261.0" r="6.5"/>
<circle class="g" cx="928.2" cy="1269.6" r="5.4"/>
<circle class="g" cx="942.8" cy="1260.3" r="5.2"/>
<circle class="g" cx="979.3" cy="1168.7" r="5.8"/>
<circle class="g" cx="993.9" cy="1230.4" r="8.6"/>
<circle class="g" cx="979.3" cy="1268.5" r="9.7"/>
<circle class="g" cx="998.3" cy="1272.9" r="11.2"/>
<circle class="g" cx="1027.2" cy="937.5" r="15.5"/>
<circle class="g s" cx="1019.6" cy="939.1" r="3.0"/>
<circle class="g" cx="1056.7" cy="938.2" r="4.7"/>
<circle class="g" cx="1103.7" cy="935.4" r="3.9"/>
<circle class="g" cx="1124.7" cy="935.4" r="8.6"/>
<circle class="g" cx="1133.9" cy="938.6" r="3.0"/>
<circle class="g" cx="1082.2" cy="988.2" r="9.1"/>
<circle class="g" cx="1132.9" cy="985.7" r="8.6"/>
<circle class="g" cx="1107.6" cy="996.4" r="9.9"/>
<circle class="g" cx="1070.3" cy="1018.9" r="7.5"/>
<circle class="g" cx="1093.0" cy="1041.5" r="4.3"/>
<circle class="g" cx="1114.5" cy="1031.4" r="7.1"/>
<circle class="g" cx="1132.9" cy="1019.1" r="9.9"/>
<circle class="g" cx="1030.4" cy="1060.1" r="17.7"/>
<circle class="g" cx="1056.7" cy="1067.4" r="6.9"/>
<circle class="g" cx="1078.5" cy="1049.7" r="7.8"/>
<circle class="g" cx="1030.4" cy="1091.8" r="9.3"/>
<circle class="g" cx="1085.4" cy="1093.9" r="8.2"/>
<circle class="g" cx="1093.0" cy="1095.0" r="7.5"/>
<circle class="g" cx="1114.5" cy="1095.0" r="8.2"/>
<circle class="g" cx="1045.4" cy="1148.0" r="9.4"/>
<circle class="g s" cx="1001.1" cy="1177.0" r="1.9"/>
<circle class="g" cx="1063.0" cy="1166.3" r="6.0"/>
<circle class="g" cx="1024.6" cy="1190.4" r="7.8"/>
<circle class="g" cx="1000.0" cy="1229.5" r="3.1"/>
<circle class="g" cx="1000.0" cy="1272.0" r="10.1"/>
<circle class="g" cx="1084.9" cy="1130.1" r="12.3"/>
<circle class="g" cx="1125.8" cy="1201.2" r="5.8"/>
<circle class="g" cx="1081.5" cy="1211.7" r="8.5"/>
<circle class="g" cx="1129.6" cy="1223.9" r="8.9"/>
<circle class="g" cx="1081.5" cy="1235.1" r="8.0"/>
<circle class="g" cx="1103.9" cy="1235.8" r="13.9"/>
<circle class="g" cx="1155.0" cy="1263.5" r="4.5"/>
<circle class="g s" cx="1103.4" cy="1280.2" r="2.6"/>
<circle class="g s" cx="1133.2" cy="1283.1" r="3.0"/>
<circle class="g s" cx="1206.0" cy="1135.7" r="2.4"/>
<circle class="g s" cx="1206.0" cy="1141.3" r="3.3"/>
<circle class="g" cx="1260.9" cy="1112.7" r="6.7"/>
<circle class="g" cx="1260.9" cy="1139.7" r="7.1"/>
<circle class="g" cx="1260.9" cy="1188.2" r="3.8"/>
<circle class="g" cx="1210.0" cy="1250.8" r="19.7"/>
<circle class="g s" cx="1210.0" cy="1246.3" r="2.8"/>
<circle class="g" cx="1154.9" cy="936.5" r="16.2"/>
<circle class="g" cx="1151.2" cy="991.5" r="3.9"/>
<circle class="g" cx="1158.8" cy="1016.9" r="5.2"/>
<circle class="g" cx="1224.0" cy="961.5" r="4.0"/>
<circle class="g s" cx="1217.5" cy="936.5" r="3.2"/>
<circle class="g" cx="1181.1" cy="1060.2" r="6.8"/>
<circle class="g" cx="1209.4" cy="1082.9" r="7.3"/>
<circle class="g" cx="1275.8" cy="1067.5" r="7.3"/>
<circle class="g" cx="1254.7" cy="1101.5" r="6.5"/>
<circle class="v" cx="177.3" cy="1283.6" r="8.6"/>
<circle class="v" cx="265.0" cy="1270.1" r="7.5"/>
<circle class="v" cx="261.4" cy="1277.2" r="4.3"/>
<circle class="v s" cx="280.1" cy="1278.2" r="2.5"/>
<circle class="v s" cx="342.3" cy="1283.6" r="2.5"/>
<circle class="v s" cx="360.6" cy="1283.2" r="2.7"/>
<circle class="v" cx="627.7" cy="1285.2" r="4.3"/>
<circle class="v s" cx="646.0" cy="1285.2" r="2.5"/>
<circle class="v" cx="881.8" cy="1248.1" r="5.4"/>
<circle class="v" cx="883.9" cy="1278.2" r="6.5"/>
<circle class="v" cx="905.5" cy="1261.0" r="7.5"/>
<circle class="v" cx="909.8" cy="1269.6" r="7.5"/>
<circle class="v s" cx="960.9" cy="1177.9" r="2.1"/>
<circle class="v" cx="923.8" cy="1237.3" r="9.7"/>
<circle class="v" cx="918.4" cy="1243.7" r="6.5"/>
<circle class="v" cx="927.1" cy="1277.2" r="8.6"/>
<circle class="v" cx="914.1" cy="1280.4" r="5.4"/>
<circle class="v" cx="944.3" cy="1252.4" r="8.6"/>
<circle class="v" cx="955.1" cy="1243.7" r="8.6"/>
<circle class="v" cx="957.3" cy="1230.8" r="6.5"/>
<circle class="v" cx="953.0" cy="1111.1" r="3.2"/>
<circle class="v s" cx="1000.0" cy="1142.4" r="2.1"/>
<circle class="v s" cx="1001.3" cy="935.4" r="3.4"/>
<circle class="v" cx="1081.1" cy="937.5" r="8.6"/>
<circle class="v" cx="1030.4" cy="989.3" r="7.5"/>
<circle class="v" cx="1023.3" cy="998.6" r="4.3"/>
<circle class="v" cx="1108.1" cy="1006.6" r="7.3"/>
<circle class="v" cx="1001.3" cy="1035.3" r="3.0"/>
<circle class="v" cx="1129.6" cy="1035.7" r="4.3"/>
<circle class="v" cx="953.8" cy="1103.2" r="6.5"/>
<circle class="v" cx="1132.9" cy="1092.9" r="8.6"/>
<circle class="v" cx="1030.6" cy="1115.6" r="7.1"/>
<circle class="v" cx="1034.6" cy="1145.7" r="4.9"/>
<circle class="v s" cx="1008.9" cy="1164.1" r="2.1"/>
<circle class="v" cx="1004.5" cy="1198.2" r="5.8"/>
<circle class="v" cx="1031.3" cy="1283.1" r="6.7"/>
<circle class="v" cx="1079.3" cy="1285.4" r="6.3"/>
<circle class="v" cx="1107.2" cy="1132.3" r="6.7"/>
<circle class="v" cx="1100.1" cy="1137.3" r="6.7"/>
<circle class="v" cx="1089.4" cy="1144.6" r="4.9"/>
<circle class="v" cx="1133.2" cy="1112.2" r="7.8"/>
<circle class="v" cx="1140.1" cy="1141.9" r="6.7"/>
<circle class="v" cx="1111.0" cy="1174.3" r="7.1"/>
<circle class="v" cx="1136.3" cy="1188.2" r="2.7"/>
<circle class="v" cx="1084.9" cy="1218.4" r="5.4"/>
<circle class="v" cx="1107.2" cy="1208.3" r="3.6"/>
<circle class="v" cx="1103.4" cy="1216.8" r="7.6"/>
<circle class="v" cx="1107.2" cy="1267.1" r="8.5"/>
<circle class="v" cx="1129.6" cy="1284.3" r="3.1"/>
<circle class="v" cx="1180.5" cy="1110.0" r="5.6"/>
<circle class="v s" cx="1231.9" cy="1125.6" r="3.3"/>
<circle class="v" cx="1278.2" cy="1208.3" r="12.3"/>
<circle class="v" cx="1214.0" cy="1179.3" r="8.5"/>
<circle class="v" cx="1188.8" cy="1182.6" r="6.7"/>
<circle class="v" cx="1158.6" cy="1217.9" r="4.0"/>
<circle class="v" cx="1217.2" cy="1284.3" r="10.7"/>
<circle class="v s" cx="1239.1" cy="1283.1" r="2.8"/>
<circle class="v" cx="1173.0" cy="972.9" r="6.5"/>
<circle class="v" cx="1184.4" cy="1004.4" r="8.1"/>
<circle class="v" cx="1209.4" cy="1028.7" r="6.5"/>
<circle class="v" cx="1217.5" cy="1030.3" r="8.1"/>
<circle class="v" cx="1235.3" cy="937.3" r="5.7"/>
<circle class="v" cx="1209.4" cy="937.3" r="5.7"/>
<circle class="v" cx="1193.3" cy="938.1" r="6.5"/>
<circle class="v" cx="1180.3" cy="938.9" r="4.9"/>
<circle class="v" cx="1181.1" cy="1062.7" r="4.9"/>
<circle class="v" cx="1209.4" cy="1080.5" r="6.5"/>
<circle class="v" cx="1261.2" cy="1099.9" r="7.3"/>
<circle class="v" cx="1191.6" cy="1099.9" r="7.3"/>
<circle class="v" cx="1180.3" cy="1103.9" r="5.7"/>
<circle class="v" cx="1162.5" cy="1091.0" r="3.2"/>
<circle class="n" cx="433.9" cy="1256.0" r="5.6"/>
<circle class="n" cx="844.0" cy="1257.8" r="3.0"/>
<circle class="n s" cx="946.5" cy="1284.3" r="3.0"/>
<circle class="n" cx="998.3" cy="1268.5" r="3.2"/>
<circle class="n" cx="1137.2" cy="964.9" r="4.3"/>
<circle class="n" cx="1114.5" cy="977.9" r="2.8"/>
<circle class="n s" cx="1089.1" cy="1024.5" r="2.7"/>
<circle class="n" cx="1048.7" cy="1140.2" r="4.5"/>
<circle class="n" cx="1027.3" cy="1200.5" r="3.4"/>
<circle class="n s" cx="1000.0" cy="1268.6" r="3.0"/>
<circle class="n s" cx="1158.8" cy="974.2" r="3.1"/>
<circle class="n s" cx="1181.1" cy="984.2" r="2.7"/>
<circle class="n" cx="1202.5" cy="1042.1" r="8.4"/>
<circle class="n" cx="1253.9" cy="981.8" r="2.9"/>
<circle class="n s" cx="1228.0" cy="1087.3" r="3.2"/>
<circle class="r" cx="1209.5" cy="1064.8" r="5.7"/>
<circle class="r" cx="1211.1" cy="1157.5" r="5.3"/>
<circle class="r" cx="1216.0" cy="1131.7" r="4.1"/>
<circle class="r" cx="1035.0" cy="1249.6" r="5.9"/>
<circle class="r" cx="1186.6" cy="982.7" r="5.7"/>
<circle class="r" cx="280.8" cy="1281.5" r="10.4"/>
<circle class="r" cx="265.7" cy="1282.6" r="8.6"/>
<circle class="r s" cx="290.5" cy="1281.9" r="3.0"/>
<circle class="r" cx="305.8" cy="1261.0" r="8.2"/>
<circle class="r" cx="327.8" cy="1247.6" r="5.6"/>
<circle class="r" cx="309.5" cy="1284.3" r="3.0"/>
<circle class="r" cx="316.8" cy="1284.3" r="3.0"/>
<circle class="r s" cx="438.3" cy="1282.6" r="3.0"/>
<circle class="r" cx="720.0" cy="1200.6" r="3.9"/>
<circle class="r" cx="519.8" cy="1282.6" r="7.5"/>
<circle class="r" cx="536.4" cy="1283.6" r="9.1"/>
<circle class="r" cx="442.2" cy="1284.3" r="3.0"/>
<circle class="r" cx="463.3" cy="1284.3" r="3.0"/>
<circle class="r" cx="624.0" cy="1269.6" r="9.5"/>
<circle class="r" cx="704.7" cy="1275.7" r="9.5"/>
<circle class="r" cx="723.2" cy="1200.6" r="5.6"/>
<circle class="r" cx="767.0" cy="1224.3" r="8.6"/>
<circle class="r" cx="777.8" cy="1222.8" r="4.3"/>
<circle class="r" cx="873.1" cy="1252.4" r="9.9"/>
<circle class="r" cx="871.0" cy="1267.5" r="11.9"/>
<circle class="r" cx="900.8" cy="1253.4" r="3.9"/>
<circle class="r" cx="851.1" cy="1265.3" r="3.9"/>
<circle class="r s" cx="789.0" cy="1271.3" r="2.5"/>
<circle class="r" cx="771.8" cy="1281.5" r="12.9"/>
<circle class="r" cx="763.1" cy="1282.6" r="6.5"/>
<circle class="r s" cx="840.1" cy="1274.4" r="2.1"/>
<circle class="r s" cx="847.7" cy="1283.2" r="3.4"/>
<circle class="r" cx="866.7" cy="1282.6" r="6.5"/>
<circle class="r" cx="881.8" cy="1280.4" r="6.5"/>
<circle class="r" cx="949.9" cy="1211.4" r="6.0"/>
<circle class="r s" cx="953.0" cy="1206.0" r="2.5"/>
<circle class="r" cx="928.2" cy="1246.3" r="8.6"/>
<circle class="r s" cx="946.5" cy="1279.3" r="2.1"/>
<circle class="r s" cx="986.6" cy="1117.5" r="3.0"/>
<circle class="r" cx="996.1" cy="1156.4" r="4.3"/>
<circle class="r" cx="979.3" cy="1188.1" r="4.7"/>
<circle class="r s" cx="997.2" cy="1190.9" r="3.4"/>
<circle class="r s" cx="979.3" cy="1199.1" r="3.0"/>
<circle class="r" cx="975.6" cy="1229.7" r="12.5"/>
<circle class="r" cx="979.3" cy="1217.9" r="8.6"/>
<circle class="r" cx="971.9" cy="1243.7" r="7.5"/>
<circle class="r" cx="981.0" cy="1248.1" r="8.6"/>
<circle class="r" cx="968.1" cy="1268.5" r="8.6"/>
<circle class="r" cx="1122.1" cy="952.2" r="13.4"/>
<circle class="r" cx="1070.3" cy="977.9" r="9.9"/>
<circle class="r" cx="1085.4" cy="984.4" r="5.6"/>
<circle class="r" cx="1048.7" cy="993.2" r="3.9"/>
<circle class="r" cx="1026.7" cy="1005.1" r="8.6"/>
<circle class="r" cx="1077.4" cy="1010.9" r="11.9"/>
<circle class="r" cx="1093.0" cy="1009.8" r="8.6"/>
<circle class="r" cx="1111.3" cy="1010.2" r="3.7"/>
<circle class="r" cx="1038.0" cy="1025.3" r="4.7"/>
<circle class="r" cx="1126.6" cy="1024.5" r="3.0"/>
<circle class="r" cx="1129.6" cy="1046.5" r="9.9"/>
<circle class="r s" cx="1132.9" cy="1057.3" r="2.7"/>
<circle class="r s" cx="1100.5" cy="1064.2" r="2.5"/>
<circle class="r s" cx="1096.6" cy="1078.8" r="2.5"/>
<circle class="r" cx="1026.7" cy="1098.2" r="11.9"/>
<circle class="r" cx="1030.4" cy="1094.4" r="6.5"/>
<circle class="r s" cx="997.6" cy="1103.2" r="3.0"/>
<circle class="r" cx="1027.3" cy="1124.5" r="8.5"/>
<circle class="r" cx="1048.7" cy="1130.1" r="9.4"/>
<circle class="r" cx="1048.7" cy="1153.6" r="5.6"/>
<circle class="r s" cx="1056.3" cy="1203.4" r="2.8"/>
<circle class="r" cx="1029.0" cy="1191.5" r="9.4"/>
<circle class="r s" cx="1001.1" cy="1214.3" r="1.9"/>
<circle class="r s" cx="1004.9" cy="1238.9" r="2.1"/>
<circle class="r" cx="1023.0" cy="1240.3" r="6.3"/>
<circle class="r" cx="1019.4" cy="1250.8" r="12.3"/>
<circle class="r" cx="1034.2" cy="1259.2" r="11.2"/>
<circle class="r" cx="1008.9" cy="1284.3" r="8.9"/>
<circle class="r" cx="1049.2" cy="1283.1" r="7.8"/>
<circle class="r" cx="1078.2" cy="1249.0" r="2.9"/>
<circle class="r" cx="1071.5" cy="1113.4" r="10.1"/>
<circle class="r" cx="1086.0" cy="1112.2" r="5.6"/>
<circle class="r" cx="1081.5" cy="1131.9" r="4.9"/>
<circle class="r" cx="1089.4" cy="1127.9" r="4.5"/>
<circle class="r" cx="1078.2" cy="1155.8" r="11.2"/>
<circle class="r" cx="1078.2" cy="1161.4" r="9.4"/>
<circle class="r s" cx="1100.1" cy="1156.5" r="2.6"/>
<circle class="r s" cx="1129.6" cy="1129.0" r="3.0"/>
<circle class="r s" cx="1122.0" cy="1141.9" r="3.0"/>
<circle class="r s" cx="1125.8" cy="1141.9" r="2.1"/>
<circle class="r" cx="1129.6" cy="1164.7" r="2.7"/>
<circle class="r s" cx="1107.9" cy="1179.3" r="2.1"/>
<circle class="r" cx="1129.6" cy="1190.9" r="9.4"/>
<circle class="r" cx="1111.0" cy="1196.0" r="3.1"/>
<circle class="r" cx="1129.1" cy="1200.5" r="8.9"/>
<circle class="r s" cx="1100.1" cy="1213.4" r="2.8"/>
<circle class="r s" cx="1125.8" cy="1238.0" r="2.8"/>
<circle class="r" cx="1122.0" cy="1259.7" r="8.5"/>
<circle class="r" cx="1107.2" cy="1283.1" r="5.8"/>
<circle class="r" cx="1155.0" cy="1120.1" r="8.5"/>
<circle class="r" cx="1158.6" cy="1110.0" r="3.4"/>
<circle class="r s" cx="1147.5" cy="1130.6" r="3.0"/>
<circle class="r" cx="1162.4" cy="1133.5" r="10.7"/>
<circle class="r" cx="1176.9" cy="1150.2" r="11.6"/>
<circle class="r" cx="1184.1" cy="1157.4" r="4.0"/>
<circle class="r" cx="1184.1" cy="1161.4" r="3.6"/>
<circle class="r" cx="1210.0" cy="1114.0" r="5.4"/>
<circle class="r" cx="1231.9" cy="1113.4" r="8.9"/>
<circle class="r s" cx="1227.9" cy="1136.4" r="2.1"/>
<circle class="r s" cx="1276.1" cy="1122.7" r="3.0"/>
<circle class="r s" cx="1250.0" cy="1156.5" r="2.6"/>
<circle class="r" cx="1279.3" cy="1210.5" r="2.7"/>
<circle class="r" cx="1206.0" cy="1171.4" r="5.8"/>
<circle class="r s" cx="1202.6" cy="1183.3" r="2.8"/>
<circle class="r" cx="1224.5" cy="1194.5" r="9.4"/>
<circle class="r" cx="1180.5" cy="1210.1" r="12.3"/>
<circle class="r s" cx="1187.7" cy="1243.4" r="2.8"/>
<circle class="r" cx="1235.3" cy="1243.4" r="6.3"/>
<circle class="r s" cx="1162.5" cy="990.7" r="3.2"/>
<circle class="r" cx="1177.1" cy="1012.5" r="5.5"/>
<circle class="r s" cx="1165.7" cy="1012.5" r="2.1"/>
<circle class="r" cx="1162.5" cy="1050.5" r="4.5"/>
<circle class="r" cx="1173.8" cy="1033.5" r="12.1"/>
<circle class="r" cx="1180.3" cy="1041.6" r="11.6"/>
<circle class="r" cx="1175.5" cy="1035.2" r="6.5"/>
<circle class="r" cx="1206.2" cy="1020.9" r="5.5"/>
<circle class="r" cx="1236.1" cy="1031.1" r="12.9"/>
<circle class="r s" cx="1217.5" cy="1022.7" r="2.1"/>
<circle class="r s" cx="1198.9" cy="983.9" r="2.7"/>
<circle class="r" cx="1264.9" cy="946.2" r="8.9"/>
<circle class="r" cx="1261.2" cy="936.5" r="4.0"/>
<circle class="r s" cx="1228.0" cy="938.1" r="2.7"/>
<circle class="r" cx="1209.4" cy="936.5" r="4.0"/>
<circle class="r s" cx="1184.4" cy="936.5" r="3.2"/>
<circle class="r" cx="1225.6" cy="1051.3" r="12.9"/>
<circle class="r" cx="1232.1" cy="1057.8" r="10.5"/>
<circle class="r" cx="1209.4" cy="1062.7" r="10.5"/>
<circle class="r" cx="1217.5" cy="1057.8" r="8.1"/>
<circle class="r" cx="1160.9" cy="1072.4" r="8.9"/>
<circle class="r" cx="1157.7" cy="1075.6" r="6.5"/>
<circle class="r" cx="1217.5" cy="1070.8" r="4.9"/>
<circle class="r s" cx="1202.5" cy="1091.8" r="3.2"/>
<circle class="r s" cx="1224.5" cy="1095.3" r="2.4"/>
<circle class="r s" cx="1258.0" cy="1068.7" r="2.4"/>
<circle class="r" cx="1261.2" cy="1074.0" r="4.0"/>
<circle class="r" cx="1279.0" cy="1066.4" r="4.0"/>
<circle class="r" cx="1278.2" cy="1085.3" r="10.5"/>
<circle class="r s" cx="1253.9" cy="1095.8" r="2.7"/>
<circle class="r" cx="1151.2" cy="1099.6" r="4.9"/>
<circle class="r" cx="1159.3" cy="1108.0" r="4.0"/>
<circle class="r" cx="1232.1" cy="1108.0" r="6.5"/>
<circle class="b" cx="188.7" cy="1283.6" r="11.9"/>
<circle class="b" cx="239.8" cy="1282.6" r="12.5"/>
<circle class="b s" cx="250.8" cy="1257.8" r="2.7"/>
<circle class="b" cx="301.9" cy="1254.1" r="3.5"/>
<circle class="b" cx="300.2" cy="1284.3" r="3.0"/>
<circle class="b s" cx="335.2" cy="1284.3" r="2.5"/>
<circle class="b s" cx="375.1" cy="1271.8" r="3.4"/>
<circle class="b s" cx="378.9" cy="1284.3" r="3.0"/>
<circle class="b s" cx="411.9" cy="1284.3" r="2.5"/>
<circle class="b s" cx="430.1" cy="1284.3" r="3.0"/>
<circle class="b" cx="276.5" cy="1068.1" r="4.3"/>
<circle class="b" cx="276.5" cy="1068.1" r="3.9"/>
<circle class="b s" cx="448.6" cy="1210.5" r="3.2"/>
<circle class="b s" cx="448.6" cy="1210.5" r="2.7"/>
<circle class="b" cx="584.1" cy="1284.3" r="6.0"/>
<circle class="b" cx="748.7" cy="1162.8" r="6.9"/>
<circle class="b" cx="770.7" cy="1151.4" r="4.1"/>
<circle class="b s" cx="796.1" cy="1218.3" r="2.7"/>
<circle class="b" cx="814.5" cy="1207.1" r="5.6"/>
<circle class="b s" cx="861.9" cy="1209.9" r="2.1"/>
<circle class="b s" cx="737.7" cy="1284.3" r="2.5"/>
<circle class="b" cx="938.9" cy="1142.4" r="3.5"/>
<circle class="b s" cx="942.8" cy="1161.3" r="2.3"/>
<circle class="b s" cx="924.5" cy="1173.8" r="2.1"/>
<circle class="b" cx="949.9" cy="1180.1" r="3.5"/>
<circle class="b s" cx="949.9" cy="1187.7" r="2.7"/>
<circle class="b s" cx="928.2" cy="1252.4" r="2.5"/>
<circle class="b" cx="949.9" cy="1262.1" r="3.7"/>
<circle class="b" cx="949.9" cy="1238.8" r="9.1"/>
<circle class="b s" cx="949.9" cy="1281.9" r="2.1"/>
<circle class="b s" cx="968.1" cy="1140.2" r="3.0"/>
<circle class="b s" cx="975.6" cy="1137.4" r="2.5"/>
<circle class="b s" cx="975.6" cy="1111.1" r="2.5"/>
<circle class="b" cx="964.6" cy="1161.3" r="9.7"/>
<circle class="b s" cx="993.9" cy="1157.9" r="2.5"/>
<circle class="b s" cx="968.1" cy="1200.6" r="2.1"/>
<circle class="b s" cx="975.6" cy="1250.6" r="3.0"/>
<circle class="b s" cx="968.1" cy="1254.1" r="2.5"/>
<circle class="b s" cx="989.6" cy="1237.3" r="2.5"/>
<circle class="b s" cx="1027.2" cy="942.9" r="2.5"/>
<circle class="b s" cx="1077.9" cy="936.5" r="3.0"/>
<circle class="b" cx="1027.2" cy="964.9" r="3.9"/>
<circle class="b" cx="1103.7" cy="950.9" r="3.5"/>
<circle class="b s" cx="1103.7" cy="960.6" r="3.0"/>
<circle class="b s" cx="1052.6" cy="994.1" r="3.4"/>
<circle class="b s" cx="1096.6" cy="1011.5" r="3.0"/>
<circle class="b s" cx="1103.7" cy="1002.7" r="3.0"/>
<circle class="b" cx="1001.3" cy="1022.8" r="3.0"/>
<circle class="b" cx="1067.5" cy="1033.5" r="6.0"/>
<circle class="b" cx="1045.5" cy="1059.0" r="9.1"/>
<circle class="b" cx="1071.0" cy="1056.2" r="5.8"/>
<circle class="b s" cx="1096.6" cy="1059.4" r="3.0"/>
<circle class="b" cx="1071.0" cy="1078.8" r="9.1"/>
<circle class="b s" cx="975.8" cy="1065.9" r="2.1"/>
<circle class="b s" cx="964.6" cy="1084.2" r="2.5"/>
<circle class="b s" cx="994.2" cy="1076.7" r="2.3"/>
<circle class="b" cx="1019.6" cy="1085.3" r="3.0"/>
<circle class="b s" cx="1001.3" cy="1104.3" r="2.5"/>
<circle class="b s" cx="1045.5" cy="1106.9" r="2.5"/>
<circle class="b s" cx="975.8" cy="1109.0" r="2.1"/>
<circle class="b" cx="1071.0" cy="1103.6" r="7.8"/>
<circle class="b s" cx="1093.0" cy="1090.1" r="2.3"/>
<circle class="b" cx="1045.4" cy="1122.3" r="3.8"/>
<circle class="b" cx="1052.5" cy="1145.3" r="2.7"/>
<circle class="b s" cx="1001.1" cy="1142.8" r="2.1"/>
<circle class="b" cx="1052.5" cy="1183.7" r="2.7"/>
<circle class="b s" cx="1045.4" cy="1187.1" r="3.3"/>
<circle class="b s" cx="1052.5" cy="1195.3" r="2.8"/>
<circle class="b" cx="1015.6" cy="1190.4" r="6.3"/>
<circle class="b" cx="1027.3" cy="1201.6" r="8.5"/>
<circle class="b s" cx="1052.5" cy="1268.2" r="3.3"/>
<circle class="b s" cx="1026.8" cy="1277.1" r="2.1"/>
<circle class="b s" cx="1078.2" cy="1241.8" r="2.1"/>
<circle class="b s" cx="1078.2" cy="1133.0" r="2.1"/>
<circle class="b s" cx="1096.5" cy="1118.3" r="2.6"/>
<circle class="b s" cx="1103.9" cy="1144.6" r="2.1"/>
<circle class="b" cx="1140.1" cy="1154.0" r="3.1"/>
<circle class="b s" cx="1173.1" cy="1137.5" r="3.3"/>
<circle class="b" cx="1257.4" cy="1164.3" r="6.0"/>
<circle class="b s" cx="1275.9" cy="1195.6" r="2.8"/>
<circle class="b" cx="1184.1" cy="1183.7" r="2.9"/>
<circle class="b" cx="1184.1" cy="1203.4" r="6.7"/>
<circle class="b" cx="1198.8" cy="1223.3" r="3.1"/>
<circle class="b s" cx="1148.0" cy="976.9" r="3.1"/>
<circle class="b" cx="1184.4" cy="964.8" r="6.1"/>
<circle class="b" cx="1184.4" cy="973.4" r="4.9"/>
<circle class="b s" cx="1177.1" cy="981.8" r="3.4"/>
<circle class="b s" cx="1184.4" cy="983.4" r="3.1"/>
<circle class="b s" cx="1173.0" cy="1003.1" r="2.7"/>
<circle class="b" cx="1195.2" cy="1009.3" r="4.2"/>
<circle class="b s" cx="1144.2" cy="1012.2" r="2.7"/>
<circle class="b" cx="1198.9" cy="1026.6" r="2.9"/>
<circle class="b" cx="1225.1" cy="1030.6" r="5.2"/>
<circle class="b" cx="1224.8" cy="962.8" r="7.8"/>
<circle class="b s" cx="1249.9" cy="1046.2" r="2.9"/>
<circle class="b s" cx="1173.8" cy="1056.7" r="3.4"/>
<circle class="b" cx="1198.9" cy="1072.4" r="3.6"/>
<circle class="b" cx="1147.6" cy="1085.6" r="2.9"/>
<line x1="906.2" y1="934.1" x2="906.2" y2="1286.7" stroke="#E24A33" stroke-width="3.3"/>
<polyline class="av" points="205.3,1282.6 213.9,1281.9 229.0,1283.2 244.1,1282.6 252.8,1280.4 268.9,1279.8 276.5,1265.7 279.7,1265.3 284.0,1267.5 298.1,1267.0 301.9,1268.5 305.8,1266.8 309.9,1268.5 320.7,1267.5 328.2,1278.9 343.3,1278.7 361.7,1277.8 364.9,1278.9 375.3,1276.5 380.0,1279.3 393.6,1274.4 411.3,1277.8 415.6,1277.2 429.6,1278.2 433.9,1275.7 440.0,1277.8 440.0,1277.8 449.7,1272.2 461.6,1272.2 470.8,1270.7 478.8,1273.3 489.2,1271.1 514.4,1277.2 522.0,1275.4 526.3,1277.2 534.9,1270.7 541.4,1272.2 545.7,1272.2 554.3,1275.0 565.8,1270.7 575.9,1272.2 587.8,1278.2 601.8,1278.9 621.2,1282.6 641.7,1279.3 647.1,1280.4 666.5,1280.4 675.1,1282.1 691.3,1282.1 703.2,1281.1 711.8,1279.3 718.3,1279.3 720.0,1280.4 723.2,1271.8 743.7,1272.2 748.0,1267.9 754.5,1267.5 763.1,1269.2 767.5,1266.4 770.7,1261.0 774.4,1268.5 778.2,1264.9 789.0,1263.6 795.5,1261.4 799.8,1265.3 804.1,1263.1 810.6,1262.5 818.1,1260.3 823.5,1264.2 833.2,1265.3 841.9,1261.6 850.5,1263.1 855.9,1266.8 862.4,1261.6 868.8,1264.2 879.6,1261.6 894.7,1260.6 899.0,1256.7 904.4,1251.3 906.6,1250.2 909.8,1244.8 913.1,1249.1 918.4,1244.8 927.1,1241.1 932.5,1236.2 938.9,1226.5 944.3,1228.2 953.0,1225.4 960.5,1222.2 964.8,1213.1 970.2,1209.2 978.8,1202.3 987.5,1202.8 990.7,1209.2 997.2,1203.8 1000.0,1198.4 1000.0,1199.4 1003.4,1196.0 1006.7,1196.7 1008.9,1194.9 1012.3,1198.2 1015.6,1206.1 1020.1,1196.0 1026.8,1187.1 1031.3,1181.5 1033.5,1181.9 1040.2,1170.3 1045.8,1160.3 1051.4,1159.2 1054.7,1156.9 1060.3,1140.2 1063.7,1135.7 1067.0,1120.1 1071.5,1115.6 1076.0,1114.0 1080.4,1113.4 1083.8,1110.0 1084.9,1105.5 1092.9,1101.5 1097.8,1098.3 1103.5,1092.3 1109.1,1095.8 1114.8,1091.8 1120.4,1096.6 1126.9,1099.1 1133.4,1098.3 1138.2,1097.4 1140.7,1098.3 1148.0,1092.3 1156.0,1085.3 1164.1,1078.0 1170.6,1074.0 1175.5,1069.9 1179.5,1061.9 1183.5,1058.6 1187.6,1065.9 1191.6,1061.9 1195.7,1062.7 1203.0,1066.7 1209.4,1065.9 1215.9,1069.9 1220.8,1068.3 1230.5,1072.4 1235.3,1072.4 1239.4,1067.5 1243.4,1069.9 1249.9,1072.4 1255.5,1077.2 1261.2,1082.1 1264.4,1077.2 1272.5,1078.8 1277.4,1082.1 1280.6,1085.3"/>
</g>
<rect x="163.2" y="934.1" width="1123.7" height="352.6" fill="none" stroke="#464646" stroke-width="2.3"/>
<line x1="154.2" y1="1286.7" x2="163.2" y2="1286.7" stroke="#464646" stroke-width="1.9"/>
<text x="68.6" y="1300.5" font-size="37" textLength="75" lengthAdjust="spacingAndGlyphs">0.00</text>
<line x1="154.2" y1="1198.5" x2="163.2" y2="1198.5" stroke="#464646" stroke-width="1.9"/>
<text x="68.6" y="1212.3" font-size="37" textLength="75" lengthAdjust="spacingAndGlyphs">0.25</text>
<line x1="154.2" y1="1110.4" x2="163.2" y2="1110.4" stroke="#464646" stroke-width="1.9"/>
<text x="68.6" y="1124.2" font-size="37" textLength="75" lengthAdjust="spacingAndGlyphs">0.50</text>
<line x1="154.2" y1="1022.2" x2="163.2" y2="1022.2" stroke="#464646" stroke-width="1.9"/>
<text x="68.6" y="1036.0" font-size="37" textLength="75" lengthAdjust="spacingAndGlyphs">0.75</text>
<line x1="154.2" y1="934.1" x2="163.2" y2="934.1" stroke="#464646" stroke-width="1.9"/>
<text x="68.6" y="947.9" font-size="37" textLength="75" lengthAdjust="spacingAndGlyphs">1.00</text>
<path d="M163.04 1286.7v5.2M166.70 1286.7v5.2M170.36 1286.7v5.2M174.02 1286.7v5.2M177.68 1286.7v5.2M181.34 1286.7v5.2M185.00 1286.7v5.2M188.67 1286.7v5.2M192.33 1286.7v5.2M195.99 1286.7v5.2M199.65 1286.7v5.2M203.31 1286.7v5.2M206.97 1286.7v5.2M210.63 1286.7v5.2M214.29 1286.7v5.2M217.95 1286.7v5.2M221.61 1286.7v5.2M225.28 1286.7v5.2M228.94 1286.7v5.2M232.60 1286.7v5.2M236.26 1286.7v5.2M239.92 1286.7v5.2M243.58 1286.7v5.2M247.24 1286.7v5.2M250.90 1286.7v5.2M254.56 1286.7v5.2M258.23 1286.7v5.2M261.89 1286.7v5.2M265.55 1286.7v5.2M269.21 1286.7v5.2M272.87 1286.7v5.2M276.53 1286.7v5.2M280.19 1286.7v5.2M283.85 1286.7v5.2M287.51 1286.7v5.2M291.17 1286.7v5.2M294.83 1286.7v5.2M298.50 1286.7v5.2M302.16 1286.7v5.2M305.82 1286.7v5.2M309.48 1286.7v5.2M313.14 1286.7v5.2M316.80 1286.7v5.2M320.46 1286.7v5.2M324.12 1286.7v5.2M327.78 1286.7v5.2M331.44 1286.7v5.2M335.11 1286.7v5.2M338.77 1286.7v5.2M342.43 1286.7v5.2M346.09 1286.7v5.2M349.75 1286.7v5.2M353.41 1286.7v5.2M357.07 1286.7v5.2M360.73 1286.7v5.2M364.39 1286.7v5.2M368.05 1286.7v5.2M371.72 1286.7v5.2M375.38 1286.7v5.2M379.04 1286.7v5.2M382.70 1286.7v5.2M386.36 1286.7v5.2M390.02 1286.7v5.2M393.68 1286.7v5.2M397.34 1286.7v5.2M401.00 1286.7v5.2M404.66 1286.7v5.2M408.33 1286.7v5.2M411.99 1286.7v5.2M415.65 1286.7v5.2M419.31 1286.7v5.2M422.97 1286.7v5.2M426.63 1286.7v5.2M430.29 1286.7v5.2M433.95 1286.7v5.2M437.61 1286.7v5.2M441.27 1286.7v5.2M444.94 1286.7v5.2M448.60 1286.7v5.2M452.26 1286.7v5.2M455.92 1286.7v5.2M459.58 1286.7v5.2M463.24 1286.7v5.2M466.90 1286.7v5.2M470.56 1286.7v5.2M474.22 1286.7v5.2M477.88 1286.7v5.2M481.55 1286.7v5.2M485.21 1286.7v5.2M488.87 1286.7v5.2M492.53 1286.7v5.2M496.19 1286.7v5.2M499.85 1286.7v5.2M503.51 1286.7v5.2M507.17 1286.7v5.2M510.83 1286.7v5.2M514.50 1286.7v5.2M518.16 1286.7v5.2M521.82 1286.7v5.2M525.48 1286.7v5.2M529.14 1286.7v5.2M532.80 1286.7v5.2M536.46 1286.7v5.2M540.12 1286.7v5.2M543.78 1286.7v5.2M547.44 1286.7v5.2M551.11 1286.7v5.2M554.77 1286.7v5.2M558.43 1286.7v5.2M562.09 1286.7v5.2M565.75 1286.7v5.2M569.41 1286.7v5.2M573.07 1286.7v5.2M576.73 1286.7v5.2M580.39 1286.7v5.2M584.05 1286.7v5.2M587.71 1286.7v5.2M591.38 1286.7v5.2M595.04 1286.7v5.2M598.70 1286.7v5.2M602.36 1286.7v5.2M606.02 1286.7v5.2M609.68 1286.7v5.2M613.34 1286.7v5.2M617.00 1286.7v5.2M620.66 1286.7v5.2M624.33 1286.7v5.2M627.99 1286.7v5.2M631.65 1286.7v5.2M635.31 1286.7v5.2M638.97 1286.7v5.2M642.63 1286.7v5.2M646.29 1286.7v5.2M649.95 1286.7v5.2M653.61 1286.7v5.2M657.27 1286.7v5.2M660.93 1286.7v5.2M664.60 1286.7v5.2M668.26 1286.7v5.2M671.92 1286.7v5.2M675.58 1286.7v5.2M679.24 1286.7v5.2M682.90 1286.7v5.2M686.56 1286.7v5.2M690.22 1286.7v5.2M693.88 1286.7v5.2M697.55 1286.7v5.2M701.21 1286.7v5.2M704.87 1286.7v5.2M708.53 1286.7v5.2M712.19 1286.7v5.2M715.85 1286.7v5.2M719.51 1286.7v5.2M723.17 1286.7v5.2M726.83 1286.7v5.2M730.49 1286.7v5.2M734.15 1286.7v5.2M737.82 1286.7v5.2M741.48 1286.7v5.2M745.14 1286.7v5.2M748.80 1286.7v5.2M752.46 1286.7v5.2M756.12 1286.7v5.2M759.78 1286.7v5.2M763.44 1286.7v5.2M767.10 1286.7v5.2M770.77 1286.7v5.2M774.43 1286.7v5.2M778.09 1286.7v5.2M781.75 1286.7v5.2M785.41 1286.7v5.2M789.07 1286.7v5.2M792.73 1286.7v5.2M796.39 1286.7v5.2M800.05 1286.7v5.2M803.71 1286.7v5.2M807.38 1286.7v5.2M811.04 1286.7v5.2M814.70 1286.7v5.2M818.36 1286.7v5.2M822.02 1286.7v5.2M825.68 1286.7v5.2M829.34 1286.7v5.2M833.00 1286.7v5.2M836.66 1286.7v5.2M840.32 1286.7v5.2M843.98 1286.7v5.2M847.65 1286.7v5.2M851.31 1286.7v5.2M854.97 1286.7v5.2M858.63 1286.7v5.2M862.29 1286.7v5.2M865.95 1286.7v5.2M869.61 1286.7v5.2M873.27 1286.7v5.2M876.93 1286.7v5.2M880.60 1286.7v5.2M884.26 1286.7v5.2M887.92 1286.7v5.2M891.58 1286.7v5.2M895.24 1286.7v5.2M898.90 1286.7v5.2M902.56 1286.7v5.2M906.22 1286.7v5.2M909.88 1286.7v5.2M913.54 1286.7v5.2M917.20 1286.7v5.2M920.87 1286.7v5.2M924.53 1286.7v5.2M928.19 1286.7v5.2M931.85 1286.7v5.2M935.51 1286.7v5.2M939.17 1286.7v5.2M942.83 1286.7v5.2M946.49 1286.7v5.2M950.15 1286.7v5.2M953.82 1286.7v5.2M957.48 1286.7v5.2M961.14 1286.7v5.2M964.80 1286.7v5.2M968.46 1286.7v5.2M972.12 1286.7v5.2M975.78 1286.7v5.2M979.44 1286.7v5.2M983.10 1286.7v5.2M986.76 1286.7v5.2M990.42 1286.7v5.2M994.09 1286.7v5.2M997.75 1286.7v5.2M1001.41 1286.7v5.2M1005.07 1286.7v5.2M1008.73 1286.7v5.2M1012.39 1286.7v5.2M1016.05 1286.7v5.2M1019.71 1286.7v5.2M1023.37 1286.7v5.2M1027.04 1286.7v5.2M1030.70 1286.7v5.2M1034.36 1286.7v5.2M1038.02 1286.7v5.2M1041.68 1286.7v5.2M1045.34 1286.7v5.2M1049.00 1286.7v5.2M1052.66 1286.7v5.2M1056.32 1286.7v5.2M1059.98 1286.7v5.2M1063.64 1286.7v5.2M1067.31 1286.7v5.2M1070.97 1286.7v5.2M1074.63 1286.7v5.2M1078.29 1286.7v5.2M1081.95 1286.7v5.2M1085.61 1286.7v5.2M1089.27 1286.7v5.2M1092.93 1286.7v5.2M1096.59 1286.7v5.2M1100.26 1286.7v5.2M1103.92 1286.7v5.2M1107.58 1286.7v5.2M1111.24 1286.7v5.2M1114.90 1286.7v5.2M1118.56 1286.7v5.2M1122.22 1286.7v5.2M1125.88 1286.7v5.2M1129.54 1286.7v5.2M1133.20 1286.7v5.2M1136.87 1286.7v5.2M1140.53 1286.7v5.2M1144.19 1286.7v5.2M1147.85 1286.7v5.2M1151.51 1286.7v5.2M1155.17 1286.7v5.2M1158.83 1286.7v5.2M1162.49 1286.7v5.2M1166.15 1286.7v5.2M1169.81 1286.7v5.2M1173.47 1286.7v5.2M1177.14 1286.7v5.2M1180.80 1286.7v5.2M1184.46 1286.7v5.2M1188.12 1286.7v5.2M1191.78 1286.7v5.2M1195.44 1286.7v5.2M1199.10 1286.7v5.2M1202.76 1286.7v5.2M1206.42 1286.7v5.2M1210.09 1286.7v5.2M1213.75 1286.7v5.2M1217.41 1286.7v5.2M1221.07 1286.7v5.2M1224.73 1286.7v5.2M1228.39 1286.7v5.2M1232.05 1286.7v5.2M1235.71 1286.7v5.2M1239.37 1286.7v5.2M1243.03 1286.7v5.2M1246.70 1286.7v5.2M1250.36 1286.7v5.2M1254.02 1286.7v5.2M1257.68 1286.7v5.2M1261.34 1286.7v5.2M1265.00 1286.7v5.2M1268.66 1286.7v5.2M1272.32 1286.7v5.2M1275.98 1286.7v5.2M1279.64 1286.7v5.2M1283.31 1286.7v5.2M1286.97 1286.7v5.2" stroke="#464646" stroke-width="1.3" fill="none"/>
<path d="M166.70 1286.7v9.4M276.53 1286.7v9.4M390.02 1286.7v9.4M499.85 1286.7v9.4M613.34 1286.7v9.4M726.83 1286.7v9.4M836.66 1286.7v9.4M950.15 1286.7v9.4M1059.98 1286.7v9.4M1173.47 1286.7v9.4M1286.97 1286.7v9.4" stroke="#464646" stroke-width="1.9" fill="none"/>
<text x="645.5" y="918.5" font-size="37" textLength="160.4" lengthAdjust="spacingAndGlyphs">C28312T</text>
<text x="722.9" y="1004.1" font-size="31.2" textLength="175.5" lengthAdjust="spacingAndGlyphs">2022-10-20</text>
<text transform="translate(160.2 1327.0) rotate(-45)" x="-170.5" y="0" font-size="37" textLength="170.5" lengthAdjust="spacingAndGlyphs">01-Apr-22</text>
<text transform="translate(270.0 1327.0) rotate(-45)" x="-182.5" y="0" font-size="37" textLength="182.5" lengthAdjust="spacingAndGlyphs">01-May-22</text>
<text transform="translate(383.5 1327.0) rotate(-45)" x="-166.5" y="0" font-size="37" textLength="166.5" lengthAdjust="spacingAndGlyphs">01-Jun-22</text>
<text transform="translate(493.4 1327.0) rotate(-45)" x="-154.5" y="0" font-size="37" textLength="154.5" lengthAdjust="spacingAndGlyphs">01-Jul-22</text>
<text transform="translate(606.8 1327.0) rotate(-45)" x="-178.0" y="0" font-size="37" textLength="178.0" lengthAdjust="spacingAndGlyphs">01-Aug-22</text>
<text transform="translate(720.3 1327.0) rotate(-45)" x="-176.0" y="0" font-size="37" textLength="176.0" lengthAdjust="spacingAndGlyphs">01-Sep-22</text>
<text transform="translate(830.2 1327.0) rotate(-45)" x="-171.5" y="0" font-size="37" textLength="171.5" lengthAdjust="spacingAndGlyphs">01-Oct-22</text>
<text transform="translate(943.7 1327.0) rotate(-45)" x="-178.5" y="0" font-size="37" textLength="178.5" lengthAdjust="spacingAndGlyphs">01-Nov-22</text>
<text transform="translate(1053.5 1327.0) rotate(-45)" x="-180.0" y="0" font-size="37" textLength="180.0" lengthAdjust="spacingAndGlyphs">01-Dec-22</text>
<text transform="translate(1167.0 1327.0) rotate(-45)" x="-169.5" y="0" font-size="37" textLength="169.5" lengthAdjust="spacingAndGlyphs">01-Jan-23</text>
<text transform="translate(1280.5 1327.0) rotate(-45)" x="-174.0" y="0" font-size="37" textLength="174.0" lengthAdjust="spacingAndGlyphs">01-Feb-23</text>
<text x="663.7" y="1497.1" font-size="37" textLength="87" lengthAdjust="spacingAndGlyphs">Date</text>
<text transform="translate(37.6 921.3) rotate(-90)" x="0" y="0" font-size="37" textLength="358.5" lengthAdjust="spacingAndGlyphs">Mutation Frequency</text>
<rect x="60.5" y="1555.2" width="1193" height="82" rx="5" ry="5" fill="#fff" stroke="#464646" stroke-width="2"/>
<circle class="y" cx="102.6" cy="1582.6" r="8.8"/>
<text x="156.2" y="1590.2" font-size="32" textLength="186.5" lengthAdjust="spacingAndGlyphs">Central East</text>
<circle class="p" cx="102.6" cy="1611.3" r="8.8"/>
<text x="156.2" y="1619.2" font-size="32" textLength="195.2" lengthAdjust="spacingAndGlyphs">Central West</text>
<circle class="g" cx="442.6" cy="1582.6" r="8.8"/>
<text x="496.2" y="1590.2" font-size="32" textLength="63.6" lengthAdjust="spacingAndGlyphs">East</text>
<circle class="v" cx="442.6" cy="1611.3" r="8.8"/>
<text x="496.2" y="1619.2" font-size="32" textLength="159.2" lengthAdjust="spacingAndGlyphs">North East</text>
<circle class="n" cx="746.5" cy="1582.6" r="8.8"/>
<text x="801.1" y="1590.2" font-size="32" textLength="168.3" lengthAdjust="spacingAndGlyphs">North West</text>
<circle class="r" cx="746.5" cy="1611.3" r="8.8"/>
<text x="801.1" y="1619.2" font-size="32" textLength="171.8" lengthAdjust="spacingAndGlyphs">South West</text>
<circle class="b" cx="1063.5" cy="1582.6" r="8.8"/>
<text x="1117.1" y="1590.2" font-size="32" textLength="111.3" lengthAdjust="spacingAndGlyphs">Toronto</text>
<line x1="1031.4" y1="1609.3" x2="1095.1" y2="1609.3" stroke="#454545" stroke-width="3.4"/>
<text x="1118" y="1619.2" font-size="32" textLength="122" lengthAdjust="spacingAndGlyphs">Average</text>
</svg></body></html>
